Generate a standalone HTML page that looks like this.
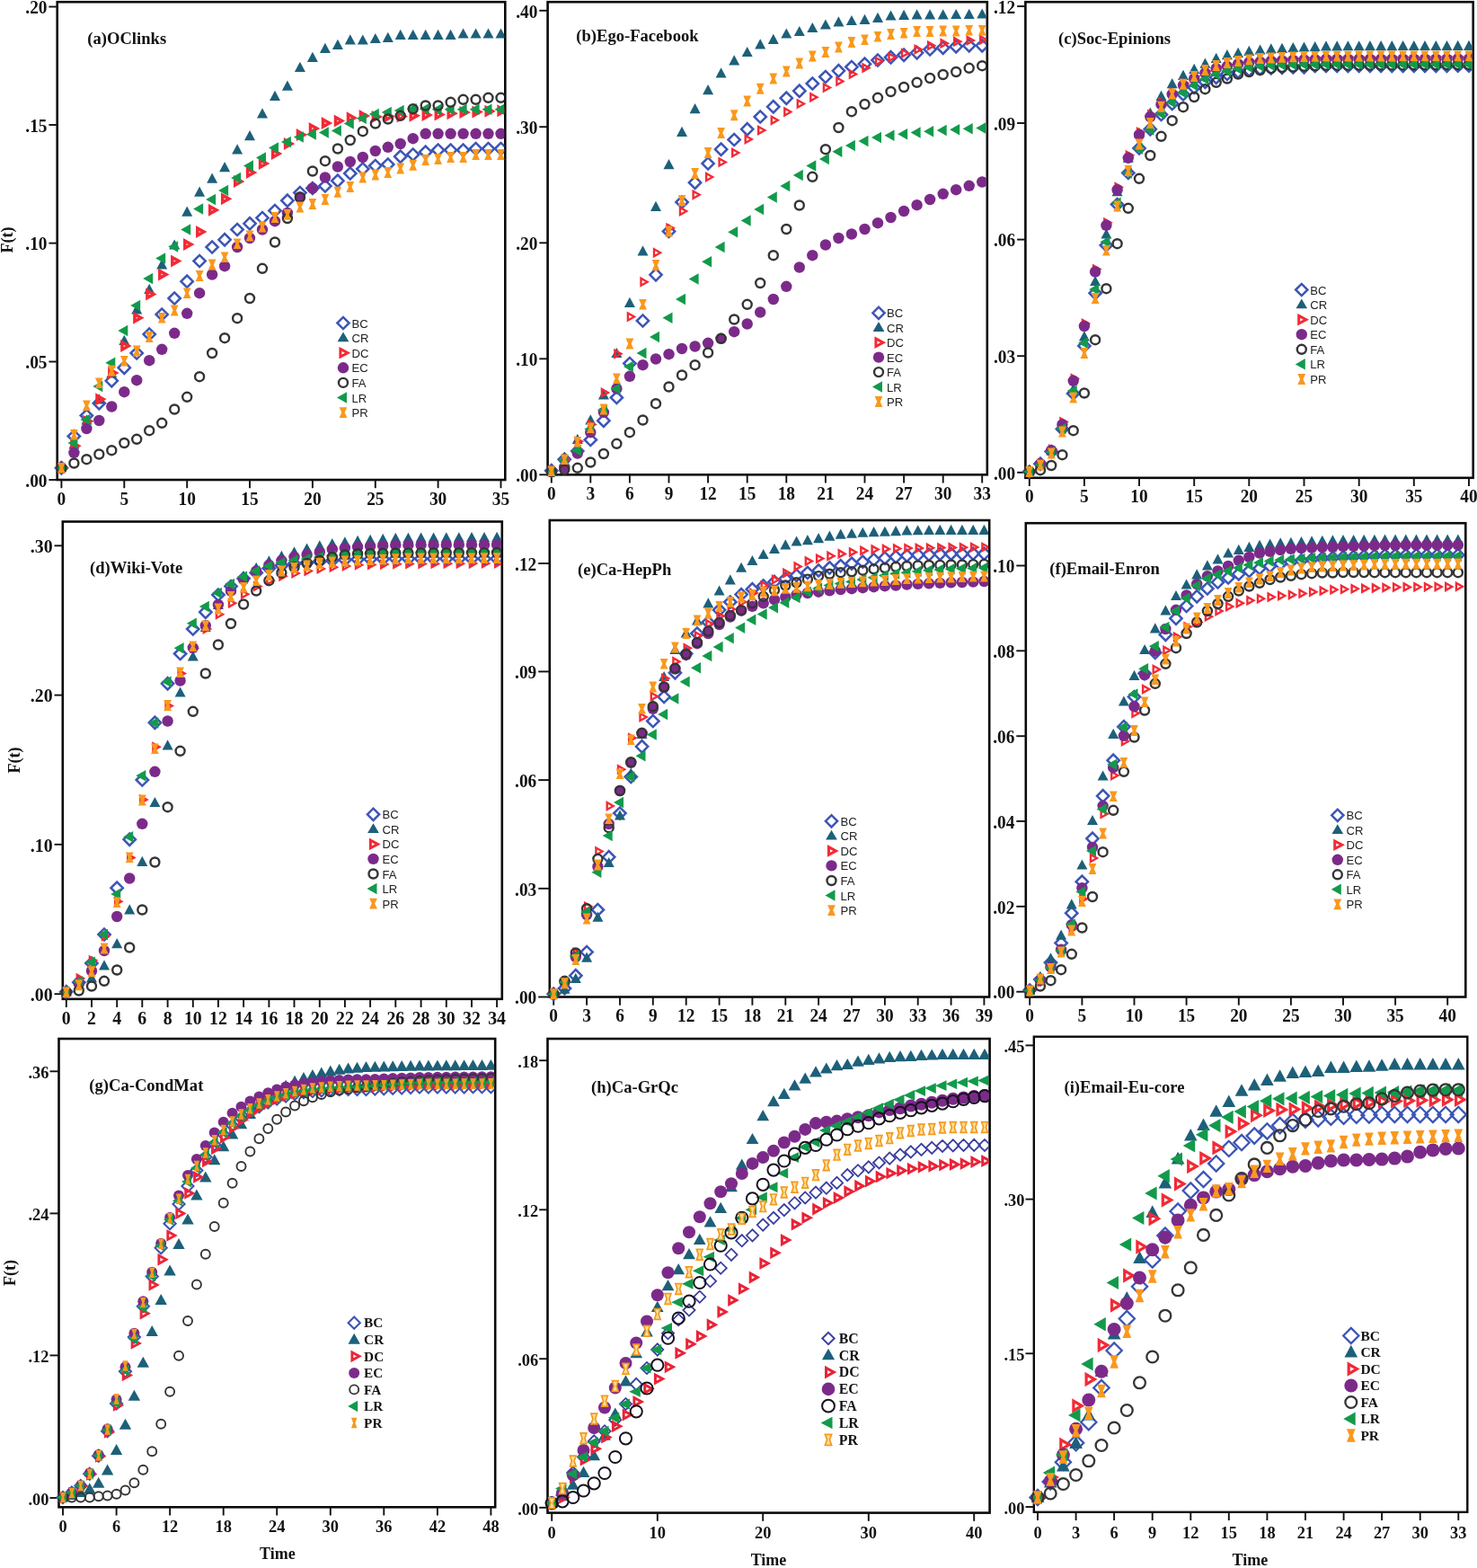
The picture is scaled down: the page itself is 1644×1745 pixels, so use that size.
<!DOCTYPE html>
<html lang="en">
<head>
<meta charset="utf-8">
<title>F(t) versus Time for nine networks</title>
<style>
html,body{margin:0;padding:0;background:#fff;}
body{width:1644px;height:1745px;overflow:hidden;}
svg{display:block;}
.ax{font-family:'Liberation Serif', 'DejaVu Serif', serif;font-weight:bold;fill:#111;}
.ti{font-family:'Liberation Serif', 'DejaVu Serif', serif;font-weight:bold;fill:#111;}
.lgs{font-family:'Liberation Sans', 'DejaVu Sans', sans-serif;fill:#222;}
.lgb{font-family:'Liberation Serif', 'DejaVu Serif', serif;font-weight:bold;fill:#111;}
</style>
</head>
<body>
<svg width="1644" height="1745" viewBox="0 0 1644 1745">
<rect width="1644" height="1745" fill="#fff"/>
<defs>
<clipPath id="ca"><rect x="51.7" y="0.9" width="509.7" height="545.1"/></clipPath>
<clipPath id="cb"><rect x="597.6" y="0.9" width="500.3" height="539.4"/></clipPath>
<clipPath id="cc"><rect x="1129.4" y="0.9" width="509.4" height="542.9"/></clipPath>
<clipPath id="cd"><rect x="57.8" y="579.2" width="500.1" height="544.6"/></clipPath>
<clipPath id="ce"><rect x="599.8" y="577.7" width="500.5" height="543.8"/></clipPath>
<clipPath id="cf"><rect x="1129.8" y="580.9" width="500.6" height="540.6"/></clipPath>
<clipPath id="cg"><rect x="53.5" y="1154.7" width="496.8" height="534.6"/></clipPath>
<clipPath id="ch"><rect x="597.5" y="1154.7" width="503.2" height="540.9"/></clipPath>
<clipPath id="ci"><rect x="1138.8" y="1152.5" width="493.7" height="542.3"/></clipPath>
</defs>
<rect x="63.7" y="2.2" width="498.6" height="531.8" fill="none" stroke="#0a0a0a" stroke-width="2.6"/>
<path d="M54.4 7.5H63.7" stroke="#111" stroke-width="1.9"/>
<text transform="translate(52.5 15.2) scale(0.93 1)" text-anchor="end" class="ax" font-size="20.8">.20</text>
<path d="M54.4 139H63.7" stroke="#111" stroke-width="1.9"/>
<text transform="translate(52.5 146.7) scale(0.93 1)" text-anchor="end" class="ax" font-size="20.8">.15</text>
<path d="M54.4 270.6H63.7" stroke="#111" stroke-width="1.9"/>
<text transform="translate(52.5 278.3) scale(0.93 1)" text-anchor="end" class="ax" font-size="20.8">.10</text>
<path d="M54.4 402.5H63.7" stroke="#111" stroke-width="1.9"/>
<text transform="translate(52.5 410.2) scale(0.93 1)" text-anchor="end" class="ax" font-size="20.8">.05</text>
<path d="M54.4 534H63.7" stroke="#111" stroke-width="1.9"/>
<text transform="translate(52.5 541.7) scale(0.93 1)" text-anchor="end" class="ax" font-size="20.8">.00</text>
<path d="M68.4 534V543.2" stroke="#111" stroke-width="1.9"/>
<text transform="translate(68.4 561.5) scale(0.93 1)" text-anchor="middle" class="ax" font-size="20.8">0</text>
<path d="M138.3 534V543.2" stroke="#111" stroke-width="1.9"/>
<text transform="translate(138.3 561.5) scale(0.93 1)" text-anchor="middle" class="ax" font-size="20.8">5</text>
<path d="M208.2 534V543.2" stroke="#111" stroke-width="1.9"/>
<text transform="translate(208.2 561.5) scale(0.93 1)" text-anchor="middle" class="ax" font-size="20.8">10</text>
<path d="M278 534V543.2" stroke="#111" stroke-width="1.9"/>
<text transform="translate(278 561.5) scale(0.93 1)" text-anchor="middle" class="ax" font-size="20.8">15</text>
<path d="M347.9 534V543.2" stroke="#111" stroke-width="1.9"/>
<text transform="translate(347.9 561.5) scale(0.93 1)" text-anchor="middle" class="ax" font-size="20.8">20</text>
<path d="M417.8 534V543.2" stroke="#111" stroke-width="1.9"/>
<text transform="translate(417.8 561.5) scale(0.93 1)" text-anchor="middle" class="ax" font-size="20.8">25</text>
<path d="M487.6 534V543.2" stroke="#111" stroke-width="1.9"/>
<text transform="translate(487.6 561.5) scale(0.93 1)" text-anchor="middle" class="ax" font-size="20.8">30</text>
<path d="M557.5 534V543.2" stroke="#111" stroke-width="1.9"/>
<text transform="translate(557.5 561.5) scale(0.93 1)" text-anchor="middle" class="ax" font-size="20.8">35</text>
<g clip-path="url(#ca)">
<g><path d="M61.8 520.8L68.4 514.1L75 520.8L68.4 527.4Z" fill="none" stroke="#3c55b6" stroke-width="2.5"/><path d="M75.7 485.5L82.4 478.9L89 485.5L82.4 492.1Z" fill="none" stroke="#3c55b6" stroke-width="2.5"/><path d="M89.7 462.5L96.4 455.9L103 462.5L96.4 469.1Z" fill="none" stroke="#3c55b6" stroke-width="2.5"/><path d="M103.7 448.8L110.3 442.1L117 448.8L110.3 455.4Z" fill="none" stroke="#3c55b6" stroke-width="2.5"/><path d="M117.7 423.8L124.3 417.1L130.9 423.8L124.3 430.4Z" fill="none" stroke="#3c55b6" stroke-width="2.5"/><path d="M131.6 409.2L138.3 402.6L144.9 409.2L138.3 415.9Z" fill="none" stroke="#3c55b6" stroke-width="2.5"/><path d="M145.6 393L152.2 386.4L158.9 393L152.2 399.6Z" fill="none" stroke="#3c55b6" stroke-width="2.5"/><path d="M159.6 372L166.2 365.4L172.9 372L166.2 378.6Z" fill="none" stroke="#3c55b6" stroke-width="2.5"/><path d="M173.6 350L180.2 343.4L186.8 350L180.2 356.6Z" fill="none" stroke="#3c55b6" stroke-width="2.5"/><path d="M187.5 332L194.2 325.4L200.8 332L194.2 338.6Z" fill="none" stroke="#3c55b6" stroke-width="2.5"/><path d="M201.5 313.2L208.2 306.6L214.8 313.2L208.2 319.9Z" fill="none" stroke="#3c55b6" stroke-width="2.5"/><path d="M215.5 290.5L222.1 283.9L228.8 290.5L222.1 297.1Z" fill="none" stroke="#3c55b6" stroke-width="2.5"/><path d="M229.5 275L236.1 268.4L242.7 275L236.1 281.6Z" fill="none" stroke="#3c55b6" stroke-width="2.5"/><path d="M243.4 266.8L250.1 260.1L256.7 266.8L250.1 273.4Z" fill="none" stroke="#3c55b6" stroke-width="2.5"/><path d="M257.4 255.5L264.1 248.9L270.7 255.5L264.1 262.1Z" fill="none" stroke="#3c55b6" stroke-width="2.5"/><path d="M271.4 248.8L278 242.1L284.7 248.8L278 255.4Z" fill="none" stroke="#3c55b6" stroke-width="2.5"/><path d="M285.4 242.5L292 235.9L298.6 242.5L292 249.1Z" fill="none" stroke="#3c55b6" stroke-width="2.5"/><path d="M299.3 234.5L306 227.9L312.6 234.5L306 241.1Z" fill="none" stroke="#3c55b6" stroke-width="2.5"/><path d="M313.3 223.2L319.9 216.6L326.6 223.2L319.9 229.9Z" fill="none" stroke="#3c55b6" stroke-width="2.5"/><path d="M327.3 214.5L333.9 207.9L340.6 214.5L333.9 221.1Z" fill="none" stroke="#3c55b6" stroke-width="2.5"/><path d="M341.3 209.5L347.9 202.9L354.5 209.5L347.9 216.1Z" fill="none" stroke="#3c55b6" stroke-width="2.5"/><path d="M355.2 207L361.9 200.4L368.5 207L361.9 213.6Z" fill="none" stroke="#3c55b6" stroke-width="2.5"/><path d="M369.2 201.2L375.9 194.6L382.5 201.2L375.9 207.9Z" fill="none" stroke="#3c55b6" stroke-width="2.5"/><path d="M383.2 193L389.8 186.4L396.5 193L389.8 199.6Z" fill="none" stroke="#3c55b6" stroke-width="2.5"/><path d="M397.2 188L403.8 181.4L410.4 188L403.8 194.6Z" fill="none" stroke="#3c55b6" stroke-width="2.5"/><path d="M411.1 184.5L417.8 177.9L424.4 184.5L417.8 191.1Z" fill="none" stroke="#3c55b6" stroke-width="2.5"/><path d="M425.1 183L431.8 176.4L438.4 183L431.8 189.6Z" fill="none" stroke="#3c55b6" stroke-width="2.5"/><path d="M439.1 174.2L445.7 167.6L452.4 174.2L445.7 180.9Z" fill="none" stroke="#3c55b6" stroke-width="2.5"/><path d="M453.1 172L459.7 165.4L466.3 172L459.7 178.6Z" fill="none" stroke="#3c55b6" stroke-width="2.5"/><path d="M467 169.2L473.7 162.6L480.3 169.2L473.7 175.9Z" fill="none" stroke="#3c55b6" stroke-width="2.5"/><path d="M481 167L487.6 160.4L494.3 167L487.6 173.6Z" fill="none" stroke="#3c55b6" stroke-width="2.5"/><path d="M495 167L501.6 160.4L508.3 167L501.6 173.6Z" fill="none" stroke="#3c55b6" stroke-width="2.5"/><path d="M509 167L515.6 160.4L522.2 167L515.6 173.6Z" fill="none" stroke="#3c55b6" stroke-width="2.5"/><path d="M522.9 165.5L529.6 158.9L536.2 165.5L529.6 172.1Z" fill="none" stroke="#3c55b6" stroke-width="2.5"/><path d="M536.9 165.5L543.5 158.9L550.2 165.5L543.5 172.1Z" fill="none" stroke="#3c55b6" stroke-width="2.5"/><path d="M550.9 165.5L557.5 158.9L564.2 165.5L557.5 172.1Z" fill="none" stroke="#3c55b6" stroke-width="2.5"/></g>
<g><path d="M62.4 525.1L68.4 514L74.4 525.1Z" fill="#1d6079"/><path d="M76.4 499.4L82.4 488.3L88.4 499.4Z" fill="#1d6079"/><path d="M90.4 472.4L96.4 461.3L102.4 472.4Z" fill="#1d6079"/><path d="M104.3 449.4L110.3 438.3L116.3 449.4Z" fill="#1d6079"/><path d="M118.3 420.6L124.3 409.6L130.3 420.6Z" fill="#1d6079"/><path d="M132.3 383.9L138.3 372.8L144.3 383.9Z" fill="#1d6079"/><path d="M146.2 349.4L152.2 338.3L158.2 349.4Z" fill="#1d6079"/><path d="M160.2 326.9L166.2 315.8L172.2 326.9Z" fill="#1d6079"/><path d="M174.2 299.4L180.2 288.3L186.2 299.4Z" fill="#1d6079"/><path d="M188.2 277.6L194.2 266.6L200.2 277.6Z" fill="#1d6079"/><path d="M202.2 240.7L208.2 229.6L214.2 240.7Z" fill="#1d6079"/><path d="M216.1 218.7L222.1 207.6L228.1 218.7Z" fill="#1d6079"/><path d="M230.1 203.7L236.1 192.6L242.1 203.7Z" fill="#1d6079"/><path d="M244.1 191.2L250.1 180.1L256.1 191.2Z" fill="#1d6079"/><path d="M258.1 171.4L264.1 160.3L270.1 171.4Z" fill="#1d6079"/><path d="M272 156.2L278 145.1L284 156.2Z" fill="#1d6079"/><path d="M286 131.4L292 120.3L298 131.4Z" fill="#1d6079"/><path d="M300 111.9L306 100.8L312 111.9Z" fill="#1d6079"/><path d="M313.9 100.7L319.9 89.5L325.9 100.7Z" fill="#1d6079"/><path d="M327.9 79.9L333.9 68.8L339.9 79.9Z" fill="#1d6079"/><path d="M341.9 68.9L347.9 57.8L353.9 68.9Z" fill="#1d6079"/><path d="M355.9 58.9L361.9 47.8L367.9 58.9Z" fill="#1d6079"/><path d="M369.9 54.9L375.9 43.8L381.9 54.9Z" fill="#1d6079"/><path d="M383.8 49.4L389.8 38.3L395.8 49.4Z" fill="#1d6079"/><path d="M397.8 49.6L403.8 38.5L409.8 49.6Z" fill="#1d6079"/><path d="M411.8 48.1L417.8 37L423.8 48.1Z" fill="#1d6079"/><path d="M425.8 46.9L431.8 35.8L437.8 46.9Z" fill="#1d6079"/><path d="M439.7 43.9L445.7 32.8L451.7 43.9Z" fill="#1d6079"/><path d="M453.7 43.9L459.7 32.8L465.7 43.9Z" fill="#1d6079"/><path d="M467.7 43.9L473.7 32.8L479.7 43.9Z" fill="#1d6079"/><path d="M481.6 43.9L487.6 32.8L493.6 43.9Z" fill="#1d6079"/><path d="M495.6 43.9L501.6 32.8L507.6 43.9Z" fill="#1d6079"/><path d="M509.6 42.6L515.6 31.6L521.6 42.6Z" fill="#1d6079"/><path d="M523.6 42.6L529.6 31.6L535.6 42.6Z" fill="#1d6079"/><path d="M537.5 42.6L543.5 31.6L549.5 42.6Z" fill="#1d6079"/><path d="M551.5 42.6L557.5 31.6L563.5 42.6Z" fill="#1d6079"/></g>
<g><path d="M66 516.7L73.2 520.8L66 524.8Z" fill="none" stroke="#f32a35" stroke-width="3.5" stroke-linejoin="miter" stroke-miterlimit="10"/><path d="M80 492.2L87.2 496.2L80 500.3Z" fill="none" stroke="#f32a35" stroke-width="3.5" stroke-linejoin="miter" stroke-miterlimit="10"/><path d="M94 464.7L101.1 468.8L94 472.8Z" fill="none" stroke="#f32a35" stroke-width="3.5" stroke-linejoin="miter" stroke-miterlimit="10"/><path d="M108 440.2L115.1 444.2L108 448.3Z" fill="none" stroke="#f32a35" stroke-width="3.5" stroke-linejoin="miter" stroke-miterlimit="10"/><path d="M121.9 411L129.1 415L121.9 419Z" fill="none" stroke="#f32a35" stroke-width="3.5" stroke-linejoin="miter" stroke-miterlimit="10"/><path d="M135.9 381L143.1 385L135.9 389Z" fill="none" stroke="#f32a35" stroke-width="3.5" stroke-linejoin="miter" stroke-miterlimit="10"/><path d="M149.9 349.7L157 353.8L149.9 357.8Z" fill="none" stroke="#f32a35" stroke-width="3.5" stroke-linejoin="miter" stroke-miterlimit="10"/><path d="M163.9 323.5L171 327.5L163.9 331.5Z" fill="none" stroke="#f32a35" stroke-width="3.5" stroke-linejoin="miter" stroke-miterlimit="10"/><path d="M177.8 301.5L185 305.5L177.8 309.5Z" fill="none" stroke="#f32a35" stroke-width="3.5" stroke-linejoin="miter" stroke-miterlimit="10"/><path d="M191.8 286.5L199 290.5L191.8 294.5Z" fill="none" stroke="#f32a35" stroke-width="3.5" stroke-linejoin="miter" stroke-miterlimit="10"/><path d="M205.8 268L212.9 272L205.8 276Z" fill="none" stroke="#f32a35" stroke-width="3.5" stroke-linejoin="miter" stroke-miterlimit="10"/><path d="M219.8 254L226.9 258L219.8 262Z" fill="none" stroke="#f32a35" stroke-width="3.5" stroke-linejoin="miter" stroke-miterlimit="10"/><path d="M233.7 229.7L240.9 233.8L233.7 237.8Z" fill="none" stroke="#f32a35" stroke-width="3.5" stroke-linejoin="miter" stroke-miterlimit="10"/><path d="M247.7 217.2L254.9 221.2L247.7 225.3Z" fill="none" stroke="#f32a35" stroke-width="3.5" stroke-linejoin="miter" stroke-miterlimit="10"/><path d="M261.7 198L268.8 202L261.7 206Z" fill="none" stroke="#f32a35" stroke-width="3.5" stroke-linejoin="miter" stroke-miterlimit="10"/><path d="M275.6 188L282.8 192L275.6 196Z" fill="none" stroke="#f32a35" stroke-width="3.5" stroke-linejoin="miter" stroke-miterlimit="10"/><path d="M289.6 178L296.8 182L289.6 186Z" fill="none" stroke="#f32a35" stroke-width="3.5" stroke-linejoin="miter" stroke-miterlimit="10"/><path d="M303.6 167L310.8 171L303.6 175Z" fill="none" stroke="#f32a35" stroke-width="3.5" stroke-linejoin="miter" stroke-miterlimit="10"/><path d="M317.6 156L324.7 160L317.6 164Z" fill="none" stroke="#f32a35" stroke-width="3.5" stroke-linejoin="miter" stroke-miterlimit="10"/><path d="M331.5 146L338.7 150L331.5 154Z" fill="none" stroke="#f32a35" stroke-width="3.5" stroke-linejoin="miter" stroke-miterlimit="10"/><path d="M345.5 139L352.7 143L345.5 147Z" fill="none" stroke="#f32a35" stroke-width="3.5" stroke-linejoin="miter" stroke-miterlimit="10"/><path d="M359.5 133L366.7 137L359.5 141Z" fill="none" stroke="#f32a35" stroke-width="3.5" stroke-linejoin="miter" stroke-miterlimit="10"/><path d="M373.5 130.5L380.6 134.5L373.5 138.5Z" fill="none" stroke="#f32a35" stroke-width="3.5" stroke-linejoin="miter" stroke-miterlimit="10"/><path d="M387.5 127.2L394.6 131.2L387.5 135.3Z" fill="none" stroke="#f32a35" stroke-width="3.5" stroke-linejoin="miter" stroke-miterlimit="10"/><path d="M401.4 125L408.6 129L401.4 133Z" fill="none" stroke="#f32a35" stroke-width="3.5" stroke-linejoin="miter" stroke-miterlimit="10"/><path d="M415.4 126L422.6 130L415.4 134Z" fill="none" stroke="#f32a35" stroke-width="3.5" stroke-linejoin="miter" stroke-miterlimit="10"/><path d="M429.4 125.5L436.5 129.5L429.4 133.5Z" fill="none" stroke="#f32a35" stroke-width="3.5" stroke-linejoin="miter" stroke-miterlimit="10"/><path d="M443.4 125.5L450.5 129.5L443.4 133.5Z" fill="none" stroke="#f32a35" stroke-width="3.5" stroke-linejoin="miter" stroke-miterlimit="10"/><path d="M457.3 124.7L464.5 128.8L457.3 132.8Z" fill="none" stroke="#f32a35" stroke-width="3.5" stroke-linejoin="miter" stroke-miterlimit="10"/><path d="M471.3 124L478.5 128L471.3 132Z" fill="none" stroke="#f32a35" stroke-width="3.5" stroke-linejoin="miter" stroke-miterlimit="10"/><path d="M485.3 123.5L492.4 127.5L485.3 131.5Z" fill="none" stroke="#f32a35" stroke-width="3.5" stroke-linejoin="miter" stroke-miterlimit="10"/><path d="M499.2 122.2L506.4 126.2L499.2 130.3Z" fill="none" stroke="#f32a35" stroke-width="3.5" stroke-linejoin="miter" stroke-miterlimit="10"/><path d="M513.2 121L520.4 125L513.2 129Z" fill="none" stroke="#f32a35" stroke-width="3.5" stroke-linejoin="miter" stroke-miterlimit="10"/><path d="M527.2 120.5L534.4 124.5L527.2 128.5Z" fill="none" stroke="#f32a35" stroke-width="3.5" stroke-linejoin="miter" stroke-miterlimit="10"/><path d="M541.2 119.7L548.3 123.8L541.2 127.8Z" fill="none" stroke="#f32a35" stroke-width="3.5" stroke-linejoin="miter" stroke-miterlimit="10"/><path d="M555.1 119.2L562.3 123.2L555.1 127.3Z" fill="none" stroke="#f32a35" stroke-width="3.5" stroke-linejoin="miter" stroke-miterlimit="10"/></g>
<g><circle cx="68.4" cy="520.8" r="6.2" fill="#7c2a8a"/><circle cx="82.4" cy="503.8" r="6.2" fill="#7c2a8a"/><circle cx="96.4" cy="477" r="6.2" fill="#7c2a8a"/><circle cx="110.3" cy="468" r="6.2" fill="#7c2a8a"/><circle cx="124.3" cy="452.5" r="6.2" fill="#7c2a8a"/><circle cx="138.3" cy="436.2" r="6.2" fill="#7c2a8a"/><circle cx="152.2" cy="423.2" r="6.2" fill="#7c2a8a"/><circle cx="166.2" cy="401.2" r="6.2" fill="#7c2a8a"/><circle cx="180.2" cy="388.8" r="6.2" fill="#7c2a8a"/><circle cx="194.2" cy="370.8" r="6.2" fill="#7c2a8a"/><circle cx="208.2" cy="348.8" r="6.2" fill="#7c2a8a"/><circle cx="222.1" cy="326.2" r="6.2" fill="#7c2a8a"/><circle cx="236.1" cy="305.5" r="6.2" fill="#7c2a8a"/><circle cx="250.1" cy="296.2" r="6.2" fill="#7c2a8a"/><circle cx="264.1" cy="275" r="6.2" fill="#7c2a8a"/><circle cx="278" cy="265" r="6.2" fill="#7c2a8a"/><circle cx="292" cy="255.5" r="6.2" fill="#7c2a8a"/><circle cx="306" cy="246.2" r="6.2" fill="#7c2a8a"/><circle cx="319.9" cy="237" r="6.2" fill="#7c2a8a"/><circle cx="333.9" cy="219.5" r="6.2" fill="#7c2a8a"/><circle cx="347.9" cy="209.5" r="6.2" fill="#7c2a8a"/><circle cx="361.9" cy="197.5" r="6.2" fill="#7c2a8a"/><circle cx="375.9" cy="185.5" r="6.2" fill="#7c2a8a"/><circle cx="389.8" cy="180" r="6.2" fill="#7c2a8a"/><circle cx="403.8" cy="175" r="6.2" fill="#7c2a8a"/><circle cx="417.8" cy="168" r="6.2" fill="#7c2a8a"/><circle cx="431.8" cy="163.8" r="6.2" fill="#7c2a8a"/><circle cx="445.7" cy="160" r="6.2" fill="#7c2a8a"/><circle cx="459.7" cy="154.2" r="6.2" fill="#7c2a8a"/><circle cx="473.7" cy="148.8" r="6.2" fill="#7c2a8a"/><circle cx="487.6" cy="148.8" r="6.2" fill="#7c2a8a"/><circle cx="501.6" cy="148.8" r="6.2" fill="#7c2a8a"/><circle cx="515.6" cy="148.8" r="6.2" fill="#7c2a8a"/><circle cx="529.6" cy="148.8" r="6.2" fill="#7c2a8a"/><circle cx="543.5" cy="148.8" r="6.2" fill="#7c2a8a"/><circle cx="557.5" cy="148.8" r="6.2" fill="#7c2a8a"/></g>
<g><path d="M72.4 514.5L61.4 520.8L72.4 527Z" fill="#129a4b"/><path d="M86.4 486.8L75.4 493L86.4 499.2Z" fill="#129a4b"/><path d="M100.4 460.8L89.4 467L100.4 473.2Z" fill="#129a4b"/><path d="M114.3 423.8L103.3 430L114.3 436.2Z" fill="#129a4b"/><path d="M128.3 397.5L117.3 403.8L128.3 410Z" fill="#129a4b"/><path d="M142.3 361.8L131.3 368L142.3 374.2Z" fill="#129a4b"/><path d="M156.2 333.8L145.2 340L156.2 346.2Z" fill="#129a4b"/><path d="M170.2 303.8L159.2 310L170.2 316.2Z" fill="#129a4b"/><path d="M184.2 281.2L173.2 287.5L184.2 293.8Z" fill="#129a4b"/><path d="M198.2 268.2L187.2 274.5L198.2 280.8Z" fill="#129a4b"/><path d="M212.2 249.2L201.2 255.5L212.2 261.8Z" fill="#129a4b"/><path d="M226.1 226.2L215.1 232.5L226.1 238.8Z" fill="#129a4b"/><path d="M240.1 215.8L229.1 222L240.1 228.2Z" fill="#129a4b"/><path d="M254.1 205.8L243.1 212L254.1 218.2Z" fill="#129a4b"/><path d="M268.1 191.8L257.1 198L268.1 204.2Z" fill="#129a4b"/><path d="M282 178.2L271 184.5L282 190.8Z" fill="#129a4b"/><path d="M296 169.2L285 175.5L296 181.8Z" fill="#129a4b"/><path d="M310 158.2L299 164.5L310 170.8Z" fill="#129a4b"/><path d="M323.9 151.8L312.9 158L323.9 164.2Z" fill="#129a4b"/><path d="M337.9 146.2L326.9 152.5L337.9 158.8Z" fill="#129a4b"/><path d="M351.9 143.2L340.9 149.5L351.9 155.8Z" fill="#129a4b"/><path d="M365.9 141.2L354.9 147.5L365.9 153.8Z" fill="#129a4b"/><path d="M379.9 139.2L368.9 145.5L379.9 151.8Z" fill="#129a4b"/><path d="M393.8 131.2L382.8 137.5L393.8 143.8Z" fill="#129a4b"/><path d="M407.8 125.5L396.8 131.8L407.8 138Z" fill="#129a4b"/><path d="M421.8 120.8L410.8 127L421.8 133.2Z" fill="#129a4b"/><path d="M435.8 118.8L424.8 125L435.8 131.2Z" fill="#129a4b"/><path d="M449.7 116.8L438.7 123L449.7 129.2Z" fill="#129a4b"/><path d="M463.7 115L452.7 121.2L463.7 127.5Z" fill="#129a4b"/><path d="M477.7 115L466.7 121.2L477.7 127.5Z" fill="#129a4b"/><path d="M491.6 115.5L480.6 121.8L491.6 128Z" fill="#129a4b"/><path d="M505.6 115.5L494.6 121.8L505.6 128Z" fill="#129a4b"/><path d="M519.6 115.5L508.6 121.8L519.6 128Z" fill="#129a4b"/><path d="M533.6 115.5L522.6 121.8L533.6 128Z" fill="#129a4b"/><path d="M547.5 115.5L536.5 121.8L547.5 128Z" fill="#129a4b"/><path d="M561.5 115.5L550.5 121.8L561.5 128Z" fill="#129a4b"/></g>
<g><circle cx="68.4" cy="520.8" r="5" fill="none" stroke="#353535" stroke-width="2.4"/><circle cx="82.4" cy="515.5" r="5" fill="none" stroke="#353535" stroke-width="2.4"/><circle cx="96.4" cy="511.2" r="5" fill="none" stroke="#353535" stroke-width="2.4"/><circle cx="110.3" cy="505.5" r="5" fill="none" stroke="#353535" stroke-width="2.4"/><circle cx="124.3" cy="501.2" r="5" fill="none" stroke="#353535" stroke-width="2.4"/><circle cx="138.3" cy="493" r="5" fill="none" stroke="#353535" stroke-width="2.4"/><circle cx="152.2" cy="488.8" r="5" fill="none" stroke="#353535" stroke-width="2.4"/><circle cx="166.2" cy="479.2" r="5" fill="none" stroke="#353535" stroke-width="2.4"/><circle cx="180.2" cy="470.8" r="5" fill="none" stroke="#353535" stroke-width="2.4"/><circle cx="194.2" cy="455.5" r="5" fill="none" stroke="#353535" stroke-width="2.4"/><circle cx="208.2" cy="441.8" r="5" fill="none" stroke="#353535" stroke-width="2.4"/><circle cx="222.1" cy="419.2" r="5" fill="none" stroke="#353535" stroke-width="2.4"/><circle cx="236.1" cy="393" r="5" fill="none" stroke="#353535" stroke-width="2.4"/><circle cx="250.1" cy="376.2" r="5" fill="none" stroke="#353535" stroke-width="2.4"/><circle cx="264.1" cy="354.2" r="5" fill="none" stroke="#353535" stroke-width="2.4"/><circle cx="278" cy="332" r="5" fill="none" stroke="#353535" stroke-width="2.4"/><circle cx="292" cy="298.8" r="5" fill="none" stroke="#353535" stroke-width="2.4"/><circle cx="306" cy="269.5" r="5" fill="none" stroke="#353535" stroke-width="2.4"/><circle cx="319.9" cy="243" r="5" fill="none" stroke="#353535" stroke-width="2.4"/><circle cx="333.9" cy="219.5" r="5" fill="none" stroke="#353535" stroke-width="2.4"/><circle cx="347.9" cy="190.5" r="5" fill="none" stroke="#353535" stroke-width="2.4"/><circle cx="361.9" cy="179.2" r="5" fill="none" stroke="#353535" stroke-width="2.4"/><circle cx="375.9" cy="165.5" r="5" fill="none" stroke="#353535" stroke-width="2.4"/><circle cx="389.8" cy="156" r="5" fill="none" stroke="#353535" stroke-width="2.4"/><circle cx="403.8" cy="146.2" r="5" fill="none" stroke="#353535" stroke-width="2.4"/><circle cx="417.8" cy="137.5" r="5" fill="none" stroke="#353535" stroke-width="2.4"/><circle cx="431.8" cy="132.5" r="5" fill="none" stroke="#353535" stroke-width="2.4"/><circle cx="445.7" cy="128.8" r="5" fill="none" stroke="#353535" stroke-width="2.4"/><circle cx="459.7" cy="121.2" r="5" fill="none" stroke="#353535" stroke-width="2.4"/><circle cx="473.7" cy="117.5" r="5" fill="none" stroke="#353535" stroke-width="2.4"/><circle cx="487.6" cy="117.5" r="5" fill="none" stroke="#353535" stroke-width="2.4"/><circle cx="501.6" cy="113.8" r="5" fill="none" stroke="#353535" stroke-width="2.4"/><circle cx="515.6" cy="110.8" r="5" fill="none" stroke="#353535" stroke-width="2.4"/><circle cx="529.6" cy="110.8" r="5" fill="none" stroke="#353535" stroke-width="2.4"/><circle cx="543.5" cy="108.8" r="5" fill="none" stroke="#353535" stroke-width="2.4"/><circle cx="557.5" cy="108.8" r="5" fill="none" stroke="#353535" stroke-width="2.4"/></g>
<g><path d="M64 514.9H72.8L70.1 520.8L72.8 526.6H64L66.7 520.8Z" fill="#fa981c"/><path d="M78 477.9H86.8L84.1 483.8L86.8 489.6H78L80.7 483.8Z" fill="#fa981c"/><path d="M92 445.4H100.8L98.1 451.2L100.8 457.1H92L94.7 451.2Z" fill="#fa981c"/><path d="M105.9 420.4H114.7L112 426.2L114.7 432.1H105.9L108.6 426.2Z" fill="#fa981c"/><path d="M119.9 406.6H128.7L126 412.5L128.7 418.4H119.9L122.6 412.5Z" fill="#fa981c"/><path d="M133.9 395.9H142.7L140 401.8L142.7 407.6H133.9L136.6 401.8Z" fill="#fa981c"/><path d="M147.8 384.6H156.7L153.9 390.5L156.7 396.4H147.8L150.6 390.5Z" fill="#fa981c"/><path d="M161.8 369.1H170.6L167.9 375L170.6 380.9H161.8L164.5 375Z" fill="#fa981c"/><path d="M175.8 347.9H184.6L181.9 353.8L184.6 359.6H175.8L178.5 353.8Z" fill="#fa981c"/><path d="M189.8 339.6H198.6L195.9 345.5L198.6 351.4H189.8L192.5 345.5Z" fill="#fa981c"/><path d="M203.8 320.4H212.6L209.8 326.2L212.6 332.1H203.8L206.5 326.2Z" fill="#fa981c"/><path d="M217.7 301.1H226.5L223.8 307L226.5 312.9H217.7L220.4 307Z" fill="#fa981c"/><path d="M231.7 288.6H240.5L237.8 294.5L240.5 300.4H231.7L234.4 294.5Z" fill="#fa981c"/><path d="M245.7 280.4H254.5L251.8 286.2L254.5 292.1H245.7L248.4 286.2Z" fill="#fa981c"/><path d="M259.7 265.4H268.4L265.8 271.2L268.4 277.1H259.7L262.4 271.2Z" fill="#fa981c"/><path d="M273.6 256.6H282.4L279.7 262.5L282.4 268.4H273.6L276.3 262.5Z" fill="#fa981c"/><path d="M287.6 246.6H296.4L293.7 252.5L296.4 258.4H287.6L290.3 252.5Z" fill="#fa981c"/><path d="M301.6 236.1H310.4L307.7 242L310.4 247.9H301.6L304.3 242Z" fill="#fa981c"/><path d="M315.6 232.8H324.3L321.6 238.8L324.3 244.7H315.6L318.2 238.8Z" fill="#fa981c"/><path d="M329.5 224.6H338.3L335.6 230.5L338.3 236.4H329.5L332.2 230.5Z" fill="#fa981c"/><path d="M343.5 221.1H352.3L349.6 227L352.3 232.9H343.5L346.2 227Z" fill="#fa981c"/><path d="M357.5 216.1H366.3L363.6 222L366.3 227.9H357.5L360.2 222Z" fill="#fa981c"/><path d="M371.5 207.8H380.2L377.6 213.8L380.2 219.7H371.5L374.2 213.8Z" fill="#fa981c"/><path d="M385.4 202.1H394.2L391.5 208L394.2 213.9H385.4L388.1 208Z" fill="#fa981c"/><path d="M399.4 191.6H408.2L405.5 197.5L408.2 203.4H399.4L402.1 197.5Z" fill="#fa981c"/><path d="M413.4 188.6H422.2L419.5 194.5L422.2 200.4H413.4L416.1 194.5Z" fill="#fa981c"/><path d="M427.4 186.1H436.1L433.4 192L436.1 197.9H427.4L430.1 192Z" fill="#fa981c"/><path d="M441.3 181.6H450.1L447.4 187.5L450.1 193.4H441.3L444 187.5Z" fill="#fa981c"/><path d="M455.3 177.8H464.1L461.4 183.8L464.1 189.7H455.3L458 183.8Z" fill="#fa981c"/><path d="M469.3 172.1H478.1L475.4 178L478.1 183.9H469.3L472 178Z" fill="#fa981c"/><path d="M483.2 171.1H492L489.3 177L492 182.9H483.2L485.9 177Z" fill="#fa981c"/><path d="M497.2 169.1H506L503.3 175L506 180.9H497.2L499.9 175Z" fill="#fa981c"/><path d="M511.2 169.1H520L517.3 175L520 180.9H511.2L513.9 175Z" fill="#fa981c"/><path d="M525.2 166.1H534L531.3 172L534 177.9H525.2L527.9 172Z" fill="#fa981c"/><path d="M539.1 166.1H547.9L545.2 172L547.9 177.9H539.1L541.8 172Z" fill="#fa981c"/><path d="M553.1 166.1H561.9L559.2 172L561.9 177.9H553.1L555.8 172Z" fill="#fa981c"/></g>
</g>
<text x="97.3" y="49.4" class="ti" font-size="18.6">(a)OClinks</text>
<path d="M375.4 359.5L382 352.9L388.6 359.5L382 366.1Z" fill="none" stroke="#3c55b6" stroke-width="2.5"/>
<text x="391.5" y="364.5" class="lgs" font-size="13.1">BC</text>
<path d="M375.6 380.2L382 369.5L388.4 380.2Z" fill="#1d6079"/>
<text x="391.5" y="381.1" class="lgs" font-size="13.1">CR</text>
<path d="M378.9 388.4L387 392.7L378.9 397Z" fill="none" stroke="#f32a35" stroke-width="3" stroke-linejoin="miter" stroke-miterlimit="10"/>
<text x="391.5" y="397.7" class="lgs" font-size="13.1">DC</text>
<circle cx="382" cy="409.3" r="6.2" fill="#7c2a8a"/>
<text x="391.5" y="414.3" class="lgs" font-size="13.1">EC</text>
<circle cx="382" cy="425.9" r="5" fill="none" stroke="#353535" stroke-width="2.4"/>
<text x="391.5" y="430.9" class="lgs" font-size="13.1">FA</text>
<path d="M386 436.2L375 442.5L386 448.8Z" fill="#129a4b"/>
<text x="391.5" y="447.5" class="lgs" font-size="13.1">LR</text>
<path d="M377.6 453.2H386.4L383.7 459.1L386.4 465H377.6L380.3 459.1Z" fill="#fa981c"/>
<text x="391.5" y="464.1" class="lgs" font-size="13.1">PR</text>
<text transform="translate(8 267) rotate(-90)" text-anchor="middle" class="ti" font-size="18" dy="6">F(t)</text>
<rect x="609.6" y="2.2" width="489.2" height="526.1" fill="none" stroke="#0a0a0a" stroke-width="2.6"/>
<path d="M600.3 11.8H609.6" stroke="#111" stroke-width="1.9"/>
<text transform="translate(598.4 19.5) scale(0.93 1)" text-anchor="end" class="ax" font-size="20.8">.40</text>
<path d="M600.3 141.2H609.6" stroke="#111" stroke-width="1.9"/>
<text transform="translate(598.4 148.9) scale(0.93 1)" text-anchor="end" class="ax" font-size="20.8">.30</text>
<path d="M600.3 270.3H609.6" stroke="#111" stroke-width="1.9"/>
<text transform="translate(598.4 278) scale(0.93 1)" text-anchor="end" class="ax" font-size="20.8">.20</text>
<path d="M600.3 399.3H609.6" stroke="#111" stroke-width="1.9"/>
<text transform="translate(598.4 407) scale(0.93 1)" text-anchor="end" class="ax" font-size="20.8">.10</text>
<path d="M600.3 528.3H609.6" stroke="#111" stroke-width="1.9"/>
<text transform="translate(598.4 536) scale(0.93 1)" text-anchor="end" class="ax" font-size="20.8">.00</text>
<path d="M613.8 528.3V537.5" stroke="#111" stroke-width="1.9"/>
<text transform="translate(613.8 555.8) scale(0.93 1)" text-anchor="middle" class="ax" font-size="20.8">0</text>
<path d="M657.3 528.3V537.5" stroke="#111" stroke-width="1.9"/>
<text transform="translate(657.3 555.8) scale(0.93 1)" text-anchor="middle" class="ax" font-size="20.8">3</text>
<path d="M700.9 528.3V537.5" stroke="#111" stroke-width="1.9"/>
<text transform="translate(700.9 555.8) scale(0.93 1)" text-anchor="middle" class="ax" font-size="20.8">6</text>
<path d="M744.5 528.3V537.5" stroke="#111" stroke-width="1.9"/>
<text transform="translate(744.5 555.8) scale(0.93 1)" text-anchor="middle" class="ax" font-size="20.8">9</text>
<path d="M788.1 528.3V537.5" stroke="#111" stroke-width="1.9"/>
<text transform="translate(788.1 555.8) scale(0.93 1)" text-anchor="middle" class="ax" font-size="20.8">12</text>
<path d="M831.7 528.3V537.5" stroke="#111" stroke-width="1.9"/>
<text transform="translate(831.7 555.8) scale(0.93 1)" text-anchor="middle" class="ax" font-size="20.8">15</text>
<path d="M875.3 528.3V537.5" stroke="#111" stroke-width="1.9"/>
<text transform="translate(875.3 555.8) scale(0.93 1)" text-anchor="middle" class="ax" font-size="20.8">18</text>
<path d="M918.9 528.3V537.5" stroke="#111" stroke-width="1.9"/>
<text transform="translate(918.9 555.8) scale(0.93 1)" text-anchor="middle" class="ax" font-size="20.8">21</text>
<path d="M962.5 528.3V537.5" stroke="#111" stroke-width="1.9"/>
<text transform="translate(962.5 555.8) scale(0.93 1)" text-anchor="middle" class="ax" font-size="20.8">24</text>
<path d="M1006.1 528.3V537.5" stroke="#111" stroke-width="1.9"/>
<text transform="translate(1006.1 555.8) scale(0.93 1)" text-anchor="middle" class="ax" font-size="20.8">27</text>
<path d="M1049.7 528.3V537.5" stroke="#111" stroke-width="1.9"/>
<text transform="translate(1049.7 555.8) scale(0.93 1)" text-anchor="middle" class="ax" font-size="20.8">30</text>
<path d="M1093.2 528.3V537.5" stroke="#111" stroke-width="1.9"/>
<text transform="translate(1093.2 555.8) scale(0.93 1)" text-anchor="middle" class="ax" font-size="20.8">33</text>
<g clip-path="url(#cb)">
<g><path d="M607.1 523.8L613.8 517.1L620.4 523.8L613.8 530.4Z" fill="none" stroke="#3c55b6" stroke-width="2.5"/><path d="M621.6 511.2L628.3 504.6L634.9 511.2L628.3 517.9Z" fill="none" stroke="#3c55b6" stroke-width="2.5"/><path d="M636.2 502L642.8 495.4L649.4 502L642.8 508.6Z" fill="none" stroke="#3c55b6" stroke-width="2.5"/><path d="M650.7 489.5L657.3 482.9L664 489.5L657.3 496.1Z" fill="none" stroke="#3c55b6" stroke-width="2.5"/><path d="M665.2 468.2L671.9 461.6L678.5 468.2L671.9 474.9Z" fill="none" stroke="#3c55b6" stroke-width="2.5"/><path d="M679.8 442.5L686.4 435.9L693 442.5L686.4 449.1Z" fill="none" stroke="#3c55b6" stroke-width="2.5"/><path d="M694.3 404.5L700.9 397.9L707.6 404.5L700.9 411.1Z" fill="none" stroke="#3c55b6" stroke-width="2.5"/><path d="M708.8 357L715.5 350.4L722.1 357L715.5 363.6Z" fill="none" stroke="#3c55b6" stroke-width="2.5"/><path d="M723.4 305.8L730 299.1L736.6 305.8L730 312.4Z" fill="none" stroke="#3c55b6" stroke-width="2.5"/><path d="M737.9 257.5L744.5 250.9L751.2 257.5L744.5 264.1Z" fill="none" stroke="#3c55b6" stroke-width="2.5"/><path d="M752.4 225L759 218.4L765.7 225L759 231.6Z" fill="none" stroke="#3c55b6" stroke-width="2.5"/><path d="M766.9 203.2L773.6 196.6L780.2 203.2L773.6 209.9Z" fill="none" stroke="#3c55b6" stroke-width="2.5"/><path d="M781.5 182L788.1 175.4L794.7 182L788.1 188.6Z" fill="none" stroke="#3c55b6" stroke-width="2.5"/><path d="M796 166.2L802.6 159.6L809.3 166.2L802.6 172.9Z" fill="none" stroke="#3c55b6" stroke-width="2.5"/><path d="M810.5 155.5L817.2 148.9L823.8 155.5L817.2 162.1Z" fill="none" stroke="#3c55b6" stroke-width="2.5"/><path d="M825.1 143.8L831.7 137.1L838.3 143.8L831.7 150.4Z" fill="none" stroke="#3c55b6" stroke-width="2.5"/><path d="M839.6 130L846.2 123.4L852.9 130L846.2 136.6Z" fill="none" stroke="#3c55b6" stroke-width="2.5"/><path d="M854.1 118.8L860.8 112.1L867.4 118.8L860.8 125.4Z" fill="none" stroke="#3c55b6" stroke-width="2.5"/><path d="M868.7 109.2L875.3 102.6L881.9 109.2L875.3 115.9Z" fill="none" stroke="#3c55b6" stroke-width="2.5"/><path d="M883.2 101.2L889.8 94.6L896.5 101.2L889.8 107.9Z" fill="none" stroke="#3c55b6" stroke-width="2.5"/><path d="M897.7 93L904.3 86.4L911 93L904.3 99.6Z" fill="none" stroke="#3c55b6" stroke-width="2.5"/><path d="M912.2 85.5L918.9 78.9L925.5 85.5L918.9 92.1Z" fill="none" stroke="#3c55b6" stroke-width="2.5"/><path d="M926.8 78.8L933.4 72.1L940 78.8L933.4 85.4Z" fill="none" stroke="#3c55b6" stroke-width="2.5"/><path d="M941.3 74.5L947.9 67.9L954.6 74.5L947.9 81.1Z" fill="none" stroke="#3c55b6" stroke-width="2.5"/><path d="M955.8 71.2L962.5 64.6L969.1 71.2L962.5 77.9Z" fill="none" stroke="#3c55b6" stroke-width="2.5"/><path d="M970.4 67L977 60.4L983.6 67L977 73.6Z" fill="none" stroke="#3c55b6" stroke-width="2.5"/><path d="M984.9 63.8L991.5 57.1L998.2 63.8L991.5 70.4Z" fill="none" stroke="#3c55b6" stroke-width="2.5"/><path d="M999.4 61.2L1006.1 54.6L1012.7 61.2L1006.1 67.9Z" fill="none" stroke="#3c55b6" stroke-width="2.5"/><path d="M1014 58.8L1020.6 52.1L1027.2 58.8L1020.6 65.4Z" fill="none" stroke="#3c55b6" stroke-width="2.5"/><path d="M1028.5 55L1035.1 48.4L1041.8 55L1035.1 61.6Z" fill="none" stroke="#3c55b6" stroke-width="2.5"/><path d="M1043 53.2L1049.7 46.6L1056.3 53.2L1049.7 59.9Z" fill="none" stroke="#3c55b6" stroke-width="2.5"/><path d="M1057.5 51.8L1064.2 45.1L1070.8 51.8L1064.2 58.4Z" fill="none" stroke="#3c55b6" stroke-width="2.5"/><path d="M1072.1 50.8L1078.7 44.1L1085.3 50.8L1078.7 57.4Z" fill="none" stroke="#3c55b6" stroke-width="2.5"/><path d="M1086.6 50.8L1093.2 44.1L1099.9 50.8L1093.2 57.4Z" fill="none" stroke="#3c55b6" stroke-width="2.5"/></g>
<g><path d="M607.8 529.4L613.8 518.3L619.8 529.4Z" fill="#1d6079"/><path d="M622.3 514.4L628.3 503.3L634.3 514.4Z" fill="#1d6079"/><path d="M636.8 493.9L642.8 482.8L648.8 493.9Z" fill="#1d6079"/><path d="M651.3 472.4L657.3 461.3L663.3 472.4Z" fill="#1d6079"/><path d="M665.9 444.4L671.9 433.3L677.9 444.4Z" fill="#1d6079"/><path d="M680.4 398.1L686.4 387.1L692.4 398.1Z" fill="#1d6079"/><path d="M694.9 341.9L700.9 330.8L706.9 341.9Z" fill="#1d6079"/><path d="M709.5 284.4L715.5 273.3L721.5 284.4Z" fill="#1d6079"/><path d="M724 234.9L730 223.8L736 234.9Z" fill="#1d6079"/><path d="M738.5 188.2L744.5 177.1L750.5 188.2Z" fill="#1d6079"/><path d="M753 151.9L759 140.8L765 151.9Z" fill="#1d6079"/><path d="M767.6 126.2L773.6 115L779.6 126.2Z" fill="#1d6079"/><path d="M782.1 105.2L788.1 94L794.1 105.2Z" fill="#1d6079"/><path d="M796.6 86.4L802.6 75.3L808.6 86.4Z" fill="#1d6079"/><path d="M811.2 72.4L817.2 61.3L823.2 72.4Z" fill="#1d6079"/><path d="M825.7 63.1L831.7 52L837.7 63.1Z" fill="#1d6079"/><path d="M840.2 54.4L846.2 43.3L852.2 54.4Z" fill="#1d6079"/><path d="M854.8 48.9L860.8 37.8L866.8 48.9Z" fill="#1d6079"/><path d="M869.3 42.6L875.3 31.6L881.3 42.6Z" fill="#1d6079"/><path d="M883.8 40.1L889.8 29.1L895.8 40.1Z" fill="#1d6079"/><path d="M898.3 36.1L904.3 25.1L910.3 36.1Z" fill="#1d6079"/><path d="M912.9 32.6L918.9 21.6L924.9 32.6Z" fill="#1d6079"/><path d="M927.4 29.4L933.4 18.3L939.4 29.4Z" fill="#1d6079"/><path d="M941.9 28.1L947.9 17.1L953.9 28.1Z" fill="#1d6079"/><path d="M956.5 26.9L962.5 15.8L968.5 26.9Z" fill="#1d6079"/><path d="M971 24.9L977 13.8L983 24.9Z" fill="#1d6079"/><path d="M985.5 22.6L991.5 11.6L997.5 22.6Z" fill="#1d6079"/><path d="M1000.1 21.9L1006.1 10.8L1012.1 21.9Z" fill="#1d6079"/><path d="M1014.6 21.4L1020.6 10.3L1026.6 21.4Z" fill="#1d6079"/><path d="M1029.1 21.4L1035.1 10.3L1041.1 21.4Z" fill="#1d6079"/><path d="M1043.7 21.4L1049.7 10.3L1055.7 21.4Z" fill="#1d6079"/><path d="M1058.2 21.1L1064.2 10.1L1070.2 21.1Z" fill="#1d6079"/><path d="M1072.7 20.9L1078.7 9.8L1084.7 20.9Z" fill="#1d6079"/><path d="M1087.2 20.6L1093.2 9.6L1099.2 20.6Z" fill="#1d6079"/></g>
<g><path d="M611.7 521L618.8 525L611.7 529Z" fill="none" stroke="#f32a35" stroke-width="2.4" stroke-linejoin="miter" stroke-miterlimit="10"/><path d="M626.3 507.3L633.3 511.2L626.3 515.2Z" fill="none" stroke="#f32a35" stroke-width="2.4" stroke-linejoin="miter" stroke-miterlimit="10"/><path d="M640.8 487.3L647.8 491.2L640.8 495.2Z" fill="none" stroke="#f32a35" stroke-width="2.4" stroke-linejoin="miter" stroke-miterlimit="10"/><path d="M655.3 468.5L662.4 472.5L655.3 476.5Z" fill="none" stroke="#f32a35" stroke-width="2.4" stroke-linejoin="miter" stroke-miterlimit="10"/><path d="M669.9 433L676.9 437L669.9 441Z" fill="none" stroke="#f32a35" stroke-width="2.4" stroke-linejoin="miter" stroke-miterlimit="10"/><path d="M684.4 389.8L691.4 393.8L684.4 397.7Z" fill="none" stroke="#f32a35" stroke-width="2.4" stroke-linejoin="miter" stroke-miterlimit="10"/><path d="M698.9 348.5L706 352.5L698.9 356.5Z" fill="none" stroke="#f32a35" stroke-width="2.4" stroke-linejoin="miter" stroke-miterlimit="10"/><path d="M713.5 309.8L720.5 313.8L713.5 317.7Z" fill="none" stroke="#f32a35" stroke-width="2.4" stroke-linejoin="miter" stroke-miterlimit="10"/><path d="M728 277.3L735 281.2L728 285.2Z" fill="none" stroke="#f32a35" stroke-width="2.4" stroke-linejoin="miter" stroke-miterlimit="10"/><path d="M742.5 249.8L749.6 253.8L742.5 257.7Z" fill="none" stroke="#f32a35" stroke-width="2.4" stroke-linejoin="miter" stroke-miterlimit="10"/><path d="M757 231L764.1 235L757 239Z" fill="none" stroke="#f32a35" stroke-width="2.4" stroke-linejoin="miter" stroke-miterlimit="10"/><path d="M771.6 212.8L778.6 216.8L771.6 220.7Z" fill="none" stroke="#f32a35" stroke-width="2.4" stroke-linejoin="miter" stroke-miterlimit="10"/><path d="M786.1 193L793.1 197L786.1 201Z" fill="none" stroke="#f32a35" stroke-width="2.4" stroke-linejoin="miter" stroke-miterlimit="10"/><path d="M800.6 176.5L807.7 180.5L800.6 184.5Z" fill="none" stroke="#f32a35" stroke-width="2.4" stroke-linejoin="miter" stroke-miterlimit="10"/><path d="M815.2 166L822.2 170L815.2 174Z" fill="none" stroke="#f32a35" stroke-width="2.4" stroke-linejoin="miter" stroke-miterlimit="10"/><path d="M829.7 151L836.7 155L829.7 159Z" fill="none" stroke="#f32a35" stroke-width="2.4" stroke-linejoin="miter" stroke-miterlimit="10"/><path d="M844.2 141L851.3 145L844.2 149Z" fill="none" stroke="#f32a35" stroke-width="2.4" stroke-linejoin="miter" stroke-miterlimit="10"/><path d="M858.8 129.8L865.8 133.8L858.8 137.7Z" fill="none" stroke="#f32a35" stroke-width="2.4" stroke-linejoin="miter" stroke-miterlimit="10"/><path d="M873.3 120.5L880.3 124.5L873.3 128.5Z" fill="none" stroke="#f32a35" stroke-width="2.4" stroke-linejoin="miter" stroke-miterlimit="10"/><path d="M887.8 111.5L894.9 115.5L887.8 119.5Z" fill="none" stroke="#f32a35" stroke-width="2.4" stroke-linejoin="miter" stroke-miterlimit="10"/><path d="M902.3 104.3L909.4 108.2L902.3 112.2Z" fill="none" stroke="#f32a35" stroke-width="2.4" stroke-linejoin="miter" stroke-miterlimit="10"/><path d="M916.9 93.5L923.9 97.5L916.9 101.5Z" fill="none" stroke="#f32a35" stroke-width="2.4" stroke-linejoin="miter" stroke-miterlimit="10"/><path d="M931.4 86.5L938.4 90.5L931.4 94.5Z" fill="none" stroke="#f32a35" stroke-width="2.4" stroke-linejoin="miter" stroke-miterlimit="10"/><path d="M945.9 78.5L953 82.5L945.9 86.5Z" fill="none" stroke="#f32a35" stroke-width="2.4" stroke-linejoin="miter" stroke-miterlimit="10"/><path d="M960.5 71.5L967.5 75.5L960.5 79.5Z" fill="none" stroke="#f32a35" stroke-width="2.4" stroke-linejoin="miter" stroke-miterlimit="10"/><path d="M975 64.3L982 68.2L975 72.2Z" fill="none" stroke="#f32a35" stroke-width="2.4" stroke-linejoin="miter" stroke-miterlimit="10"/><path d="M989.5 59.8L996.6 63.8L989.5 67.7Z" fill="none" stroke="#f32a35" stroke-width="2.4" stroke-linejoin="miter" stroke-miterlimit="10"/><path d="M1004 55.3L1011.1 59.2L1004 63.2Z" fill="none" stroke="#f32a35" stroke-width="2.4" stroke-linejoin="miter" stroke-miterlimit="10"/><path d="M1018.6 51L1025.6 55L1018.6 59Z" fill="none" stroke="#f32a35" stroke-width="2.4" stroke-linejoin="miter" stroke-miterlimit="10"/><path d="M1033.1 46.8L1040.2 50.8L1033.1 54.7Z" fill="none" stroke="#f32a35" stroke-width="2.4" stroke-linejoin="miter" stroke-miterlimit="10"/><path d="M1047.6 44.3L1054.7 48.2L1047.6 52.2Z" fill="none" stroke="#f32a35" stroke-width="2.4" stroke-linejoin="miter" stroke-miterlimit="10"/><path d="M1062.2 42.3L1069.2 46.2L1062.2 50.2Z" fill="none" stroke="#f32a35" stroke-width="2.4" stroke-linejoin="miter" stroke-miterlimit="10"/><path d="M1076.7 41L1083.7 45L1076.7 49Z" fill="none" stroke="#f32a35" stroke-width="2.4" stroke-linejoin="miter" stroke-miterlimit="10"/><path d="M1091.2 40.3L1098.3 44.2L1091.2 48.2Z" fill="none" stroke="#f32a35" stroke-width="2.4" stroke-linejoin="miter" stroke-miterlimit="10"/></g>
<g><circle cx="613.8" cy="525" r="6.2" fill="#7c2a8a"/><circle cx="628.3" cy="520" r="6.2" fill="#7c2a8a"/><circle cx="642.8" cy="504.5" r="6.2" fill="#7c2a8a"/><circle cx="657.3" cy="481.2" r="6.2" fill="#7c2a8a"/><circle cx="671.9" cy="458.8" r="6.2" fill="#7c2a8a"/><circle cx="686.4" cy="432.5" r="6.2" fill="#7c2a8a"/><circle cx="700.9" cy="418.8" r="6.2" fill="#7c2a8a"/><circle cx="715.5" cy="406.2" r="6.2" fill="#7c2a8a"/><circle cx="730" cy="399.5" r="6.2" fill="#7c2a8a"/><circle cx="744.5" cy="394.2" r="6.2" fill="#7c2a8a"/><circle cx="759" cy="388" r="6.2" fill="#7c2a8a"/><circle cx="773.6" cy="385.5" r="6.2" fill="#7c2a8a"/><circle cx="788.1" cy="381.8" r="6.2" fill="#7c2a8a"/><circle cx="802.6" cy="376.8" r="6.2" fill="#7c2a8a"/><circle cx="817.2" cy="369.2" r="6.2" fill="#7c2a8a"/><circle cx="831.7" cy="360.5" r="6.2" fill="#7c2a8a"/><circle cx="846.2" cy="347.5" r="6.2" fill="#7c2a8a"/><circle cx="860.8" cy="333" r="6.2" fill="#7c2a8a"/><circle cx="875.3" cy="318.8" r="6.2" fill="#7c2a8a"/><circle cx="889.8" cy="297.5" r="6.2" fill="#7c2a8a"/><circle cx="904.3" cy="284.2" r="6.2" fill="#7c2a8a"/><circle cx="918.9" cy="272.5" r="6.2" fill="#7c2a8a"/><circle cx="933.4" cy="265" r="6.2" fill="#7c2a8a"/><circle cx="947.9" cy="260.5" r="6.2" fill="#7c2a8a"/><circle cx="962.5" cy="255" r="6.2" fill="#7c2a8a"/><circle cx="977" cy="248.2" r="6.2" fill="#7c2a8a"/><circle cx="991.5" cy="242" r="6.2" fill="#7c2a8a"/><circle cx="1006.1" cy="235" r="6.2" fill="#7c2a8a"/><circle cx="1020.6" cy="228.2" r="6.2" fill="#7c2a8a"/><circle cx="1035.1" cy="222" r="6.2" fill="#7c2a8a"/><circle cx="1049.7" cy="215.8" r="6.2" fill="#7c2a8a"/><circle cx="1064.2" cy="211.2" r="6.2" fill="#7c2a8a"/><circle cx="1078.7" cy="206.8" r="6.2" fill="#7c2a8a"/><circle cx="1093.2" cy="202.5" r="6.2" fill="#7c2a8a"/></g>
<g><path d="M617.8 518.8L606.8 525L617.8 531.2Z" fill="#129a4b"/><path d="M632.3 506.2L621.3 512.5L632.3 518.8Z" fill="#129a4b"/><path d="M646.8 495L635.8 501.2L646.8 507.5Z" fill="#129a4b"/><path d="M661.3 471.2L650.3 477.5L661.3 483.8Z" fill="#129a4b"/><path d="M675.9 450L664.9 456.2L675.9 462.5Z" fill="#129a4b"/><path d="M690.4 426.2L679.4 432.5L690.4 438.8Z" fill="#129a4b"/><path d="M704.9 401.8L693.9 408L704.9 414.2Z" fill="#129a4b"/><path d="M719.5 386.8L708.5 393L719.5 399.2Z" fill="#129a4b"/><path d="M734 368.8L723 375L734 381.2Z" fill="#129a4b"/><path d="M748.5 347.5L737.5 353.8L748.5 360Z" fill="#129a4b"/><path d="M763 326.8L752 333L763 339.2Z" fill="#129a4b"/><path d="M777.6 304.2L766.6 310.5L777.6 316.8Z" fill="#129a4b"/><path d="M792.1 285L781.1 291.2L792.1 297.5Z" fill="#129a4b"/><path d="M806.6 268.8L795.6 275L806.6 281.2Z" fill="#129a4b"/><path d="M821.2 252L810.2 258.2L821.2 264.5Z" fill="#129a4b"/><path d="M835.7 239.2L824.7 245.5L835.7 251.8Z" fill="#129a4b"/><path d="M850.2 226.8L839.2 233L850.2 239.2Z" fill="#129a4b"/><path d="M864.8 213.2L853.8 219.5L864.8 225.8Z" fill="#129a4b"/><path d="M879.3 200.8L868.3 207L879.3 213.2Z" fill="#129a4b"/><path d="M893.8 188.8L882.8 195L893.8 201.2Z" fill="#129a4b"/><path d="M908.3 178.2L897.3 184.5L908.3 190.8Z" fill="#129a4b"/><path d="M922.9 170.8L911.9 177L922.9 183.2Z" fill="#129a4b"/><path d="M937.4 162.5L926.4 168.8L937.4 175Z" fill="#129a4b"/><path d="M951.9 155.8L940.9 162L951.9 168.2Z" fill="#129a4b"/><path d="M966.5 150.8L955.5 157L966.5 163.2Z" fill="#129a4b"/><path d="M981 146.8L970 153L981 159.2Z" fill="#129a4b"/><path d="M995.5 144.5L984.5 150.8L995.5 157Z" fill="#129a4b"/><path d="M1010.1 143L999.1 149.2L1010.1 155.5Z" fill="#129a4b"/><path d="M1024.6 141.2L1013.6 147.5L1024.6 153.8Z" fill="#129a4b"/><path d="M1039.1 140L1028.1 146.2L1039.1 152.5Z" fill="#129a4b"/><path d="M1053.7 138.8L1042.7 145L1053.7 151.2Z" fill="#129a4b"/><path d="M1068.2 138L1057.2 144.2L1068.2 150.5Z" fill="#129a4b"/><path d="M1082.7 137L1071.7 143.2L1082.7 149.5Z" fill="#129a4b"/><path d="M1097.2 136.2L1086.2 142.5L1097.2 148.8Z" fill="#129a4b"/></g>
<g><circle cx="613.8" cy="525" r="5" fill="none" stroke="#353535" stroke-width="2.4"/><circle cx="628.3" cy="522.5" r="5" fill="none" stroke="#353535" stroke-width="2.4"/><circle cx="642.8" cy="520.8" r="5" fill="none" stroke="#353535" stroke-width="2.4"/><circle cx="657.3" cy="514.5" r="5" fill="none" stroke="#353535" stroke-width="2.4"/><circle cx="671.9" cy="505" r="5" fill="none" stroke="#353535" stroke-width="2.4"/><circle cx="686.4" cy="493.8" r="5" fill="none" stroke="#353535" stroke-width="2.4"/><circle cx="700.9" cy="481.2" r="5" fill="none" stroke="#353535" stroke-width="2.4"/><circle cx="715.5" cy="467.5" r="5" fill="none" stroke="#353535" stroke-width="2.4"/><circle cx="730" cy="449.2" r="5" fill="none" stroke="#353535" stroke-width="2.4"/><circle cx="744.5" cy="430.5" r="5" fill="none" stroke="#353535" stroke-width="2.4"/><circle cx="759" cy="417.5" r="5" fill="none" stroke="#353535" stroke-width="2.4"/><circle cx="773.6" cy="406.2" r="5" fill="none" stroke="#353535" stroke-width="2.4"/><circle cx="788.1" cy="392.5" r="5" fill="none" stroke="#353535" stroke-width="2.4"/><circle cx="802.6" cy="376.8" r="5" fill="none" stroke="#353535" stroke-width="2.4"/><circle cx="817.2" cy="355.5" r="5" fill="none" stroke="#353535" stroke-width="2.4"/><circle cx="831.7" cy="338.8" r="5" fill="none" stroke="#353535" stroke-width="2.4"/><circle cx="846.2" cy="315" r="5" fill="none" stroke="#353535" stroke-width="2.4"/><circle cx="860.8" cy="284.2" r="5" fill="none" stroke="#353535" stroke-width="2.4"/><circle cx="875.3" cy="255" r="5" fill="none" stroke="#353535" stroke-width="2.4"/><circle cx="889.8" cy="228.5" r="5" fill="none" stroke="#353535" stroke-width="2.4"/><circle cx="904.3" cy="196.8" r="5" fill="none" stroke="#353535" stroke-width="2.4"/><circle cx="918.9" cy="166.2" r="5" fill="none" stroke="#353535" stroke-width="2.4"/><circle cx="933.4" cy="142" r="5" fill="none" stroke="#353535" stroke-width="2.4"/><circle cx="947.9" cy="124.2" r="5" fill="none" stroke="#353535" stroke-width="2.4"/><circle cx="962.5" cy="116" r="5" fill="none" stroke="#353535" stroke-width="2.4"/><circle cx="977" cy="108.8" r="5" fill="none" stroke="#353535" stroke-width="2.4"/><circle cx="991.5" cy="102" r="5" fill="none" stroke="#353535" stroke-width="2.4"/><circle cx="1006.1" cy="97" r="5" fill="none" stroke="#353535" stroke-width="2.4"/><circle cx="1020.6" cy="91.8" r="5" fill="none" stroke="#353535" stroke-width="2.4"/><circle cx="1035.1" cy="87" r="5" fill="none" stroke="#353535" stroke-width="2.4"/><circle cx="1049.7" cy="83" r="5" fill="none" stroke="#353535" stroke-width="2.4"/><circle cx="1064.2" cy="80" r="5" fill="none" stroke="#353535" stroke-width="2.4"/><circle cx="1078.7" cy="75.8" r="5" fill="none" stroke="#353535" stroke-width="2.4"/><circle cx="1093.2" cy="73.2" r="5" fill="none" stroke="#353535" stroke-width="2.4"/></g>
<g><path d="M609.4 518.4H618.1L615.5 524.2L618.1 530.1H609.4L612 524.2Z" fill="#fa981c"/><path d="M623.9 505.4H632.7L630 511.2L632.7 517.1H623.9L626.6 511.2Z" fill="#fa981c"/><path d="M638.4 485.9H647.2L644.5 491.8L647.2 497.6H638.4L641.1 491.8Z" fill="#fa981c"/><path d="M652.9 470.4H661.7L659 476.2L661.7 482.1H652.9L655.6 476.2Z" fill="#fa981c"/><path d="M667.5 449.6H676.3L673.6 455.5L676.3 461.4H667.5L670.2 455.5Z" fill="#fa981c"/><path d="M682 415.4H690.8L688.1 421.2L690.8 427.1H682L684.7 421.2Z" fill="#fa981c"/><path d="M696.5 376.6H705.3L702.6 382.5L705.3 388.4H696.5L699.2 382.5Z" fill="#fa981c"/><path d="M711.1 332.9H719.9L717.2 338.8L719.9 344.6H711.1L713.8 338.8Z" fill="#fa981c"/><path d="M725.6 289.1H734.4L731.7 295L734.4 300.9H725.6L728.3 295Z" fill="#fa981c"/><path d="M740.1 251.6H748.9L746.2 257.5L748.9 263.4H740.1L742.8 257.5Z" fill="#fa981c"/><path d="M754.6 217.3H763.4L760.8 223.2L763.4 229.2H754.6L757.3 223.2Z" fill="#fa981c"/><path d="M769.2 187.1H778L775.3 193L778 198.9H769.2L771.9 193Z" fill="#fa981c"/><path d="M783.7 164.1H792.5L789.8 170L792.5 175.9H783.7L786.4 170Z" fill="#fa981c"/><path d="M798.2 142.1H807L804.3 148L807 153.9H798.2L800.9 148Z" fill="#fa981c"/><path d="M812.8 122.3H821.6L818.9 128.2L821.6 134.2H812.8L815.5 128.2Z" fill="#fa981c"/><path d="M827.3 106.6H836.1L833.4 112.5L836.1 118.4H827.3L830 112.5Z" fill="#fa981c"/><path d="M841.8 92.8H850.6L847.9 98.8L850.6 104.7H841.8L844.5 98.8Z" fill="#fa981c"/><path d="M856.4 81.6H865.2L862.5 87.5L865.2 93.4H856.4L859.1 87.5Z" fill="#fa981c"/><path d="M870.9 73.6H879.7L877 79.5L879.7 85.4H870.9L873.6 79.5Z" fill="#fa981c"/><path d="M885.4 64.6H894.2L891.5 70.5L894.2 76.4H885.4L888.1 70.5Z" fill="#fa981c"/><path d="M899.9 56.6H908.7L906 62.5L908.7 68.4H899.9L902.6 62.5Z" fill="#fa981c"/><path d="M914.5 52.1H923.3L920.6 58L923.3 63.9H914.5L917.2 58Z" fill="#fa981c"/><path d="M929 46.6H937.8L935.1 52.5L937.8 58.4H929L931.7 52.5Z" fill="#fa981c"/><path d="M943.5 41.1H952.3L949.6 47L952.3 52.9H943.5L946.2 47Z" fill="#fa981c"/><path d="M958.1 38.4H966.9L964.2 44.2L966.9 50.1H958.1L960.8 44.2Z" fill="#fa981c"/><path d="M972.6 34.9H981.4L978.7 40.8L981.4 46.6H972.6L975.3 40.8Z" fill="#fa981c"/><path d="M987.1 32.1H995.9L993.2 38L995.9 43.9H987.1L989.8 38Z" fill="#fa981c"/><path d="M1001.7 30.9H1010.5L1007.8 36.8L1010.5 42.6H1001.7L1004.4 36.8Z" fill="#fa981c"/><path d="M1016.2 29.1H1025L1022.3 35L1025 40.9H1016.2L1018.9 35Z" fill="#fa981c"/><path d="M1030.7 29.1H1039.5L1036.8 35L1039.5 40.9H1030.7L1033.4 35Z" fill="#fa981c"/><path d="M1045.2 28.6H1054.1L1051.4 34.5L1054.1 40.4H1045.2L1048 34.5Z" fill="#fa981c"/><path d="M1059.8 28.6H1068.6L1065.9 34.5L1068.6 40.4H1059.8L1062.5 34.5Z" fill="#fa981c"/><path d="M1074.3 27.9H1083.1L1080.4 33.8L1083.1 39.6H1074.3L1077 33.8Z" fill="#fa981c"/><path d="M1088.8 27.9H1097.6L1094.9 33.8L1097.6 39.6H1088.8L1091.5 33.8Z" fill="#fa981c"/></g>
</g>
<text x="641.3" y="46.4" class="ti" font-size="18.6">(b)Ego-Facebook</text>
<path d="M971.4 348.3L978 341.7L984.6 348.3L978 354.9Z" fill="none" stroke="#3c55b6" stroke-width="2.5"/>
<text x="987" y="353.3" class="lgs" font-size="13.1">BC</text>
<path d="M971.6 368.9L978 358.1L984.4 368.9Z" fill="#1d6079"/>
<text x="987" y="369.8" class="lgs" font-size="13.1">CR</text>
<path d="M974.9 376.9L983 381.2L974.9 385.5Z" fill="none" stroke="#f32a35" stroke-width="3" stroke-linejoin="miter" stroke-miterlimit="10"/>
<text x="987" y="386.2" class="lgs" font-size="13.1">DC</text>
<circle cx="978" cy="397.6" r="6.2" fill="#7c2a8a"/>
<text x="987" y="402.6" class="lgs" font-size="13.1">EC</text>
<circle cx="978" cy="414.1" r="5" fill="none" stroke="#353535" stroke-width="2.4"/>
<text x="987" y="419.1" class="lgs" font-size="13.1">FA</text>
<path d="M982 424.3L971 430.6L982 436.8Z" fill="#129a4b"/>
<text x="987" y="435.6" class="lgs" font-size="13.1">LR</text>
<path d="M973.6 441.1H982.4L979.7 447L982.4 452.9H973.6L976.3 447Z" fill="#fa981c"/>
<text x="987" y="452" class="lgs" font-size="13.1">PR</text>
<rect x="1141.4" y="2.2" width="498.3" height="529.6" fill="none" stroke="#0a0a0a" stroke-width="2.6"/>
<path d="M1132.1 7H1141.4" stroke="#111" stroke-width="1.9"/>
<text transform="translate(1130.2 14.7) scale(0.93 1)" text-anchor="end" class="ax" font-size="20.8">.12</text>
<path d="M1132.1 137H1141.4" stroke="#111" stroke-width="1.9"/>
<text transform="translate(1130.2 144.7) scale(0.93 1)" text-anchor="end" class="ax" font-size="20.8">.09</text>
<path d="M1132.1 266.6H1141.4" stroke="#111" stroke-width="1.9"/>
<text transform="translate(1130.2 274.3) scale(0.93 1)" text-anchor="end" class="ax" font-size="20.8">.06</text>
<path d="M1132.1 396.2H1141.4" stroke="#111" stroke-width="1.9"/>
<text transform="translate(1130.2 403.9) scale(0.93 1)" text-anchor="end" class="ax" font-size="20.8">.03</text>
<path d="M1132.1 525.8H1141.4" stroke="#111" stroke-width="1.9"/>
<text transform="translate(1130.2 533.5) scale(0.93 1)" text-anchor="end" class="ax" font-size="20.8">.00</text>
<path d="M1145.8 531.8V541" stroke="#111" stroke-width="1.9"/>
<text transform="translate(1145.8 559.3) scale(0.93 1)" text-anchor="middle" class="ax" font-size="20.8">0</text>
<path d="M1206.9 531.8V541" stroke="#111" stroke-width="1.9"/>
<text transform="translate(1206.9 559.3) scale(0.93 1)" text-anchor="middle" class="ax" font-size="20.8">5</text>
<path d="M1268 531.8V541" stroke="#111" stroke-width="1.9"/>
<text transform="translate(1268 559.3) scale(0.93 1)" text-anchor="middle" class="ax" font-size="20.8">10</text>
<path d="M1329.2 531.8V541" stroke="#111" stroke-width="1.9"/>
<text transform="translate(1329.2 559.3) scale(0.93 1)" text-anchor="middle" class="ax" font-size="20.8">15</text>
<path d="M1390.3 531.8V541" stroke="#111" stroke-width="1.9"/>
<text transform="translate(1390.3 559.3) scale(0.93 1)" text-anchor="middle" class="ax" font-size="20.8">20</text>
<path d="M1451.5 531.8V541" stroke="#111" stroke-width="1.9"/>
<text transform="translate(1451.5 559.3) scale(0.93 1)" text-anchor="middle" class="ax" font-size="20.8">25</text>
<path d="M1512.7 531.8V541" stroke="#111" stroke-width="1.9"/>
<text transform="translate(1512.7 559.3) scale(0.93 1)" text-anchor="middle" class="ax" font-size="20.8">30</text>
<path d="M1573.8 531.8V541" stroke="#111" stroke-width="1.9"/>
<text transform="translate(1573.8 559.3) scale(0.93 1)" text-anchor="middle" class="ax" font-size="20.8">35</text>
<path d="M1635 531.8V541" stroke="#111" stroke-width="1.9"/>
<text transform="translate(1635 559.3) scale(0.93 1)" text-anchor="middle" class="ax" font-size="20.8">40</text>
<g clip-path="url(#cc)">
<g><path d="M1139.1 525L1145.8 518.4L1152.4 525L1145.8 531.6Z" fill="none" stroke="#3c55b6" stroke-width="2.5"/><path d="M1151.3 516.2L1158 509.6L1164.6 516.2L1158 522.9Z" fill="none" stroke="#3c55b6" stroke-width="2.5"/><path d="M1163.6 502.5L1170.2 495.9L1176.8 502.5L1170.2 509.1Z" fill="none" stroke="#3c55b6" stroke-width="2.5"/><path d="M1175.8 477.5L1182.4 470.9L1189.1 477.5L1182.4 484.1Z" fill="none" stroke="#3c55b6" stroke-width="2.5"/><path d="M1188 438L1194.7 431.4L1201.3 438L1194.7 444.6Z" fill="none" stroke="#3c55b6" stroke-width="2.5"/><path d="M1200.3 385L1206.9 378.4L1213.5 385L1206.9 391.6Z" fill="none" stroke="#3c55b6" stroke-width="2.5"/><path d="M1212.5 326.2L1219.1 319.6L1225.8 326.2L1219.1 332.9Z" fill="none" stroke="#3c55b6" stroke-width="2.5"/><path d="M1224.7 273L1231.4 266.4L1238 273L1231.4 279.6Z" fill="none" stroke="#3c55b6" stroke-width="2.5"/><path d="M1237 227.5L1243.6 220.9L1250.2 227.5L1243.6 234.1Z" fill="none" stroke="#3c55b6" stroke-width="2.5"/><path d="M1249.2 192.5L1255.8 185.9L1262.5 192.5L1255.8 199.1Z" fill="none" stroke="#3c55b6" stroke-width="2.5"/><path d="M1261.4 165L1268 158.4L1274.7 165L1268 171.6Z" fill="none" stroke="#3c55b6" stroke-width="2.5"/><path d="M1273.6 143.8L1280.3 137.1L1286.9 143.8L1280.3 150.4Z" fill="none" stroke="#3c55b6" stroke-width="2.5"/><path d="M1285.9 127.5L1292.5 120.9L1299.1 127.5L1292.5 134.1Z" fill="none" stroke="#3c55b6" stroke-width="2.5"/><path d="M1298.1 115.5L1304.7 108.9L1311.4 115.5L1304.7 122.1Z" fill="none" stroke="#3c55b6" stroke-width="2.5"/><path d="M1310.3 105L1317 98.4L1323.6 105L1317 111.6Z" fill="none" stroke="#3c55b6" stroke-width="2.5"/><path d="M1322.6 97.5L1329.2 90.9L1335.8 97.5L1329.2 104.1Z" fill="none" stroke="#3c55b6" stroke-width="2.5"/><path d="M1334.8 91.2L1341.4 84.6L1348.1 91.2L1341.4 97.9Z" fill="none" stroke="#3c55b6" stroke-width="2.5"/><path d="M1347 86.2L1353.7 79.6L1360.3 86.2L1353.7 92.9Z" fill="none" stroke="#3c55b6" stroke-width="2.5"/><path d="M1359.3 82.5L1365.9 75.9L1372.5 82.5L1365.9 89.1Z" fill="none" stroke="#3c55b6" stroke-width="2.5"/><path d="M1371.5 80L1378.1 73.4L1384.8 80L1378.1 86.6Z" fill="none" stroke="#3c55b6" stroke-width="2.5"/><path d="M1383.7 78L1390.3 71.4L1397 78L1390.3 84.6Z" fill="none" stroke="#3c55b6" stroke-width="2.5"/><path d="M1395.9 76.5L1402.6 69.9L1409.2 76.5L1402.6 83.1Z" fill="none" stroke="#3c55b6" stroke-width="2.5"/><path d="M1408.2 75.8L1414.8 69.1L1421.4 75.8L1414.8 82.4Z" fill="none" stroke="#3c55b6" stroke-width="2.5"/><path d="M1420.4 75.2L1427 68.6L1433.7 75.2L1427 81.9Z" fill="none" stroke="#3c55b6" stroke-width="2.5"/><path d="M1432.6 75L1439.3 68.4L1445.9 75L1439.3 81.6Z" fill="none" stroke="#3c55b6" stroke-width="2.5"/><path d="M1444.9 74.8L1451.5 68.1L1458.1 74.8L1451.5 81.4Z" fill="none" stroke="#3c55b6" stroke-width="2.5"/><path d="M1457.1 73.4L1463.7 66.8L1470.4 73.4L1463.7 80Z" fill="none" stroke="#3c55b6" stroke-width="2.5"/><path d="M1469.3 73.4L1476 66.8L1482.6 73.4L1476 80Z" fill="none" stroke="#3c55b6" stroke-width="2.5"/><path d="M1481.6 73.4L1488.2 66.7L1494.8 73.4L1488.2 80Z" fill="none" stroke="#3c55b6" stroke-width="2.5"/><path d="M1493.8 73.4L1500.4 66.7L1507.1 73.4L1500.4 80Z" fill="none" stroke="#3c55b6" stroke-width="2.5"/><path d="M1506 73.3L1512.7 66.7L1519.3 73.3L1512.7 80Z" fill="none" stroke="#3c55b6" stroke-width="2.5"/><path d="M1518.2 73.3L1524.9 66.7L1531.5 73.3L1524.9 80Z" fill="none" stroke="#3c55b6" stroke-width="2.5"/><path d="M1530.5 73.3L1537.1 66.7L1543.7 73.3L1537.1 79.9Z" fill="none" stroke="#3c55b6" stroke-width="2.5"/><path d="M1542.7 73.3L1549.3 66.7L1556 73.3L1549.3 79.9Z" fill="none" stroke="#3c55b6" stroke-width="2.5"/><path d="M1554.9 73.3L1561.6 66.7L1568.2 73.3L1561.6 79.9Z" fill="none" stroke="#3c55b6" stroke-width="2.5"/><path d="M1567.2 73.3L1573.8 66.6L1580.4 73.3L1573.8 79.9Z" fill="none" stroke="#3c55b6" stroke-width="2.5"/><path d="M1579.4 73.3L1586 66.6L1592.7 73.3L1586 79.9Z" fill="none" stroke="#3c55b6" stroke-width="2.5"/><path d="M1591.6 73.2L1598.3 66.6L1604.9 73.2L1598.3 79.9Z" fill="none" stroke="#3c55b6" stroke-width="2.5"/><path d="M1603.9 73.2L1610.5 66.6L1617.1 73.2L1610.5 79.9Z" fill="none" stroke="#3c55b6" stroke-width="2.5"/><path d="M1616.1 73.2L1622.7 66.6L1629.4 73.2L1622.7 79.8Z" fill="none" stroke="#3c55b6" stroke-width="2.5"/><path d="M1628.3 73.2L1635 66.6L1641.6 73.2L1635 79.8Z" fill="none" stroke="#3c55b6" stroke-width="2.5"/></g>
<g><path d="M1139.8 529.4L1145.8 518.3L1151.8 529.4Z" fill="#1d6079"/><path d="M1152 520.6L1158 509.6L1164 520.6Z" fill="#1d6079"/><path d="M1164.2 506.4L1170.2 495.3L1176.2 506.4Z" fill="#1d6079"/><path d="M1176.4 479.4L1182.4 468.3L1188.4 479.4Z" fill="#1d6079"/><path d="M1188.7 438.1L1194.7 427.1L1200.7 438.1Z" fill="#1d6079"/><path d="M1200.9 379.4L1206.9 368.3L1212.9 379.4Z" fill="#1d6079"/><path d="M1213.1 318.1L1219.1 307.1L1225.1 318.1Z" fill="#1d6079"/><path d="M1225.4 265.6L1231.4 254.6L1237.4 265.6Z" fill="#1d6079"/><path d="M1237.6 218.2L1243.6 207.1L1249.6 218.2Z" fill="#1d6079"/><path d="M1249.8 180.7L1255.8 169.6L1261.8 180.7Z" fill="#1d6079"/><path d="M1262 153.2L1268 142.1L1274 153.2Z" fill="#1d6079"/><path d="M1274.3 130.7L1280.3 119.5L1286.3 130.7Z" fill="#1d6079"/><path d="M1286.5 111.9L1292.5 100.8L1298.5 111.9Z" fill="#1d6079"/><path d="M1298.7 98.2L1304.7 87L1310.7 98.2Z" fill="#1d6079"/><path d="M1311 88.9L1317 77.8L1323 88.9Z" fill="#1d6079"/><path d="M1323.2 81.9L1329.2 70.8L1335.2 81.9Z" fill="#1d6079"/><path d="M1335.4 75.7L1341.4 64.5L1347.4 75.7Z" fill="#1d6079"/><path d="M1347.7 69.9L1353.7 58.8L1359.7 69.9Z" fill="#1d6079"/><path d="M1359.9 66.2L1365.9 55L1371.9 66.2Z" fill="#1d6079"/><path d="M1372.1 63.9L1378.1 52.8L1384.1 63.9Z" fill="#1d6079"/><path d="M1384.3 61.9L1390.3 50.8L1396.3 61.9Z" fill="#1d6079"/><path d="M1396.6 60.6L1402.6 49.5L1408.6 60.6Z" fill="#1d6079"/><path d="M1408.8 59.4L1414.8 48.3L1420.8 59.4Z" fill="#1d6079"/><path d="M1421 58.9L1427 47.8L1433 58.9Z" fill="#1d6079"/><path d="M1433.3 58.1L1439.3 47L1445.3 58.1Z" fill="#1d6079"/><path d="M1445.5 57.6L1451.5 46.5L1457.5 57.6Z" fill="#1d6079"/><path d="M1457.7 57L1463.7 45.9L1469.7 57Z" fill="#1d6079"/><path d="M1470 56.4L1476 45.3L1482 56.4Z" fill="#1d6079"/><path d="M1482.2 56.4L1488.2 45.3L1494.2 56.4Z" fill="#1d6079"/><path d="M1494.4 56.3L1500.4 45.2L1506.4 56.3Z" fill="#1d6079"/><path d="M1506.7 56.3L1512.7 45.2L1518.7 56.3Z" fill="#1d6079"/><path d="M1518.9 56.2L1524.9 45.1L1530.9 56.2Z" fill="#1d6079"/><path d="M1531.1 56.2L1537.1 45.1L1543.1 56.2Z" fill="#1d6079"/><path d="M1543.3 56.2L1549.3 45.1L1555.3 56.2Z" fill="#1d6079"/><path d="M1555.6 56.1L1561.6 45L1567.6 56.1Z" fill="#1d6079"/><path d="M1567.8 56.1L1573.8 45L1579.8 56.1Z" fill="#1d6079"/><path d="M1580 56.1L1586 45L1592 56.1Z" fill="#1d6079"/><path d="M1592.3 56L1598.3 44.9L1604.3 56Z" fill="#1d6079"/><path d="M1604.5 56L1610.5 44.9L1616.5 56Z" fill="#1d6079"/><path d="M1616.7 55.9L1622.7 44.8L1628.7 55.9Z" fill="#1d6079"/><path d="M1629 55.9L1635 44.8L1641 55.9Z" fill="#1d6079"/></g>
<g><path d="M1143.7 521L1150.8 525L1143.7 529Z" fill="none" stroke="#f32a35" stroke-width="2.4" stroke-linejoin="miter" stroke-miterlimit="10"/><path d="M1156 511.5L1163 515.5L1156 519.5Z" fill="none" stroke="#f32a35" stroke-width="2.4" stroke-linejoin="miter" stroke-miterlimit="10"/><path d="M1168.2 496L1175.2 500L1168.2 504Z" fill="none" stroke="#f32a35" stroke-width="2.4" stroke-linejoin="miter" stroke-miterlimit="10"/><path d="M1180.4 465.5L1187.5 469.5L1180.4 473.5Z" fill="none" stroke="#f32a35" stroke-width="2.4" stroke-linejoin="miter" stroke-miterlimit="10"/><path d="M1192.7 417.3L1199.7 421.2L1192.7 425.2Z" fill="none" stroke="#f32a35" stroke-width="2.4" stroke-linejoin="miter" stroke-miterlimit="10"/><path d="M1204.9 356L1211.9 360L1204.9 364Z" fill="none" stroke="#f32a35" stroke-width="2.4" stroke-linejoin="miter" stroke-miterlimit="10"/><path d="M1217.1 295.5L1224.2 299.5L1217.1 303.5Z" fill="none" stroke="#f32a35" stroke-width="2.4" stroke-linejoin="miter" stroke-miterlimit="10"/><path d="M1229.3 243.8L1236.4 247.8L1229.3 251.7Z" fill="none" stroke="#f32a35" stroke-width="2.4" stroke-linejoin="miter" stroke-miterlimit="10"/><path d="M1241.6 204.3L1248.6 208.2L1241.6 212.2Z" fill="none" stroke="#f32a35" stroke-width="2.4" stroke-linejoin="miter" stroke-miterlimit="10"/><path d="M1253.8 168.8L1260.9 172.8L1253.8 176.7Z" fill="none" stroke="#f32a35" stroke-width="2.4" stroke-linejoin="miter" stroke-miterlimit="10"/><path d="M1266 143L1273.1 147L1266 151Z" fill="none" stroke="#f32a35" stroke-width="2.4" stroke-linejoin="miter" stroke-miterlimit="10"/><path d="M1278.3 123.5L1285.3 127.5L1278.3 131.5Z" fill="none" stroke="#f32a35" stroke-width="2.4" stroke-linejoin="miter" stroke-miterlimit="10"/><path d="M1290.5 109.8L1297.5 113.8L1290.5 117.7Z" fill="none" stroke="#f32a35" stroke-width="2.4" stroke-linejoin="miter" stroke-miterlimit="10"/><path d="M1302.7 98.5L1309.8 102.5L1302.7 106.5Z" fill="none" stroke="#f32a35" stroke-width="2.4" stroke-linejoin="miter" stroke-miterlimit="10"/><path d="M1315 88.5L1322 92.5L1315 96.5Z" fill="none" stroke="#f32a35" stroke-width="2.4" stroke-linejoin="miter" stroke-miterlimit="10"/><path d="M1327.2 81L1334.2 85L1327.2 89Z" fill="none" stroke="#f32a35" stroke-width="2.4" stroke-linejoin="miter" stroke-miterlimit="10"/><path d="M1339.4 75L1346.5 79L1339.4 83Z" fill="none" stroke="#f32a35" stroke-width="2.4" stroke-linejoin="miter" stroke-miterlimit="10"/><path d="M1351.7 70.5L1358.7 74.5L1351.7 78.5Z" fill="none" stroke="#f32a35" stroke-width="2.4" stroke-linejoin="miter" stroke-miterlimit="10"/><path d="M1363.9 67.8L1370.9 71.8L1363.9 75.7Z" fill="none" stroke="#f32a35" stroke-width="2.4" stroke-linejoin="miter" stroke-miterlimit="10"/><path d="M1376.1 65.5L1383.2 69.5L1376.1 73.5Z" fill="none" stroke="#f32a35" stroke-width="2.4" stroke-linejoin="miter" stroke-miterlimit="10"/><path d="M1388.3 63.8L1395.4 67.8L1388.3 71.7Z" fill="none" stroke="#f32a35" stroke-width="2.4" stroke-linejoin="miter" stroke-miterlimit="10"/><path d="M1400.6 62.8L1407.6 66.8L1400.6 70.7Z" fill="none" stroke="#f32a35" stroke-width="2.4" stroke-linejoin="miter" stroke-miterlimit="10"/><path d="M1412.8 61.8L1419.8 65.8L1412.8 69.7Z" fill="none" stroke="#f32a35" stroke-width="2.4" stroke-linejoin="miter" stroke-miterlimit="10"/><path d="M1425 61.3L1432.1 65.2L1425 69.2Z" fill="none" stroke="#f32a35" stroke-width="2.4" stroke-linejoin="miter" stroke-miterlimit="10"/><path d="M1437.3 60.8L1444.3 64.8L1437.3 68.7Z" fill="none" stroke="#f32a35" stroke-width="2.4" stroke-linejoin="miter" stroke-miterlimit="10"/><path d="M1449.5 60.3L1456.5 64.2L1449.5 68.2Z" fill="none" stroke="#f32a35" stroke-width="2.4" stroke-linejoin="miter" stroke-miterlimit="10"/><path d="M1461.7 60L1468.8 63.9L1461.7 67.9Z" fill="none" stroke="#f32a35" stroke-width="2.4" stroke-linejoin="miter" stroke-miterlimit="10"/><path d="M1474 59.6L1481 63.6L1474 67.6Z" fill="none" stroke="#f32a35" stroke-width="2.4" stroke-linejoin="miter" stroke-miterlimit="10"/><path d="M1486.2 59.6L1493.2 63.6L1486.2 67.5Z" fill="none" stroke="#f32a35" stroke-width="2.4" stroke-linejoin="miter" stroke-miterlimit="10"/><path d="M1498.4 59.6L1505.5 63.5L1498.4 67.5Z" fill="none" stroke="#f32a35" stroke-width="2.4" stroke-linejoin="miter" stroke-miterlimit="10"/><path d="M1510.6 59.6L1517.7 63.5L1510.6 67.5Z" fill="none" stroke="#f32a35" stroke-width="2.4" stroke-linejoin="miter" stroke-miterlimit="10"/><path d="M1522.9 59.5L1529.9 63.5L1522.9 67.4Z" fill="none" stroke="#f32a35" stroke-width="2.4" stroke-linejoin="miter" stroke-miterlimit="10"/><path d="M1535.1 59.5L1542.1 63.4L1535.1 67.4Z" fill="none" stroke="#f32a35" stroke-width="2.4" stroke-linejoin="miter" stroke-miterlimit="10"/><path d="M1547.3 59.5L1554.4 63.4L1547.3 67.4Z" fill="none" stroke="#f32a35" stroke-width="2.4" stroke-linejoin="miter" stroke-miterlimit="10"/><path d="M1559.6 59.4L1566.6 63.4L1559.6 67.3Z" fill="none" stroke="#f32a35" stroke-width="2.4" stroke-linejoin="miter" stroke-miterlimit="10"/><path d="M1571.8 59.4L1578.8 63.4L1571.8 67.3Z" fill="none" stroke="#f32a35" stroke-width="2.4" stroke-linejoin="miter" stroke-miterlimit="10"/><path d="M1584 59.4L1591.1 63.3L1584 67.3Z" fill="none" stroke="#f32a35" stroke-width="2.4" stroke-linejoin="miter" stroke-miterlimit="10"/><path d="M1596.2 59.3L1603.3 63.3L1596.2 67.2Z" fill="none" stroke="#f32a35" stroke-width="2.4" stroke-linejoin="miter" stroke-miterlimit="10"/><path d="M1608.5 59.3L1615.5 63.3L1608.5 67.2Z" fill="none" stroke="#f32a35" stroke-width="2.4" stroke-linejoin="miter" stroke-miterlimit="10"/><path d="M1620.7 59.3L1627.8 63.2L1620.7 67.2Z" fill="none" stroke="#f32a35" stroke-width="2.4" stroke-linejoin="miter" stroke-miterlimit="10"/><path d="M1632.9 59.2L1640 63.2L1632.9 67.2Z" fill="none" stroke="#f32a35" stroke-width="2.4" stroke-linejoin="miter" stroke-miterlimit="10"/></g>
<g><circle cx="1145.8" cy="525" r="6.2" fill="#7c2a8a"/><circle cx="1158" cy="516.2" r="6.2" fill="#7c2a8a"/><circle cx="1170.2" cy="501.2" r="6.2" fill="#7c2a8a"/><circle cx="1182.4" cy="472.5" r="6.2" fill="#7c2a8a"/><circle cx="1194.7" cy="423.8" r="6.2" fill="#7c2a8a"/><circle cx="1206.9" cy="363" r="6.2" fill="#7c2a8a"/><circle cx="1219.1" cy="302.5" r="6.2" fill="#7c2a8a"/><circle cx="1231.4" cy="250.8" r="6.2" fill="#7c2a8a"/><circle cx="1243.6" cy="211.2" r="6.2" fill="#7c2a8a"/><circle cx="1255.8" cy="175.8" r="6.2" fill="#7c2a8a"/><circle cx="1268" cy="150" r="6.2" fill="#7c2a8a"/><circle cx="1280.3" cy="130" r="6.2" fill="#7c2a8a"/><circle cx="1292.5" cy="116.2" r="6.2" fill="#7c2a8a"/><circle cx="1304.7" cy="105" r="6.2" fill="#7c2a8a"/><circle cx="1317" cy="95" r="6.2" fill="#7c2a8a"/><circle cx="1329.2" cy="87.5" r="6.2" fill="#7c2a8a"/><circle cx="1341.4" cy="81.2" r="6.2" fill="#7c2a8a"/><circle cx="1353.7" cy="76.2" r="6.2" fill="#7c2a8a"/><circle cx="1365.9" cy="73.8" r="6.2" fill="#7c2a8a"/><circle cx="1378.1" cy="71.2" r="6.2" fill="#7c2a8a"/><circle cx="1390.3" cy="69.5" r="6.2" fill="#7c2a8a"/><circle cx="1402.6" cy="68.8" r="6.2" fill="#7c2a8a"/><circle cx="1414.8" cy="68" r="6.2" fill="#7c2a8a"/><circle cx="1427" cy="67.5" r="6.2" fill="#7c2a8a"/><circle cx="1439.3" cy="67" r="6.2" fill="#7c2a8a"/><circle cx="1451.5" cy="66.5" r="6.2" fill="#7c2a8a"/><circle cx="1463.7" cy="66.2" r="6.2" fill="#7c2a8a"/><circle cx="1476" cy="66" r="6.2" fill="#7c2a8a"/><circle cx="1488.2" cy="66" r="6.2" fill="#7c2a8a"/><circle cx="1500.4" cy="65.9" r="6.2" fill="#7c2a8a"/><circle cx="1512.7" cy="65.9" r="6.2" fill="#7c2a8a"/><circle cx="1524.9" cy="65.8" r="6.2" fill="#7c2a8a"/><circle cx="1537.1" cy="65.8" r="6.2" fill="#7c2a8a"/><circle cx="1549.3" cy="65.8" r="6.2" fill="#7c2a8a"/><circle cx="1561.6" cy="65.7" r="6.2" fill="#7c2a8a"/><circle cx="1573.8" cy="65.7" r="6.2" fill="#7c2a8a"/><circle cx="1586" cy="65.7" r="6.2" fill="#7c2a8a"/><circle cx="1598.3" cy="65.6" r="6.2" fill="#7c2a8a"/><circle cx="1610.5" cy="65.6" r="6.2" fill="#7c2a8a"/><circle cx="1622.7" cy="65.5" r="6.2" fill="#7c2a8a"/><circle cx="1635" cy="65.5" r="6.2" fill="#7c2a8a"/></g>
<g><circle cx="1145.8" cy="525" r="5" fill="none" stroke="#353535" stroke-width="2.4"/><circle cx="1158" cy="523.2" r="5" fill="none" stroke="#353535" stroke-width="2.4"/><circle cx="1170.2" cy="518" r="5" fill="none" stroke="#353535" stroke-width="2.4"/><circle cx="1182.4" cy="506.2" r="5" fill="none" stroke="#353535" stroke-width="2.4"/><circle cx="1194.7" cy="479.2" r="5" fill="none" stroke="#353535" stroke-width="2.4"/><circle cx="1206.9" cy="437.5" r="5" fill="none" stroke="#353535" stroke-width="2.4"/><circle cx="1219.1" cy="378.2" r="5" fill="none" stroke="#353535" stroke-width="2.4"/><circle cx="1231.4" cy="321.2" r="5" fill="none" stroke="#353535" stroke-width="2.4"/><circle cx="1243.6" cy="271.2" r="5" fill="none" stroke="#353535" stroke-width="2.4"/><circle cx="1255.8" cy="231.8" r="5" fill="none" stroke="#353535" stroke-width="2.4"/><circle cx="1268" cy="198.8" r="5" fill="none" stroke="#353535" stroke-width="2.4"/><circle cx="1280.3" cy="173" r="5" fill="none" stroke="#353535" stroke-width="2.4"/><circle cx="1292.5" cy="151.8" r="5" fill="none" stroke="#353535" stroke-width="2.4"/><circle cx="1304.7" cy="134.2" r="5" fill="none" stroke="#353535" stroke-width="2.4"/><circle cx="1317" cy="119.2" r="5" fill="none" stroke="#353535" stroke-width="2.4"/><circle cx="1329.2" cy="108" r="5" fill="none" stroke="#353535" stroke-width="2.4"/><circle cx="1341.4" cy="99.2" r="5" fill="none" stroke="#353535" stroke-width="2.4"/><circle cx="1353.7" cy="91.8" r="5" fill="none" stroke="#353535" stroke-width="2.4"/><circle cx="1365.9" cy="87.5" r="5" fill="none" stroke="#353535" stroke-width="2.4"/><circle cx="1378.1" cy="82.5" r="5" fill="none" stroke="#353535" stroke-width="2.4"/><circle cx="1390.3" cy="80" r="5" fill="none" stroke="#353535" stroke-width="2.4"/><circle cx="1402.6" cy="78" r="5" fill="none" stroke="#353535" stroke-width="2.4"/><circle cx="1414.8" cy="76.2" r="5" fill="none" stroke="#353535" stroke-width="2.4"/><circle cx="1427" cy="75" r="5" fill="none" stroke="#353535" stroke-width="2.4"/><circle cx="1439.3" cy="74.5" r="5" fill="none" stroke="#353535" stroke-width="2.4"/><circle cx="1451.5" cy="73.8" r="5" fill="none" stroke="#353535" stroke-width="2.4"/><circle cx="1463.7" cy="73.3" r="5" fill="none" stroke="#353535" stroke-width="2.4"/><circle cx="1476" cy="72.8" r="5" fill="none" stroke="#353535" stroke-width="2.4"/><circle cx="1488.2" cy="72.7" r="5" fill="none" stroke="#353535" stroke-width="2.4"/><circle cx="1500.4" cy="72.7" r="5" fill="none" stroke="#353535" stroke-width="2.4"/><circle cx="1512.7" cy="72.6" r="5" fill="none" stroke="#353535" stroke-width="2.4"/><circle cx="1524.9" cy="72.6" r="5" fill="none" stroke="#353535" stroke-width="2.4"/><circle cx="1537.1" cy="72.5" r="5" fill="none" stroke="#353535" stroke-width="2.4"/><circle cx="1549.3" cy="72.4" r="5" fill="none" stroke="#353535" stroke-width="2.4"/><circle cx="1561.6" cy="72.4" r="5" fill="none" stroke="#353535" stroke-width="2.4"/><circle cx="1573.8" cy="72.3" r="5" fill="none" stroke="#353535" stroke-width="2.4"/><circle cx="1586" cy="72.2" r="5" fill="none" stroke="#353535" stroke-width="2.4"/><circle cx="1598.3" cy="72.2" r="5" fill="none" stroke="#353535" stroke-width="2.4"/><circle cx="1610.5" cy="72.1" r="5" fill="none" stroke="#353535" stroke-width="2.4"/><circle cx="1622.7" cy="72.1" r="5" fill="none" stroke="#353535" stroke-width="2.4"/><circle cx="1635" cy="72" r="5" fill="none" stroke="#353535" stroke-width="2.4"/></g>
<g><path d="M1149.8 518.8L1138.8 525L1149.8 531.2Z" fill="#129a4b"/><path d="M1162 510.8L1151 517L1162 523.2Z" fill="#129a4b"/><path d="M1174.2 496.8L1163.2 503L1174.2 509.2Z" fill="#129a4b"/><path d="M1186.4 470.8L1175.4 477L1186.4 483.2Z" fill="#129a4b"/><path d="M1198.7 428.8L1187.7 435L1198.7 441.2Z" fill="#129a4b"/><path d="M1210.9 375.5L1199.9 381.8L1210.9 388Z" fill="#129a4b"/><path d="M1223.1 315.8L1212.1 322L1223.1 328.2Z" fill="#129a4b"/><path d="M1235.4 263L1224.4 269.2L1235.4 275.5Z" fill="#129a4b"/><path d="M1247.6 219.5L1236.6 225.8L1247.6 232Z" fill="#129a4b"/><path d="M1259.8 186.2L1248.8 192.5L1259.8 198.8Z" fill="#129a4b"/><path d="M1272 159.2L1261 165.5L1272 171.8Z" fill="#129a4b"/><path d="M1284.3 138.2L1273.3 144.5L1284.3 150.8Z" fill="#129a4b"/><path d="M1296.5 120.2L1285.5 126.5L1296.5 132.8Z" fill="#129a4b"/><path d="M1308.7 107.8L1297.7 114L1308.7 120.2Z" fill="#129a4b"/><path d="M1321 97L1310 103.2L1321 109.5Z" fill="#129a4b"/><path d="M1333.2 88.8L1322.2 95L1333.2 101.2Z" fill="#129a4b"/><path d="M1345.4 81.8L1334.4 88L1345.4 94.2Z" fill="#129a4b"/><path d="M1357.7 76.5L1346.7 82.8L1357.7 89Z" fill="#129a4b"/><path d="M1369.9 72.8L1358.9 79L1369.9 85.2Z" fill="#129a4b"/><path d="M1382.1 70.2L1371.1 76.5L1382.1 82.8Z" fill="#129a4b"/><path d="M1394.3 68.5L1383.3 74.8L1394.3 81Z" fill="#129a4b"/><path d="M1406.6 67.2L1395.6 73.5L1406.6 79.8Z" fill="#129a4b"/><path d="M1418.8 66.5L1407.8 72.8L1418.8 79Z" fill="#129a4b"/><path d="M1431 66L1420 72.2L1431 78.5Z" fill="#129a4b"/><path d="M1443.3 65.8L1432.3 72L1443.3 78.2Z" fill="#129a4b"/><path d="M1455.5 65.5L1444.5 71.8L1455.5 78Z" fill="#129a4b"/><path d="M1467.7 65.4L1456.7 71.7L1467.7 77.9Z" fill="#129a4b"/><path d="M1480 65.3L1469 71.6L1480 77.8Z" fill="#129a4b"/><path d="M1492.2 65.3L1481.2 71.6L1492.2 77.8Z" fill="#129a4b"/><path d="M1504.4 65.3L1493.4 71.6L1504.4 77.8Z" fill="#129a4b"/><path d="M1516.7 65.3L1505.7 71.6L1516.7 77.8Z" fill="#129a4b"/><path d="M1528.9 65.3L1517.9 71.6L1528.9 77.8Z" fill="#129a4b"/><path d="M1541.1 65.3L1530.1 71.6L1541.1 77.8Z" fill="#129a4b"/><path d="M1553.3 65.3L1542.3 71.6L1553.3 77.8Z" fill="#129a4b"/><path d="M1565.6 65.3L1554.6 71.6L1565.6 77.8Z" fill="#129a4b"/><path d="M1577.8 65.3L1566.8 71.6L1577.8 77.8Z" fill="#129a4b"/><path d="M1590 65.3L1579 71.6L1590 77.8Z" fill="#129a4b"/><path d="M1602.3 65.3L1591.3 71.6L1602.3 77.8Z" fill="#129a4b"/><path d="M1614.5 65.3L1603.5 71.6L1614.5 77.8Z" fill="#129a4b"/><path d="M1626.7 65.3L1615.7 71.6L1626.7 77.8Z" fill="#129a4b"/><path d="M1639 65.3L1628 71.6L1639 77.8Z" fill="#129a4b"/></g>
<g><path d="M1141.3 519.1H1150.2L1147.5 525L1150.2 530.9H1141.3L1144 525Z" fill="#fa981c"/><path d="M1153.6 511.6H1162.4L1159.7 517.5L1162.4 523.4H1153.6L1156.3 517.5Z" fill="#fa981c"/><path d="M1165.8 498.6H1174.6L1171.9 504.5L1174.6 510.4H1165.8L1168.5 504.5Z" fill="#fa981c"/><path d="M1178 474.6H1186.8L1184.1 480.5L1186.8 486.4H1178L1180.7 480.5Z" fill="#fa981c"/><path d="M1190.3 436.6H1199.1L1196.4 442.5L1199.1 448.4H1190.3L1193 442.5Z" fill="#fa981c"/><path d="M1202.5 387.1H1211.3L1208.6 393L1211.3 398.9H1202.5L1205.2 393Z" fill="#fa981c"/><path d="M1214.7 326.1H1223.5L1220.8 332L1223.5 337.9H1214.7L1217.4 332Z" fill="#fa981c"/><path d="M1227 272.9H1235.8L1233.1 278.8L1235.8 284.6H1227L1229.7 278.8Z" fill="#fa981c"/><path d="M1239.2 223.6H1248L1245.3 229.5L1248 235.4H1239.2L1241.9 229.5Z" fill="#fa981c"/><path d="M1251.4 184.1H1260.2L1257.5 190L1260.2 195.9H1251.4L1254.1 190Z" fill="#fa981c"/><path d="M1263.6 154.6H1272.5L1269.8 160.5L1272.5 166.4H1263.6L1266.3 160.5Z" fill="#fa981c"/><path d="M1275.9 131.1H1284.7L1282 137L1284.7 142.9H1275.9L1278.6 137Z" fill="#fa981c"/><path d="M1288.1 112.8H1296.9L1294.2 118.8L1296.9 124.7H1288.1L1290.8 118.8Z" fill="#fa981c"/><path d="M1300.3 98.6H1309.1L1306.4 104.5L1309.1 110.4H1300.3L1303 104.5Z" fill="#fa981c"/><path d="M1312.6 87.8H1321.4L1318.7 93.8L1321.4 99.7H1312.6L1315.3 93.8Z" fill="#fa981c"/><path d="M1324.8 79.1H1333.6L1330.9 85L1333.6 90.9H1324.8L1327.5 85Z" fill="#fa981c"/><path d="M1337 72.1H1345.8L1343.1 78L1345.8 83.9H1337L1339.7 78Z" fill="#fa981c"/><path d="M1349.3 67.1H1358.1L1355.4 73L1358.1 78.9H1349.3L1352 73Z" fill="#fa981c"/><path d="M1361.5 64.1H1370.3L1367.6 70L1370.3 75.9H1361.5L1364.2 70Z" fill="#fa981c"/><path d="M1373.7 62.1H1382.5L1379.8 68L1382.5 73.9H1373.7L1376.4 68Z" fill="#fa981c"/><path d="M1385.9 60.4H1394.8L1392 66.2L1394.8 72.2H1385.9L1388.6 66.2Z" fill="#fa981c"/><path d="M1398.2 59.1H1407L1404.3 65L1407 70.9H1398.2L1400.9 65Z" fill="#fa981c"/><path d="M1410.4 58.6H1419.2L1416.5 64.5L1419.2 70.4H1410.4L1413.1 64.5Z" fill="#fa981c"/><path d="M1422.6 57.9H1431.4L1428.7 63.8L1431.4 69.7H1422.6L1425.3 63.8Z" fill="#fa981c"/><path d="M1434.9 57.4H1443.7L1441 63.2L1443.7 69.2H1434.9L1437.6 63.2Z" fill="#fa981c"/><path d="M1447.1 57.1H1455.9L1453.2 63L1455.9 68.9H1447.1L1449.8 63Z" fill="#fa981c"/><path d="M1459.3 56.9H1468.1L1465.4 62.8L1468.1 68.7H1459.3L1462 62.8Z" fill="#fa981c"/><path d="M1471.6 56.7H1480.4L1477.7 62.6L1480.4 68.5H1471.6L1474.3 62.6Z" fill="#fa981c"/><path d="M1483.8 56.7H1492.6L1489.9 62.6L1492.6 68.5H1483.8L1486.5 62.6Z" fill="#fa981c"/><path d="M1496 56.7H1504.8L1502.1 62.6L1504.8 68.5H1496L1498.7 62.6Z" fill="#fa981c"/><path d="M1508.2 56.6H1517.1L1514.4 62.5L1517.1 68.4H1508.2L1511 62.5Z" fill="#fa981c"/><path d="M1520.5 56.6H1529.3L1526.6 62.5L1529.3 68.4H1520.5L1523.2 62.5Z" fill="#fa981c"/><path d="M1532.7 56.6H1541.5L1538.8 62.5L1541.5 68.4H1532.7L1535.4 62.5Z" fill="#fa981c"/><path d="M1544.9 56.6H1553.7L1551 62.5L1553.7 68.4H1544.9L1547.6 62.5Z" fill="#fa981c"/><path d="M1557.2 56.5H1566L1563.3 62.4L1566 68.3H1557.2L1559.9 62.4Z" fill="#fa981c"/><path d="M1569.4 56.5H1578.2L1575.5 62.4L1578.2 68.3H1569.4L1572.1 62.4Z" fill="#fa981c"/><path d="M1581.6 56.5H1590.4L1587.7 62.4L1590.4 68.3H1581.6L1584.3 62.4Z" fill="#fa981c"/><path d="M1593.9 56.5H1602.7L1600 62.4L1602.7 68.3H1593.9L1596.6 62.4Z" fill="#fa981c"/><path d="M1606.1 56.4H1614.9L1612.2 62.3L1614.9 68.2H1606.1L1608.8 62.3Z" fill="#fa981c"/><path d="M1618.3 56.4H1627.1L1624.4 62.3L1627.1 68.2H1618.3L1621 62.3Z" fill="#fa981c"/><path d="M1630.5 56.4H1639.4L1636.7 62.3L1639.4 68.2H1630.5L1633.2 62.3Z" fill="#fa981c"/></g>
</g>
<text x="1178" y="49.4" class="ti" font-size="18.6">(c)Soc-Epinions</text>
<path d="M1442.2 322.5L1448.8 315.9L1455.4 322.5L1448.8 329.1Z" fill="none" stroke="#3c55b6" stroke-width="2.5"/>
<text x="1458.2" y="327.5" class="lgs" font-size="13.1">BC</text>
<path d="M1442.5 343.2L1448.8 332.5L1455.1 343.2Z" fill="#1d6079"/>
<text x="1458.2" y="344.1" class="lgs" font-size="13.1">CR</text>
<path d="M1445.7 351.4L1453.8 355.7L1445.7 360Z" fill="none" stroke="#f32a35" stroke-width="3" stroke-linejoin="miter" stroke-miterlimit="10"/>
<text x="1458.2" y="360.7" class="lgs" font-size="13.1">DC</text>
<circle cx="1448.8" cy="372.2" r="6.2" fill="#7c2a8a"/>
<text x="1458.2" y="377.2" class="lgs" font-size="13.1">EC</text>
<circle cx="1448.8" cy="388.8" r="5" fill="none" stroke="#353535" stroke-width="2.4"/>
<text x="1458.2" y="393.8" class="lgs" font-size="13.1">FA</text>
<path d="M1452.8 399.1L1441.8 405.4L1452.8 411.6Z" fill="#129a4b"/>
<text x="1458.2" y="410.4" class="lgs" font-size="13.1">LR</text>
<path d="M1444.4 416.1H1453.2L1450.5 422L1453.2 427.9H1444.4L1447.1 422Z" fill="#fa981c"/>
<text x="1458.2" y="427" class="lgs" font-size="13.1">PR</text>
<rect x="69.8" y="580.5" width="489" height="531.3" fill="none" stroke="#0a0a0a" stroke-width="2.6"/>
<path d="M60.5 607.3H69.8" stroke="#111" stroke-width="1.9"/>
<text transform="translate(58.6 615) scale(0.93 1)" text-anchor="end" class="ax" font-size="21.3">.30</text>
<path d="M60.5 773.6H69.8" stroke="#111" stroke-width="1.9"/>
<text transform="translate(58.6 781.3) scale(0.93 1)" text-anchor="end" class="ax" font-size="21.3">.20</text>
<path d="M60.5 939.8H69.8" stroke="#111" stroke-width="1.9"/>
<text transform="translate(58.6 947.5) scale(0.93 1)" text-anchor="end" class="ax" font-size="21.3">.10</text>
<path d="M60.5 1106.2H69.8" stroke="#111" stroke-width="1.9"/>
<text transform="translate(58.6 1113.9) scale(0.93 1)" text-anchor="end" class="ax" font-size="21.3">.00</text>
<path d="M73.8 1111.8V1121" stroke="#111" stroke-width="1.9"/>
<text transform="translate(73.8 1139.8) scale(0.93 1)" text-anchor="middle" class="ax" font-size="21.3">0</text>
<path d="M102 1111.8V1121" stroke="#111" stroke-width="1.9"/>
<text transform="translate(102 1139.8) scale(0.93 1)" text-anchor="middle" class="ax" font-size="21.3">2</text>
<path d="M130.2 1111.8V1121" stroke="#111" stroke-width="1.9"/>
<text transform="translate(130.2 1139.8) scale(0.93 1)" text-anchor="middle" class="ax" font-size="21.3">4</text>
<path d="M158.3 1111.8V1121" stroke="#111" stroke-width="1.9"/>
<text transform="translate(158.3 1139.8) scale(0.93 1)" text-anchor="middle" class="ax" font-size="21.3">6</text>
<path d="M186.6 1111.8V1121" stroke="#111" stroke-width="1.9"/>
<text transform="translate(186.6 1139.8) scale(0.93 1)" text-anchor="middle" class="ax" font-size="21.3">8</text>
<path d="M214.8 1111.8V1121" stroke="#111" stroke-width="1.9"/>
<text transform="translate(214.8 1139.8) scale(0.93 1)" text-anchor="middle" class="ax" font-size="21.3">10</text>
<path d="M242.9 1111.8V1121" stroke="#111" stroke-width="1.9"/>
<text transform="translate(242.9 1139.8) scale(0.93 1)" text-anchor="middle" class="ax" font-size="21.3">12</text>
<path d="M271.1 1111.8V1121" stroke="#111" stroke-width="1.9"/>
<text transform="translate(271.1 1139.8) scale(0.93 1)" text-anchor="middle" class="ax" font-size="21.3">14</text>
<path d="M299.4 1111.8V1121" stroke="#111" stroke-width="1.9"/>
<text transform="translate(299.4 1139.8) scale(0.93 1)" text-anchor="middle" class="ax" font-size="21.3">16</text>
<path d="M327.5 1111.8V1121" stroke="#111" stroke-width="1.9"/>
<text transform="translate(327.5 1139.8) scale(0.93 1)" text-anchor="middle" class="ax" font-size="21.3">18</text>
<path d="M355.8 1111.8V1121" stroke="#111" stroke-width="1.9"/>
<text transform="translate(355.8 1139.8) scale(0.93 1)" text-anchor="middle" class="ax" font-size="21.3">20</text>
<path d="M383.9 1111.8V1121" stroke="#111" stroke-width="1.9"/>
<text transform="translate(383.9 1139.8) scale(0.93 1)" text-anchor="middle" class="ax" font-size="21.3">22</text>
<path d="M412.1 1111.8V1121" stroke="#111" stroke-width="1.9"/>
<text transform="translate(412.1 1139.8) scale(0.93 1)" text-anchor="middle" class="ax" font-size="21.3">24</text>
<path d="M440.3 1111.8V1121" stroke="#111" stroke-width="1.9"/>
<text transform="translate(440.3 1139.8) scale(0.93 1)" text-anchor="middle" class="ax" font-size="21.3">26</text>
<path d="M468.6 1111.8V1121" stroke="#111" stroke-width="1.9"/>
<text transform="translate(468.6 1139.8) scale(0.93 1)" text-anchor="middle" class="ax" font-size="21.3">28</text>
<path d="M496.8 1111.8V1121" stroke="#111" stroke-width="1.9"/>
<text transform="translate(496.8 1139.8) scale(0.93 1)" text-anchor="middle" class="ax" font-size="21.3">30</text>
<path d="M525 1111.8V1121" stroke="#111" stroke-width="1.9"/>
<text transform="translate(525 1139.8) scale(0.93 1)" text-anchor="middle" class="ax" font-size="21.3">32</text>
<path d="M553.1 1111.8V1121" stroke="#111" stroke-width="1.9"/>
<text transform="translate(553.1 1139.8) scale(0.93 1)" text-anchor="middle" class="ax" font-size="21.3">34</text>
<g clip-path="url(#cd)">
<g><path d="M67.1 1103.8L73.8 1097.1L80.4 1103.8L73.8 1110.4Z" fill="none" stroke="#3c55b6" stroke-width="2.5"/><path d="M81.2 1093.2L87.8 1086.6L94.5 1093.2L87.8 1099.9Z" fill="none" stroke="#3c55b6" stroke-width="2.5"/><path d="M95.3 1072L102 1065.4L108.6 1072L102 1078.6Z" fill="none" stroke="#3c55b6" stroke-width="2.5"/><path d="M109.4 1040L116 1033.4L122.7 1040L116 1046.6Z" fill="none" stroke="#3c55b6" stroke-width="2.5"/><path d="M123.5 988.2L130.2 981.6L136.8 988.2L130.2 994.9Z" fill="none" stroke="#3c55b6" stroke-width="2.5"/><path d="M137.6 934.2L144.2 927.6L150.9 934.2L144.2 940.9Z" fill="none" stroke="#3c55b6" stroke-width="2.5"/><path d="M151.7 868L158.3 861.4L165 868L158.3 874.6Z" fill="none" stroke="#3c55b6" stroke-width="2.5"/><path d="M165.8 804.2L172.4 797.6L179.1 804.2L172.4 810.9Z" fill="none" stroke="#3c55b6" stroke-width="2.5"/><path d="M179.9 760.8L186.6 754.1L193.2 760.8L186.6 767.4Z" fill="none" stroke="#3c55b6" stroke-width="2.5"/><path d="M194 727.5L200.6 720.9L207.3 727.5L200.6 734.1Z" fill="none" stroke="#3c55b6" stroke-width="2.5"/><path d="M208.1 700L214.8 693.4L221.4 700L214.8 706.6Z" fill="none" stroke="#3c55b6" stroke-width="2.5"/><path d="M222.2 681.2L228.8 674.6L235.5 681.2L228.8 687.9Z" fill="none" stroke="#3c55b6" stroke-width="2.5"/><path d="M236.3 662L242.9 655.4L249.6 662L242.9 668.6Z" fill="none" stroke="#3c55b6" stroke-width="2.5"/><path d="M250.4 652.5L257 645.9L263.7 652.5L257 659.1Z" fill="none" stroke="#3c55b6" stroke-width="2.5"/><path d="M264.5 643.8L271.1 637.1L277.8 643.8L271.1 650.4Z" fill="none" stroke="#3c55b6" stroke-width="2.5"/><path d="M278.6 637.5L285.2 630.9L291.9 637.5L285.2 644.1Z" fill="none" stroke="#3c55b6" stroke-width="2.5"/><path d="M292.7 632.5L299.4 625.9L306 632.5L299.4 639.1Z" fill="none" stroke="#3c55b6" stroke-width="2.5"/><path d="M306.8 629.5L313.4 622.9L320.1 629.5L313.4 636.1Z" fill="none" stroke="#3c55b6" stroke-width="2.5"/><path d="M320.9 627.5L327.5 620.9L334.2 627.5L327.5 634.1Z" fill="none" stroke="#3c55b6" stroke-width="2.5"/><path d="M335 626.2L341.6 619.6L348.3 626.2L341.6 632.9Z" fill="none" stroke="#3c55b6" stroke-width="2.5"/><path d="M349.1 625L355.8 618.4L362.4 625L355.8 631.6Z" fill="none" stroke="#3c55b6" stroke-width="2.5"/><path d="M363.2 623.8L369.8 617.1L376.5 623.8L369.8 630.4Z" fill="none" stroke="#3c55b6" stroke-width="2.5"/><path d="M377.3 623L383.9 616.4L390.6 623L383.9 629.6Z" fill="none" stroke="#3c55b6" stroke-width="2.5"/><path d="M391.4 622.5L398.1 615.9L404.7 622.5L398.1 629.1Z" fill="none" stroke="#3c55b6" stroke-width="2.5"/><path d="M405.5 622.3L412.1 615.6L418.8 622.3L412.1 628.9Z" fill="none" stroke="#3c55b6" stroke-width="2.5"/><path d="M419.6 622L426.2 615.4L432.9 622L426.2 628.7Z" fill="none" stroke="#3c55b6" stroke-width="2.5"/><path d="M433.7 621.8L440.3 615.2L447 621.8L440.3 628.4Z" fill="none" stroke="#3c55b6" stroke-width="2.5"/><path d="M447.8 621.8L454.4 615.2L461.1 621.8L454.4 628.4Z" fill="none" stroke="#3c55b6" stroke-width="2.5"/><path d="M461.9 621.8L468.6 615.2L475.2 621.8L468.6 628.4Z" fill="none" stroke="#3c55b6" stroke-width="2.5"/><path d="M476 621.8L482.6 615.2L489.3 621.8L482.6 628.4Z" fill="none" stroke="#3c55b6" stroke-width="2.5"/><path d="M490.1 621.8L496.8 615.2L503.4 621.8L496.8 628.4Z" fill="none" stroke="#3c55b6" stroke-width="2.5"/><path d="M504.2 621.8L510.8 615.2L517.5 621.8L510.8 628.4Z" fill="none" stroke="#3c55b6" stroke-width="2.5"/><path d="M518.3 621.8L525 615.2L531.6 621.8L525 628.4Z" fill="none" stroke="#3c55b6" stroke-width="2.5"/><path d="M532.4 621.8L539 615.2L545.7 621.8L539 628.4Z" fill="none" stroke="#3c55b6" stroke-width="2.5"/><path d="M546.5 621.8L553.1 615.2L559.8 621.8L553.1 628.4Z" fill="none" stroke="#3c55b6" stroke-width="2.5"/></g>
<g><path d="M67.8 1108.7L73.8 1097.5L79.8 1108.7Z" fill="#1d6079"/><path d="M81.8 1100.7L87.8 1089.5L93.8 1100.7Z" fill="#1d6079"/><path d="M96 1093.2L102 1082L108 1093.2Z" fill="#1d6079"/><path d="M110 1079.4L116 1068.3L122 1079.4Z" fill="#1d6079"/><path d="M124.2 1055.2L130.2 1044L136.2 1055.2Z" fill="#1d6079"/><path d="M138.2 1017.4L144.2 1006.3L150.2 1017.4Z" fill="#1d6079"/><path d="M152.3 963.9L158.3 952.8L164.3 963.9Z" fill="#1d6079"/><path d="M166.4 898.1L172.4 887L178.4 898.1Z" fill="#1d6079"/><path d="M180.6 834.4L186.6 823.3L192.6 834.4Z" fill="#1d6079"/><path d="M194.6 775.6L200.6 764.5L206.6 775.6Z" fill="#1d6079"/><path d="M208.8 735.6L214.8 724.5L220.8 735.6Z" fill="#1d6079"/><path d="M222.8 703.1L228.8 692L234.8 703.1Z" fill="#1d6079"/><path d="M236.9 678.1L242.9 667L248.9 678.1Z" fill="#1d6079"/><path d="M251 660.6L257 649.5L263 660.6Z" fill="#1d6079"/><path d="M265.1 646.9L271.1 635.8L277.1 646.9Z" fill="#1d6079"/><path d="M279.2 636.9L285.2 625.8L291.2 636.9Z" fill="#1d6079"/><path d="M293.4 629.4L299.4 618.3L305.4 629.4Z" fill="#1d6079"/><path d="M307.4 623.9L313.4 612.8L319.4 623.9Z" fill="#1d6079"/><path d="M321.5 619.4L327.5 608.3L333.5 619.4Z" fill="#1d6079"/><path d="M335.6 615.6L341.6 604.5L347.6 615.6Z" fill="#1d6079"/><path d="M349.8 612.4L355.8 601.3L361.8 612.4Z" fill="#1d6079"/><path d="M363.8 610.1L369.8 599L375.8 610.1Z" fill="#1d6079"/><path d="M377.9 608.4L383.9 597.3L389.9 608.4Z" fill="#1d6079"/><path d="M392.1 606.9L398.1 595.8L404.1 606.9Z" fill="#1d6079"/><path d="M406.1 605.9L412.1 594.8L418.1 605.9Z" fill="#1d6079"/><path d="M420.2 604.9L426.2 593.8L432.2 604.9Z" fill="#1d6079"/><path d="M434.3 603.9L440.3 592.8L446.3 603.9Z" fill="#1d6079"/><path d="M448.4 603.8L454.4 592.7L460.4 603.8Z" fill="#1d6079"/><path d="M462.6 603.6L468.6 592.5L474.6 603.6Z" fill="#1d6079"/><path d="M476.6 603.5L482.6 592.4L488.6 603.5Z" fill="#1d6079"/><path d="M490.8 603.4L496.8 592.3L502.8 603.4Z" fill="#1d6079"/><path d="M504.8 603.3L510.8 592.2L516.8 603.3Z" fill="#1d6079"/><path d="M519 603.1L525 592L531 603.1Z" fill="#1d6079"/><path d="M533 603L539 591.9L545 603Z" fill="#1d6079"/><path d="M547.1 602.9L553.1 591.8L559.1 602.9Z" fill="#1d6079"/></g>
<g><path d="M71.7 1099.8L78.8 1103.8L71.7 1107.7Z" fill="none" stroke="#f32a35" stroke-width="2.4" stroke-linejoin="miter" stroke-miterlimit="10"/><path d="M85.8 1084.8L92.9 1088.8L85.8 1092.7Z" fill="none" stroke="#f32a35" stroke-width="2.4" stroke-linejoin="miter" stroke-miterlimit="10"/><path d="M99.9 1064.8L107 1068.8L99.9 1072.7Z" fill="none" stroke="#f32a35" stroke-width="2.4" stroke-linejoin="miter" stroke-miterlimit="10"/><path d="M114 1037.8L121.1 1041.8L114 1045.7Z" fill="none" stroke="#f32a35" stroke-width="2.4" stroke-linejoin="miter" stroke-miterlimit="10"/><path d="M128.1 999.3L135.2 1003.2L128.1 1007.2Z" fill="none" stroke="#f32a35" stroke-width="2.4" stroke-linejoin="miter" stroke-miterlimit="10"/><path d="M142.2 950.5L149.3 954.5L142.2 958.5Z" fill="none" stroke="#f32a35" stroke-width="2.4" stroke-linejoin="miter" stroke-miterlimit="10"/><path d="M156.3 886L163.4 890L156.3 894Z" fill="none" stroke="#f32a35" stroke-width="2.4" stroke-linejoin="miter" stroke-miterlimit="10"/><path d="M170.4 827.3L177.5 831.2L170.4 835.2Z" fill="none" stroke="#f32a35" stroke-width="2.4" stroke-linejoin="miter" stroke-miterlimit="10"/><path d="M184.5 781.5L191.6 785.5L184.5 789.5Z" fill="none" stroke="#f32a35" stroke-width="2.4" stroke-linejoin="miter" stroke-miterlimit="10"/><path d="M198.6 745.5L205.7 749.5L198.6 753.5Z" fill="none" stroke="#f32a35" stroke-width="2.4" stroke-linejoin="miter" stroke-miterlimit="10"/><path d="M212.7 717.3L219.8 721.2L212.7 725.2Z" fill="none" stroke="#f32a35" stroke-width="2.4" stroke-linejoin="miter" stroke-miterlimit="10"/><path d="M226.8 696L233.9 700L226.8 704Z" fill="none" stroke="#f32a35" stroke-width="2.4" stroke-linejoin="miter" stroke-miterlimit="10"/><path d="M240.9 679.8L248 683.8L240.9 687.7Z" fill="none" stroke="#f32a35" stroke-width="2.4" stroke-linejoin="miter" stroke-miterlimit="10"/><path d="M255 667.3L262.1 671.2L255 675.2Z" fill="none" stroke="#f32a35" stroke-width="2.4" stroke-linejoin="miter" stroke-miterlimit="10"/><path d="M269.1 657.3L276.2 661.2L269.1 665.2Z" fill="none" stroke="#f32a35" stroke-width="2.4" stroke-linejoin="miter" stroke-miterlimit="10"/><path d="M283.2 648.5L290.3 652.5L283.2 656.5Z" fill="none" stroke="#f32a35" stroke-width="2.4" stroke-linejoin="miter" stroke-miterlimit="10"/><path d="M297.3 642.3L304.4 646.2L297.3 650.2Z" fill="none" stroke="#f32a35" stroke-width="2.4" stroke-linejoin="miter" stroke-miterlimit="10"/><path d="M311.4 637.3L318.5 641.2L311.4 645.2Z" fill="none" stroke="#f32a35" stroke-width="2.4" stroke-linejoin="miter" stroke-miterlimit="10"/><path d="M325.5 634L332.6 638L325.5 642Z" fill="none" stroke="#f32a35" stroke-width="2.4" stroke-linejoin="miter" stroke-miterlimit="10"/><path d="M339.6 631.5L346.7 635.5L339.6 639.5Z" fill="none" stroke="#f32a35" stroke-width="2.4" stroke-linejoin="miter" stroke-miterlimit="10"/><path d="M353.7 629L360.8 633L353.7 637Z" fill="none" stroke="#f32a35" stroke-width="2.4" stroke-linejoin="miter" stroke-miterlimit="10"/><path d="M367.8 627.3L374.9 631.2L367.8 635.2Z" fill="none" stroke="#f32a35" stroke-width="2.4" stroke-linejoin="miter" stroke-miterlimit="10"/><path d="M381.9 626L389 630L381.9 634Z" fill="none" stroke="#f32a35" stroke-width="2.4" stroke-linejoin="miter" stroke-miterlimit="10"/><path d="M396 624.8L403.1 628.8L396 632.7Z" fill="none" stroke="#f32a35" stroke-width="2.4" stroke-linejoin="miter" stroke-miterlimit="10"/><path d="M410.1 624.5L417.2 628.4L410.1 632.4Z" fill="none" stroke="#f32a35" stroke-width="2.4" stroke-linejoin="miter" stroke-miterlimit="10"/><path d="M424.2 624.2L431.3 628.1L424.2 632.1Z" fill="none" stroke="#f32a35" stroke-width="2.4" stroke-linejoin="miter" stroke-miterlimit="10"/><path d="M438.3 623.9L445.4 627.8L438.3 631.8Z" fill="none" stroke="#f32a35" stroke-width="2.4" stroke-linejoin="miter" stroke-miterlimit="10"/><path d="M452.4 623.5L459.5 627.5L452.4 631.5Z" fill="none" stroke="#f32a35" stroke-width="2.4" stroke-linejoin="miter" stroke-miterlimit="10"/><path d="M466.5 623.5L473.6 627.4L466.5 631.4Z" fill="none" stroke="#f32a35" stroke-width="2.4" stroke-linejoin="miter" stroke-miterlimit="10"/><path d="M480.6 623.4L487.7 627.4L480.6 631.3Z" fill="none" stroke="#f32a35" stroke-width="2.4" stroke-linejoin="miter" stroke-miterlimit="10"/><path d="M494.7 623.3L501.8 627.3L494.7 631.2Z" fill="none" stroke="#f32a35" stroke-width="2.4" stroke-linejoin="miter" stroke-miterlimit="10"/><path d="M508.8 623.3L515.9 627.2L508.8 631.2Z" fill="none" stroke="#f32a35" stroke-width="2.4" stroke-linejoin="miter" stroke-miterlimit="10"/><path d="M522.9 623.2L530 627.1L522.9 631.1Z" fill="none" stroke="#f32a35" stroke-width="2.4" stroke-linejoin="miter" stroke-miterlimit="10"/><path d="M537 623.1L544.1 627.1L537 631Z" fill="none" stroke="#f32a35" stroke-width="2.4" stroke-linejoin="miter" stroke-miterlimit="10"/><path d="M551.1 623L558.2 627L551.1 631Z" fill="none" stroke="#f32a35" stroke-width="2.4" stroke-linejoin="miter" stroke-miterlimit="10"/></g>
<g><circle cx="73.8" cy="1104.2" r="6.2" fill="#7c2a8a"/><circle cx="87.8" cy="1095" r="6.2" fill="#7c2a8a"/><circle cx="102" cy="1080.5" r="6.2" fill="#7c2a8a"/><circle cx="116" cy="1058" r="6.2" fill="#7c2a8a"/><circle cx="130.2" cy="1020" r="6.2" fill="#7c2a8a"/><circle cx="144.2" cy="977.5" r="6.2" fill="#7c2a8a"/><circle cx="158.3" cy="916.8" r="6.2" fill="#7c2a8a"/><circle cx="172.4" cy="858.8" r="6.2" fill="#7c2a8a"/><circle cx="186.6" cy="802.5" r="6.2" fill="#7c2a8a"/><circle cx="200.6" cy="757.5" r="6.2" fill="#7c2a8a"/><circle cx="214.8" cy="720.8" r="6.2" fill="#7c2a8a"/><circle cx="228.8" cy="696.2" r="6.2" fill="#7c2a8a"/><circle cx="242.9" cy="673" r="6.2" fill="#7c2a8a"/><circle cx="257" cy="657.5" r="6.2" fill="#7c2a8a"/><circle cx="271.1" cy="645" r="6.2" fill="#7c2a8a"/><circle cx="285.2" cy="635.5" r="6.2" fill="#7c2a8a"/><circle cx="299.4" cy="628.8" r="6.2" fill="#7c2a8a"/><circle cx="313.4" cy="623.8" r="6.2" fill="#7c2a8a"/><circle cx="327.5" cy="620" r="6.2" fill="#7c2a8a"/><circle cx="341.6" cy="617.5" r="6.2" fill="#7c2a8a"/><circle cx="355.8" cy="614.5" r="6.2" fill="#7c2a8a"/><circle cx="369.8" cy="611.2" r="6.2" fill="#7c2a8a"/><circle cx="383.9" cy="610" r="6.2" fill="#7c2a8a"/><circle cx="398.1" cy="608.8" r="6.2" fill="#7c2a8a"/><circle cx="412.1" cy="608.1" r="6.2" fill="#7c2a8a"/><circle cx="426.2" cy="607.4" r="6.2" fill="#7c2a8a"/><circle cx="440.3" cy="606.8" r="6.2" fill="#7c2a8a"/><circle cx="454.4" cy="606.7" r="6.2" fill="#7c2a8a"/><circle cx="468.6" cy="606.6" r="6.2" fill="#7c2a8a"/><circle cx="482.6" cy="606.6" r="6.2" fill="#7c2a8a"/><circle cx="496.8" cy="606.5" r="6.2" fill="#7c2a8a"/><circle cx="510.8" cy="606.4" r="6.2" fill="#7c2a8a"/><circle cx="525" cy="606.4" r="6.2" fill="#7c2a8a"/><circle cx="539" cy="606.3" r="6.2" fill="#7c2a8a"/><circle cx="553.1" cy="606.2" r="6.2" fill="#7c2a8a"/></g>
<g><path d="M77.8 1098L66.8 1104.2L77.8 1110.5Z" fill="#129a4b"/><path d="M91.8 1086.2L80.8 1092.5L91.8 1098.8Z" fill="#129a4b"/><path d="M106 1064.5L95 1070.8L106 1077Z" fill="#129a4b"/><path d="M120 1033.8L109 1040L120 1046.2Z" fill="#129a4b"/><path d="M134.2 988.8L123.2 995L134.2 1001.2Z" fill="#129a4b"/><path d="M148.2 925L137.2 931.2L148.2 937.5Z" fill="#129a4b"/><path d="M162.3 857L151.3 863.2L162.3 869.5Z" fill="#129a4b"/><path d="M176.4 798.2L165.4 804.5L176.4 810.8Z" fill="#129a4b"/><path d="M190.6 752.5L179.6 758.8L190.6 765Z" fill="#129a4b"/><path d="M204.6 715L193.6 721.2L204.6 727.5Z" fill="#129a4b"/><path d="M218.8 687.5L207.8 693.8L218.8 700Z" fill="#129a4b"/><path d="M232.8 668.8L221.8 675L232.8 681.2Z" fill="#129a4b"/><path d="M246.9 653.8L235.9 660L246.9 666.2Z" fill="#129a4b"/><path d="M261 643.8L250 650L261 656.2Z" fill="#129a4b"/><path d="M275.1 635.5L264.1 641.8L275.1 648Z" fill="#129a4b"/><path d="M289.2 629.2L278.2 635.5L289.2 641.8Z" fill="#129a4b"/><path d="M303.4 623.8L292.4 630L303.4 636.2Z" fill="#129a4b"/><path d="M317.4 620L306.4 626.2L317.4 632.5Z" fill="#129a4b"/><path d="M331.5 617.5L320.5 623.8L331.5 630Z" fill="#129a4b"/><path d="M345.6 615.8L334.6 622L345.6 628.2Z" fill="#129a4b"/><path d="M359.8 613.8L348.8 620L359.8 626.2Z" fill="#129a4b"/><path d="M373.8 612.5L362.8 618.8L373.8 625Z" fill="#129a4b"/><path d="M387.9 611.2L376.9 617.5L387.9 623.8Z" fill="#129a4b"/><path d="M402.1 610.5L391.1 616.8L402.1 623Z" fill="#129a4b"/><path d="M416.1 609.9L405.1 616.1L416.1 622.4Z" fill="#129a4b"/><path d="M430.2 609.2L419.2 615.4L430.2 621.7Z" fill="#129a4b"/><path d="M444.3 608.5L433.3 614.8L444.3 621Z" fill="#129a4b"/><path d="M458.4 608.5L447.4 614.8L458.4 621Z" fill="#129a4b"/><path d="M472.6 608.5L461.6 614.7L472.6 621Z" fill="#129a4b"/><path d="M486.6 608.4L475.6 614.7L486.6 620.9Z" fill="#129a4b"/><path d="M500.8 608.4L489.8 614.6L500.8 620.9Z" fill="#129a4b"/><path d="M514.8 608.4L503.8 614.6L514.8 620.9Z" fill="#129a4b"/><path d="M529 608.3L518 614.6L529 620.8Z" fill="#129a4b"/><path d="M543 608.3L532 614.5L543 620.8Z" fill="#129a4b"/><path d="M557.1 608.2L546.1 614.5L557.1 620.8Z" fill="#129a4b"/></g>
<g><circle cx="73.8" cy="1104.2" r="5" fill="none" stroke="#353535" stroke-width="2.4"/><circle cx="87.8" cy="1102.5" r="5" fill="none" stroke="#353535" stroke-width="2.4"/><circle cx="102" cy="1097.5" r="5" fill="none" stroke="#353535" stroke-width="2.4"/><circle cx="116" cy="1091.8" r="5" fill="none" stroke="#353535" stroke-width="2.4"/><circle cx="130.2" cy="1079.5" r="5" fill="none" stroke="#353535" stroke-width="2.4"/><circle cx="144.2" cy="1054.5" r="5" fill="none" stroke="#353535" stroke-width="2.4"/><circle cx="158.3" cy="1012.5" r="5" fill="none" stroke="#353535" stroke-width="2.4"/><circle cx="172.4" cy="959.5" r="5" fill="none" stroke="#353535" stroke-width="2.4"/><circle cx="186.6" cy="898.2" r="5" fill="none" stroke="#353535" stroke-width="2.4"/><circle cx="200.6" cy="835.8" r="5" fill="none" stroke="#353535" stroke-width="2.4"/><circle cx="214.8" cy="791.8" r="5" fill="none" stroke="#353535" stroke-width="2.4"/><circle cx="228.8" cy="749.5" r="5" fill="none" stroke="#353535" stroke-width="2.4"/><circle cx="242.9" cy="717.5" r="5" fill="none" stroke="#353535" stroke-width="2.4"/><circle cx="257" cy="694" r="5" fill="none" stroke="#353535" stroke-width="2.4"/><circle cx="271.1" cy="672.5" r="5" fill="none" stroke="#353535" stroke-width="2.4"/><circle cx="285.2" cy="657.5" r="5" fill="none" stroke="#353535" stroke-width="2.4"/><circle cx="299.4" cy="646.2" r="5" fill="none" stroke="#353535" stroke-width="2.4"/><circle cx="313.4" cy="637.5" r="5" fill="none" stroke="#353535" stroke-width="2.4"/><circle cx="327.5" cy="631.2" r="5" fill="none" stroke="#353535" stroke-width="2.4"/><circle cx="341.6" cy="627" r="5" fill="none" stroke="#353535" stroke-width="2.4"/><circle cx="355.8" cy="623.8" r="5" fill="none" stroke="#353535" stroke-width="2.4"/><circle cx="369.8" cy="620" r="5" fill="none" stroke="#353535" stroke-width="2.4"/><circle cx="383.9" cy="617.5" r="5" fill="none" stroke="#353535" stroke-width="2.4"/><circle cx="398.1" cy="616.2" r="5" fill="none" stroke="#353535" stroke-width="2.4"/><circle cx="412.1" cy="616" r="5" fill="none" stroke="#353535" stroke-width="2.4"/><circle cx="426.2" cy="615.8" r="5" fill="none" stroke="#353535" stroke-width="2.4"/><circle cx="440.3" cy="615.5" r="5" fill="none" stroke="#353535" stroke-width="2.4"/><circle cx="454.4" cy="615.4" r="5" fill="none" stroke="#353535" stroke-width="2.4"/><circle cx="468.6" cy="615.4" r="5" fill="none" stroke="#353535" stroke-width="2.4"/><circle cx="482.6" cy="615.3" r="5" fill="none" stroke="#353535" stroke-width="2.4"/><circle cx="496.8" cy="615.2" r="5" fill="none" stroke="#353535" stroke-width="2.4"/><circle cx="510.8" cy="615.2" r="5" fill="none" stroke="#353535" stroke-width="2.4"/><circle cx="525" cy="615.1" r="5" fill="none" stroke="#353535" stroke-width="2.4"/><circle cx="539" cy="615.1" r="5" fill="none" stroke="#353535" stroke-width="2.4"/><circle cx="553.1" cy="615" r="5" fill="none" stroke="#353535" stroke-width="2.4"/></g>
<g><path d="M69.3 1098.3H78.2L75.5 1104.2L78.2 1110.2H69.3L72 1104.2Z" fill="#fa981c"/><path d="M83.4 1090.3H92.2L89.5 1096.2L92.2 1102.2H83.4L86.1 1096.2Z" fill="#fa981c"/><path d="M97.5 1075.3H106.4L103.7 1081.2L106.4 1087.2H97.5L100.2 1081.2Z" fill="#fa981c"/><path d="M111.6 1049.6H120.5L117.8 1055.5L120.5 1061.4H111.6L114.3 1055.5Z" fill="#fa981c"/><path d="M125.8 998.4H134.6L131.8 1004.2L134.6 1010.1H125.8L128.5 1004.2Z" fill="#fa981c"/><path d="M139.8 948.4H148.7L145.9 954.2L148.7 960.1H139.8L142.6 954.2Z" fill="#fa981c"/><path d="M153.9 884.6H162.8L160 890.5L162.8 896.4H153.9L156.7 890.5Z" fill="#fa981c"/><path d="M168 827.4H176.8L174.1 833.2L176.8 839.1H168L170.8 833.2Z" fill="#fa981c"/><path d="M182.2 779.1H191L188.2 785L191 790.9H182.2L184.9 785Z" fill="#fa981c"/><path d="M196.2 742.4H205L202.3 748.2L205 754.1H196.2L198.9 748.2Z" fill="#fa981c"/><path d="M210.3 713.4H219.2L216.4 719.2L219.2 725.1H210.3L213.1 719.2Z" fill="#fa981c"/><path d="M224.4 690.4H233.2L230.5 696.2L233.2 702.1H224.4L227.2 696.2Z" fill="#fa981c"/><path d="M238.5 671.6H247.3L244.6 677.5L247.3 683.4H238.5L241.2 677.5Z" fill="#fa981c"/><path d="M252.6 657.9H261.4L258.7 663.8L261.4 669.6H252.6L255.3 663.8Z" fill="#fa981c"/><path d="M266.8 647.9H275.5L272.8 653.8L275.5 659.6H266.8L269.4 653.8Z" fill="#fa981c"/><path d="M280.9 640.4H289.6L286.9 646.2L289.6 652.1H280.9L283.6 646.2Z" fill="#fa981c"/><path d="M295 634.1H303.8L301.1 640L303.8 645.9H295L297.7 640Z" fill="#fa981c"/><path d="M309.1 629.6H317.8L315.1 635.5L317.8 641.4H309.1L311.8 635.5Z" fill="#fa981c"/><path d="M323.1 625.9H331.9L329.2 631.8L331.9 637.6H323.1L325.8 631.8Z" fill="#fa981c"/><path d="M337.2 623.6H346L343.3 629.5L346 635.4H337.2L339.9 629.5Z" fill="#fa981c"/><path d="M351.4 621.1H360.1L357.4 627L360.1 632.9H351.4L354.1 627Z" fill="#fa981c"/><path d="M365.4 619.6H374.2L371.5 625.5L374.2 631.4H365.4L368.1 625.5Z" fill="#fa981c"/><path d="M379.6 618.6H388.3L385.6 624.5L388.3 630.4H379.6L382.2 624.5Z" fill="#fa981c"/><path d="M393.7 617.9H402.4L399.8 623.8L402.4 629.6H393.7L396.4 623.8Z" fill="#fa981c"/><path d="M407.8 617.3H416.5L413.8 623.2L416.5 629.1H407.8L410.4 623.2Z" fill="#fa981c"/><path d="M421.9 616.7H430.6L427.9 622.6L430.6 628.5H421.9L424.6 622.6Z" fill="#fa981c"/><path d="M435.9 616.2H444.7L442 622.1L444.7 628H435.9L438.6 622.1Z" fill="#fa981c"/><path d="M450.1 615.6H458.8L456.1 621.5L458.8 627.4H450.1L452.8 621.5Z" fill="#fa981c"/><path d="M464.2 615.6H472.9L470.2 621.5L472.9 627.4H464.2L466.9 621.5Z" fill="#fa981c"/><path d="M478.2 615.5H487L484.3 621.4L487 627.3H478.2L480.9 621.4Z" fill="#fa981c"/><path d="M492.4 615.5H501.1L498.4 621.4L501.1 627.3H492.4L495.1 621.4Z" fill="#fa981c"/><path d="M506.4 615.4H515.2L512.5 621.3L515.2 627.2H506.4L509.1 621.3Z" fill="#fa981c"/><path d="M520.6 615.4H529.4L526.7 621.3L529.4 627.2H520.6L523.2 621.3Z" fill="#fa981c"/><path d="M534.6 615.3H543.4L540.8 621.2L543.4 627.1H534.6L537.3 621.2Z" fill="#fa981c"/><path d="M548.8 615.3H557.5L554.9 621.2L557.5 627.1H548.8L551.4 621.2Z" fill="#fa981c"/></g>
</g>
<text x="100" y="637.6" class="ti" font-size="18.6">(d)Wiki-Vote</text>
<path d="M408.9 906.3L415.5 899.7L422.1 906.3L415.5 912.9Z" fill="none" stroke="#3c55b6" stroke-width="2.5"/>
<text x="425.5" y="911.3" class="lgs" font-size="13.1">BC</text>
<path d="M409.1 926.9L415.5 916.2L421.9 926.9Z" fill="#1d6079"/>
<text x="425.5" y="927.8" class="lgs" font-size="13.1">CR</text>
<path d="M412.4 935.1L420.5 939.4L412.4 943.7Z" fill="none" stroke="#f32a35" stroke-width="3" stroke-linejoin="miter" stroke-miterlimit="10"/>
<text x="425.5" y="944.4" class="lgs" font-size="13.1">DC</text>
<circle cx="415.5" cy="955.9" r="6.2" fill="#7c2a8a"/>
<text x="425.5" y="960.9" class="lgs" font-size="13.1">EC</text>
<circle cx="415.5" cy="972.5" r="5" fill="none" stroke="#353535" stroke-width="2.4"/>
<text x="425.5" y="977.5" class="lgs" font-size="13.1">FA</text>
<path d="M419.5 982.8L408.5 989L419.5 995.3Z" fill="#129a4b"/>
<text x="425.5" y="994" class="lgs" font-size="13.1">LR</text>
<path d="M411.1 999.7H419.9L417.2 1005.6L419.9 1011.5H411.1L413.8 1005.6Z" fill="#fa981c"/>
<text x="425.5" y="1010.6" class="lgs" font-size="13.1">PR</text>
<text transform="translate(16 846) rotate(-90)" text-anchor="middle" class="ti" font-size="18" dy="6">F(t)</text>
<rect x="611.8" y="579" width="489.4" height="530.5" fill="none" stroke="#0a0a0a" stroke-width="2.6"/>
<path d="M599.2 627H611.8" stroke="#111" stroke-width="1.9"/>
<text transform="translate(597.3 634.7) scale(0.93 1)" text-anchor="end" class="ax" font-size="20.8">.12</text>
<path d="M599.2 747.4H611.8" stroke="#111" stroke-width="1.9"/>
<text transform="translate(597.3 755.1) scale(0.93 1)" text-anchor="end" class="ax" font-size="20.8">.09</text>
<path d="M599.2 868.1H611.8" stroke="#111" stroke-width="1.9"/>
<text transform="translate(597.3 875.8) scale(0.93 1)" text-anchor="end" class="ax" font-size="20.8">.06</text>
<path d="M599.2 988.8H611.8" stroke="#111" stroke-width="1.9"/>
<text transform="translate(597.3 996.5) scale(0.93 1)" text-anchor="end" class="ax" font-size="20.8">.03</text>
<path d="M599.2 1109.5H611.8" stroke="#111" stroke-width="1.9"/>
<text transform="translate(597.3 1117.2) scale(0.93 1)" text-anchor="end" class="ax" font-size="20.8">.00</text>
<path d="M616.2 1109.5V1118.7" stroke="#111" stroke-width="1.9"/>
<text transform="translate(616.2 1137) scale(0.93 1)" text-anchor="middle" class="ax" font-size="20.8">0</text>
<path d="M653.1 1109.5V1118.7" stroke="#111" stroke-width="1.9"/>
<text transform="translate(653.1 1137) scale(0.93 1)" text-anchor="middle" class="ax" font-size="20.8">3</text>
<path d="M690 1109.5V1118.7" stroke="#111" stroke-width="1.9"/>
<text transform="translate(690 1137) scale(0.93 1)" text-anchor="middle" class="ax" font-size="20.8">6</text>
<path d="M726.8 1109.5V1118.7" stroke="#111" stroke-width="1.9"/>
<text transform="translate(726.8 1137) scale(0.93 1)" text-anchor="middle" class="ax" font-size="20.8">9</text>
<path d="M763.7 1109.5V1118.7" stroke="#111" stroke-width="1.9"/>
<text transform="translate(763.7 1137) scale(0.93 1)" text-anchor="middle" class="ax" font-size="20.8">12</text>
<path d="M800.6 1109.5V1118.7" stroke="#111" stroke-width="1.9"/>
<text transform="translate(800.6 1137) scale(0.93 1)" text-anchor="middle" class="ax" font-size="20.8">15</text>
<path d="M837.4 1109.5V1118.7" stroke="#111" stroke-width="1.9"/>
<text transform="translate(837.4 1137) scale(0.93 1)" text-anchor="middle" class="ax" font-size="20.8">18</text>
<path d="M874.3 1109.5V1118.7" stroke="#111" stroke-width="1.9"/>
<text transform="translate(874.3 1137) scale(0.93 1)" text-anchor="middle" class="ax" font-size="20.8">21</text>
<path d="M911.1 1109.5V1118.7" stroke="#111" stroke-width="1.9"/>
<text transform="translate(911.1 1137) scale(0.93 1)" text-anchor="middle" class="ax" font-size="20.8">24</text>
<path d="M948 1109.5V1118.7" stroke="#111" stroke-width="1.9"/>
<text transform="translate(948 1137) scale(0.93 1)" text-anchor="middle" class="ax" font-size="20.8">27</text>
<path d="M984.9 1109.5V1118.7" stroke="#111" stroke-width="1.9"/>
<text transform="translate(984.9 1137) scale(0.93 1)" text-anchor="middle" class="ax" font-size="20.8">30</text>
<path d="M1021.7 1109.5V1118.7" stroke="#111" stroke-width="1.9"/>
<text transform="translate(1021.7 1137) scale(0.93 1)" text-anchor="middle" class="ax" font-size="20.8">33</text>
<path d="M1058.6 1109.5V1118.7" stroke="#111" stroke-width="1.9"/>
<text transform="translate(1058.6 1137) scale(0.93 1)" text-anchor="middle" class="ax" font-size="20.8">36</text>
<path d="M1095.4 1109.5V1118.7" stroke="#111" stroke-width="1.9"/>
<text transform="translate(1095.4 1137) scale(0.93 1)" text-anchor="middle" class="ax" font-size="20.8">39</text>
<g clip-path="url(#ce)">
<g><path d="M609.6 1106.2L616.2 1099.6L622.9 1106.2L616.2 1112.9Z" fill="none" stroke="#3c55b6" stroke-width="2.5"/><path d="M621.9 1100L628.5 1093.4L635.2 1100L628.5 1106.6Z" fill="none" stroke="#3c55b6" stroke-width="2.5"/><path d="M634.2 1085.8L640.8 1079.1L647.5 1085.8L640.8 1092.4Z" fill="none" stroke="#3c55b6" stroke-width="2.5"/><path d="M646.5 1059.5L653.1 1052.9L659.7 1059.5L653.1 1066.1Z" fill="none" stroke="#3c55b6" stroke-width="2.5"/><path d="M658.8 1012.5L665.4 1005.9L672 1012.5L665.4 1019.1Z" fill="none" stroke="#3c55b6" stroke-width="2.5"/><path d="M671.1 953.8L677.7 947.1L684.3 953.8L677.7 960.4Z" fill="none" stroke="#3c55b6" stroke-width="2.5"/><path d="M683.3 905L690 898.4L696.6 905L690 911.6Z" fill="none" stroke="#3c55b6" stroke-width="2.5"/><path d="M695.6 864.5L702.3 857.9L708.9 864.5L702.3 871.1Z" fill="none" stroke="#3c55b6" stroke-width="2.5"/><path d="M707.9 830.8L714.5 824.1L721.2 830.8L714.5 837.4Z" fill="none" stroke="#3c55b6" stroke-width="2.5"/><path d="M720.2 802.5L726.8 795.9L733.5 802.5L726.8 809.1Z" fill="none" stroke="#3c55b6" stroke-width="2.5"/><path d="M732.5 775.5L739.1 768.9L745.8 775.5L739.1 782.1Z" fill="none" stroke="#3c55b6" stroke-width="2.5"/><path d="M744.8 748.8L751.4 742.1L758 748.8L751.4 755.4Z" fill="none" stroke="#3c55b6" stroke-width="2.5"/><path d="M757.1 727.5L763.7 720.9L770.3 727.5L763.7 734.1Z" fill="none" stroke="#3c55b6" stroke-width="2.5"/><path d="M769.3 705L776 698.4L782.6 705L776 711.6Z" fill="none" stroke="#3c55b6" stroke-width="2.5"/><path d="M781.6 692.5L788.3 685.9L794.9 692.5L788.3 699.1Z" fill="none" stroke="#3c55b6" stroke-width="2.5"/><path d="M793.9 678.8L800.6 672.1L807.2 678.8L800.6 685.4Z" fill="none" stroke="#3c55b6" stroke-width="2.5"/><path d="M806.2 670L812.8 663.4L819.5 670L812.8 676.6Z" fill="none" stroke="#3c55b6" stroke-width="2.5"/><path d="M818.5 661.6L825.1 655L831.8 661.6L825.1 668.2Z" fill="none" stroke="#3c55b6" stroke-width="2.5"/><path d="M830.8 655.7L837.4 649.1L844 655.7L837.4 662.4Z" fill="none" stroke="#3c55b6" stroke-width="2.5"/><path d="M843.1 651.9L849.7 645.2L856.3 651.9L849.7 658.5Z" fill="none" stroke="#3c55b6" stroke-width="2.5"/><path d="M855.4 647.6L862 640.9L868.6 647.6L862 654.2Z" fill="none" stroke="#3c55b6" stroke-width="2.5"/><path d="M867.6 644.1L874.3 637.4L880.9 644.1L874.3 650.7Z" fill="none" stroke="#3c55b6" stroke-width="2.5"/><path d="M879.9 640.4L886.6 633.7L893.2 640.4L886.6 647Z" fill="none" stroke="#3c55b6" stroke-width="2.5"/><path d="M892.2 637.4L898.9 630.8L905.5 637.4L898.9 644.1Z" fill="none" stroke="#3c55b6" stroke-width="2.5"/><path d="M904.5 634.9L911.1 628.3L917.8 634.9L911.1 641.5Z" fill="none" stroke="#3c55b6" stroke-width="2.5"/><path d="M916.8 632L923.4 625.3L930.1 632L923.4 638.6Z" fill="none" stroke="#3c55b6" stroke-width="2.5"/><path d="M929.1 629.6L935.7 623L942.3 629.6L935.7 636.3Z" fill="none" stroke="#3c55b6" stroke-width="2.5"/><path d="M941.4 627.1L948 620.5L954.6 627.1L948 633.7Z" fill="none" stroke="#3c55b6" stroke-width="2.5"/><path d="M953.7 625.2L960.3 618.5L966.9 625.2L960.3 631.8Z" fill="none" stroke="#3c55b6" stroke-width="2.5"/><path d="M965.9 622.8L972.6 616.2L979.2 622.8L972.6 629.4Z" fill="none" stroke="#3c55b6" stroke-width="2.5"/><path d="M978.2 621.1L984.9 614.4L991.5 621.1L984.9 627.7Z" fill="none" stroke="#3c55b6" stroke-width="2.5"/><path d="M990.5 619.7L997.1 613.1L1003.8 619.7L997.1 626.3Z" fill="none" stroke="#3c55b6" stroke-width="2.5"/><path d="M1002.8 618.3L1009.4 611.7L1016.1 618.3L1009.4 625Z" fill="none" stroke="#3c55b6" stroke-width="2.5"/><path d="M1015.1 617.6L1021.7 610.9L1028.4 617.6L1021.7 624.2Z" fill="none" stroke="#3c55b6" stroke-width="2.5"/><path d="M1027.4 617.2L1034 610.5L1040.6 617.2L1034 623.8Z" fill="none" stroke="#3c55b6" stroke-width="2.5"/><path d="M1039.7 616.6L1046.3 609.9L1052.9 616.6L1046.3 623.2Z" fill="none" stroke="#3c55b6" stroke-width="2.5"/><path d="M1051.9 616.4L1058.6 609.8L1065.2 616.4L1058.6 623Z" fill="none" stroke="#3c55b6" stroke-width="2.5"/><path d="M1064.2 616.4L1070.9 609.8L1077.5 616.4L1070.9 623Z" fill="none" stroke="#3c55b6" stroke-width="2.5"/><path d="M1076.5 616.2L1083.2 609.6L1089.8 616.2L1083.2 622.8Z" fill="none" stroke="#3c55b6" stroke-width="2.5"/><path d="M1088.8 616.2L1095.4 609.6L1102.1 616.2L1095.4 622.8Z" fill="none" stroke="#3c55b6" stroke-width="2.5"/></g>
<g><path d="M610.2 1110.7L616.2 1099.5L622.2 1110.7Z" fill="#1d6079"/><path d="M622.5 1105.7L628.5 1094.5L634.5 1105.7Z" fill="#1d6079"/><path d="M634.8 1093.9L640.8 1082.8L646.8 1093.9Z" fill="#1d6079"/><path d="M647.1 1070.7L653.1 1059.5L659.1 1070.7Z" fill="#1d6079"/><path d="M659.4 1025.7L665.4 1014.5L671.4 1025.7Z" fill="#1d6079"/><path d="M671.7 965.1L677.7 954L683.7 965.1Z" fill="#1d6079"/><path d="M684 912.4L690 901.3L696 912.4Z" fill="#1d6079"/><path d="M696.3 865.6L702.3 854.5L708.3 865.6Z" fill="#1d6079"/><path d="M708.5 821.9L714.5 810.8L720.5 821.9Z" fill="#1d6079"/><path d="M720.8 789.4L726.8 778.3L732.8 789.4Z" fill="#1d6079"/><path d="M733.1 758.1L739.1 747L745.1 758.1Z" fill="#1d6079"/><path d="M745.4 728.1L751.4 717L757.4 728.1Z" fill="#1d6079"/><path d="M757.7 709.4L763.7 698.3L769.7 709.4Z" fill="#1d6079"/><path d="M770 695.6L776 684.5L782 695.6Z" fill="#1d6079"/><path d="M782.3 676.4L788.3 665.3L794.3 676.4Z" fill="#1d6079"/><path d="M794.6 662.5L800.6 651.4L806.6 662.5Z" fill="#1d6079"/><path d="M806.8 650.4L812.8 639.3L818.8 650.4Z" fill="#1d6079"/><path d="M819.1 636.8L825.1 625.7L831.1 636.8Z" fill="#1d6079"/><path d="M831.4 629L837.4 617.9L843.4 629Z" fill="#1d6079"/><path d="M843.7 622.1L849.7 611L855.7 622.1Z" fill="#1d6079"/><path d="M856 615.9L862 604.8L868 615.9Z" fill="#1d6079"/><path d="M868.3 611.4L874.3 600.3L880.3 611.4Z" fill="#1d6079"/><path d="M880.6 607.5L886.6 596.4L892.6 607.5Z" fill="#1d6079"/><path d="M892.9 606.2L898.9 595.1L904.9 606.2Z" fill="#1d6079"/><path d="M905.1 604.2L911.1 593.1L917.1 604.2Z" fill="#1d6079"/><path d="M917.4 601.7L923.4 590.6L929.4 601.7Z" fill="#1d6079"/><path d="M929.7 599.7L935.7 588.6L941.7 599.7Z" fill="#1d6079"/><path d="M942 598.8L948 587.7L954 598.8Z" fill="#1d6079"/><path d="M954.3 597.8L960.3 586.7L966.3 597.8Z" fill="#1d6079"/><path d="M966.6 597.2L972.6 586.1L978.6 597.2Z" fill="#1d6079"/><path d="M978.9 596.8L984.9 585.7L990.9 596.8Z" fill="#1d6079"/><path d="M991.1 596.2L997.1 585.1L1003.1 596.2Z" fill="#1d6079"/><path d="M1003.4 595.4L1009.4 584.3L1015.4 595.4Z" fill="#1d6079"/><path d="M1015.7 595.3L1021.7 584.2L1027.7 595.3Z" fill="#1d6079"/><path d="M1028 595.1L1034 584L1040 595.1Z" fill="#1d6079"/><path d="M1040.3 594.9L1046.3 583.8L1052.3 594.9Z" fill="#1d6079"/><path d="M1052.6 594.9L1058.6 583.8L1064.6 594.9Z" fill="#1d6079"/><path d="M1064.9 594.9L1070.9 583.8L1076.9 594.9Z" fill="#1d6079"/><path d="M1077.2 594.9L1083.2 583.8L1089.2 594.9Z" fill="#1d6079"/><path d="M1089.4 594.9L1095.4 583.8L1101.4 594.9Z" fill="#1d6079"/></g>
<g><path d="M614.2 1102.3L621.3 1106.2L614.2 1110.2Z" fill="none" stroke="#f32a35" stroke-width="2.4" stroke-linejoin="miter" stroke-miterlimit="10"/><path d="M626.5 1088.5L633.6 1092.5L626.5 1096.5Z" fill="none" stroke="#f32a35" stroke-width="2.4" stroke-linejoin="miter" stroke-miterlimit="10"/><path d="M638.8 1056L645.9 1060L638.8 1064Z" fill="none" stroke="#f32a35" stroke-width="2.4" stroke-linejoin="miter" stroke-miterlimit="10"/><path d="M651.1 1004.8L658.1 1008.8L651.1 1012.7Z" fill="none" stroke="#f32a35" stroke-width="2.4" stroke-linejoin="miter" stroke-miterlimit="10"/><path d="M663.4 943.5L670.4 947.5L663.4 951.5Z" fill="none" stroke="#f32a35" stroke-width="2.4" stroke-linejoin="miter" stroke-miterlimit="10"/><path d="M675.7 893L682.7 897L675.7 901Z" fill="none" stroke="#f32a35" stroke-width="2.4" stroke-linejoin="miter" stroke-miterlimit="10"/><path d="M688 852.3L695 856.2L688 860.2Z" fill="none" stroke="#f32a35" stroke-width="2.4" stroke-linejoin="miter" stroke-miterlimit="10"/><path d="M700.2 817.3L707.3 821.2L700.2 825.2Z" fill="none" stroke="#f32a35" stroke-width="2.4" stroke-linejoin="miter" stroke-miterlimit="10"/><path d="M712.5 794L719.6 798L712.5 802Z" fill="none" stroke="#f32a35" stroke-width="2.4" stroke-linejoin="miter" stroke-miterlimit="10"/><path d="M724.8 771L731.9 775L724.8 779Z" fill="none" stroke="#f32a35" stroke-width="2.4" stroke-linejoin="miter" stroke-miterlimit="10"/><path d="M737.1 751L744.2 755L737.1 759Z" fill="none" stroke="#f32a35" stroke-width="2.4" stroke-linejoin="miter" stroke-miterlimit="10"/><path d="M749.4 732.3L756.4 736.2L749.4 740.2Z" fill="none" stroke="#f32a35" stroke-width="2.4" stroke-linejoin="miter" stroke-miterlimit="10"/><path d="M761.7 717.3L768.7 721.2L761.7 725.2Z" fill="none" stroke="#f32a35" stroke-width="2.4" stroke-linejoin="miter" stroke-miterlimit="10"/><path d="M774 703.5L781 707.5L774 711.5Z" fill="none" stroke="#f32a35" stroke-width="2.4" stroke-linejoin="miter" stroke-miterlimit="10"/><path d="M786.3 690.3L793.3 694.2L786.3 698.2Z" fill="none" stroke="#f32a35" stroke-width="2.4" stroke-linejoin="miter" stroke-miterlimit="10"/><path d="M798.5 681.5L805.6 685.5L798.5 689.5Z" fill="none" stroke="#f32a35" stroke-width="2.4" stroke-linejoin="miter" stroke-miterlimit="10"/><path d="M810.8 674L817.9 678L810.8 682Z" fill="none" stroke="#f32a35" stroke-width="2.4" stroke-linejoin="miter" stroke-miterlimit="10"/><path d="M823.1 666L830.2 670L823.1 674Z" fill="none" stroke="#f32a35" stroke-width="2.4" stroke-linejoin="miter" stroke-miterlimit="10"/><path d="M835.4 656L842.5 660L835.4 664Z" fill="none" stroke="#f32a35" stroke-width="2.4" stroke-linejoin="miter" stroke-miterlimit="10"/><path d="M847.7 647.5L854.7 651.5L847.7 655.4Z" fill="none" stroke="#f32a35" stroke-width="2.4" stroke-linejoin="miter" stroke-miterlimit="10"/><path d="M860 641.1L867 645L860 649Z" fill="none" stroke="#f32a35" stroke-width="2.4" stroke-linejoin="miter" stroke-miterlimit="10"/><path d="M872.3 633.9L879.3 637.8L872.3 641.8Z" fill="none" stroke="#f32a35" stroke-width="2.4" stroke-linejoin="miter" stroke-miterlimit="10"/><path d="M884.6 626.5L891.6 630.4L884.6 634.4Z" fill="none" stroke="#f32a35" stroke-width="2.4" stroke-linejoin="miter" stroke-miterlimit="10"/><path d="M896.8 620.6L903.9 624.6L896.8 628.5Z" fill="none" stroke="#f32a35" stroke-width="2.4" stroke-linejoin="miter" stroke-miterlimit="10"/><path d="M909.1 617.7L916.2 621.6L909.1 625.6Z" fill="none" stroke="#f32a35" stroke-width="2.4" stroke-linejoin="miter" stroke-miterlimit="10"/><path d="M921.4 614.8L928.5 618.7L921.4 622.7Z" fill="none" stroke="#f32a35" stroke-width="2.4" stroke-linejoin="miter" stroke-miterlimit="10"/><path d="M933.7 612.4L940.7 616.4L933.7 620.3Z" fill="none" stroke="#f32a35" stroke-width="2.4" stroke-linejoin="miter" stroke-miterlimit="10"/><path d="M946 610.5L953 614.4L946 618.4Z" fill="none" stroke="#f32a35" stroke-width="2.4" stroke-linejoin="miter" stroke-miterlimit="10"/><path d="M958.3 608.9L965.3 612.9L958.3 616.8Z" fill="none" stroke="#f32a35" stroke-width="2.4" stroke-linejoin="miter" stroke-miterlimit="10"/><path d="M970.6 607.6L977.6 611.5L970.6 615.5Z" fill="none" stroke="#f32a35" stroke-width="2.4" stroke-linejoin="miter" stroke-miterlimit="10"/><path d="M982.9 607L989.9 610.9L982.9 614.9Z" fill="none" stroke="#f32a35" stroke-width="2.4" stroke-linejoin="miter" stroke-miterlimit="10"/><path d="M995.1 606.6L1002.2 610.5L995.1 614.5Z" fill="none" stroke="#f32a35" stroke-width="2.4" stroke-linejoin="miter" stroke-miterlimit="10"/><path d="M1007.4 606.2L1014.5 610.1L1007.4 614.1Z" fill="none" stroke="#f32a35" stroke-width="2.4" stroke-linejoin="miter" stroke-miterlimit="10"/><path d="M1019.7 606L1026.8 610L1019.7 613.9Z" fill="none" stroke="#f32a35" stroke-width="2.4" stroke-linejoin="miter" stroke-miterlimit="10"/><path d="M1032 605.8L1039 609.8L1032 613.7Z" fill="none" stroke="#f32a35" stroke-width="2.4" stroke-linejoin="miter" stroke-miterlimit="10"/><path d="M1044.3 605.6L1051.3 609.6L1044.3 613.5Z" fill="none" stroke="#f32a35" stroke-width="2.4" stroke-linejoin="miter" stroke-miterlimit="10"/><path d="M1056.6 605.4L1063.6 609.4L1056.6 613.3Z" fill="none" stroke="#f32a35" stroke-width="2.4" stroke-linejoin="miter" stroke-miterlimit="10"/><path d="M1068.9 605.2L1075.9 609.2L1068.9 613.1Z" fill="none" stroke="#f32a35" stroke-width="2.4" stroke-linejoin="miter" stroke-miterlimit="10"/><path d="M1081.1 605L1088.2 609L1081.1 612.9Z" fill="none" stroke="#f32a35" stroke-width="2.4" stroke-linejoin="miter" stroke-miterlimit="10"/><path d="M1093.4 605L1100.5 609L1093.4 612.9Z" fill="none" stroke="#f32a35" stroke-width="2.4" stroke-linejoin="miter" stroke-miterlimit="10"/></g>
<g><circle cx="616.2" cy="1106.2" r="6.2" fill="#7c2a8a"/><circle cx="628.5" cy="1093" r="6.2" fill="#7c2a8a"/><circle cx="640.8" cy="1065" r="6.2" fill="#7c2a8a"/><circle cx="653.1" cy="1018" r="6.2" fill="#7c2a8a"/><circle cx="665.4" cy="964.5" r="6.2" fill="#7c2a8a"/><circle cx="677.7" cy="917" r="6.2" fill="#7c2a8a"/><circle cx="690" cy="880" r="6.2" fill="#7c2a8a"/><circle cx="702.3" cy="848.8" r="6.2" fill="#7c2a8a"/><circle cx="714.5" cy="816.2" r="6.2" fill="#7c2a8a"/><circle cx="726.8" cy="788.8" r="6.2" fill="#7c2a8a"/><circle cx="739.1" cy="765" r="6.2" fill="#7c2a8a"/><circle cx="751.4" cy="744.5" r="6.2" fill="#7c2a8a"/><circle cx="763.7" cy="728.8" r="6.2" fill="#7c2a8a"/><circle cx="776" cy="716.2" r="6.2" fill="#7c2a8a"/><circle cx="788.3" cy="705" r="6.2" fill="#7c2a8a"/><circle cx="800.6" cy="695" r="6.2" fill="#7c2a8a"/><circle cx="812.8" cy="686.5" r="6.2" fill="#7c2a8a"/><circle cx="825.1" cy="679.7" r="6.2" fill="#7c2a8a"/><circle cx="837.4" cy="674.8" r="6.2" fill="#7c2a8a"/><circle cx="849.7" cy="671.3" r="6.2" fill="#7c2a8a"/><circle cx="862" cy="667.4" r="6.2" fill="#7c2a8a"/><circle cx="874.3" cy="664.5" r="6.2" fill="#7c2a8a"/><circle cx="886.6" cy="662" r="6.2" fill="#7c2a8a"/><circle cx="898.9" cy="660" r="6.2" fill="#7c2a8a"/><circle cx="911.1" cy="658.7" r="6.2" fill="#7c2a8a"/><circle cx="923.4" cy="657.3" r="6.2" fill="#7c2a8a"/><circle cx="935.7" cy="656.1" r="6.2" fill="#7c2a8a"/><circle cx="948" cy="655.2" r="6.2" fill="#7c2a8a"/><circle cx="960.3" cy="654.2" r="6.2" fill="#7c2a8a"/><circle cx="972.6" cy="653.2" r="6.2" fill="#7c2a8a"/><circle cx="984.9" cy="652.2" r="6.2" fill="#7c2a8a"/><circle cx="997.1" cy="651.5" r="6.2" fill="#7c2a8a"/><circle cx="1009.4" cy="650.5" r="6.2" fill="#7c2a8a"/><circle cx="1021.7" cy="649.9" r="6.2" fill="#7c2a8a"/><circle cx="1034" cy="649.3" r="6.2" fill="#7c2a8a"/><circle cx="1046.3" cy="648.9" r="6.2" fill="#7c2a8a"/><circle cx="1058.6" cy="648.3" r="6.2" fill="#7c2a8a"/><circle cx="1070.9" cy="648" r="6.2" fill="#7c2a8a"/><circle cx="1083.2" cy="647.6" r="6.2" fill="#7c2a8a"/><circle cx="1095.4" cy="647" r="6.2" fill="#7c2a8a"/></g>
<g><circle cx="616.2" cy="1106.2" r="5" fill="none" stroke="#353535" stroke-width="2.4"/><circle cx="628.5" cy="1091.8" r="5" fill="none" stroke="#353535" stroke-width="2.4"/><circle cx="640.8" cy="1060.5" r="5" fill="none" stroke="#353535" stroke-width="2.4"/><circle cx="653.1" cy="1011.2" r="5" fill="none" stroke="#353535" stroke-width="2.4"/><circle cx="665.4" cy="955.8" r="5" fill="none" stroke="#353535" stroke-width="2.4"/><circle cx="677.7" cy="921.2" r="5" fill="none" stroke="#353535" stroke-width="2.4"/><circle cx="690" cy="880" r="5" fill="none" stroke="#353535" stroke-width="2.4"/><circle cx="702.3" cy="848.2" r="5" fill="none" stroke="#353535" stroke-width="2.4"/><circle cx="714.5" cy="815.8" r="5" fill="none" stroke="#353535" stroke-width="2.4"/><circle cx="726.8" cy="786.2" r="5" fill="none" stroke="#353535" stroke-width="2.4"/><circle cx="739.1" cy="764.5" r="5" fill="none" stroke="#353535" stroke-width="2.4"/><circle cx="751.4" cy="743.8" r="5" fill="none" stroke="#353535" stroke-width="2.4"/><circle cx="763.7" cy="728" r="5" fill="none" stroke="#353535" stroke-width="2.4"/><circle cx="776" cy="715" r="5" fill="none" stroke="#353535" stroke-width="2.4"/><circle cx="788.3" cy="702.5" r="5" fill="none" stroke="#353535" stroke-width="2.4"/><circle cx="800.6" cy="693" r="5" fill="none" stroke="#353535" stroke-width="2.4"/><circle cx="812.8" cy="685" r="5" fill="none" stroke="#353535" stroke-width="2.4"/><circle cx="825.1" cy="679.1" r="5" fill="none" stroke="#353535" stroke-width="2.4"/><circle cx="837.4" cy="671.3" r="5" fill="none" stroke="#353535" stroke-width="2.4"/><circle cx="849.7" cy="663.9" r="5" fill="none" stroke="#353535" stroke-width="2.4"/><circle cx="862" cy="656.7" r="5" fill="none" stroke="#353535" stroke-width="2.4"/><circle cx="874.3" cy="651.5" r="5" fill="none" stroke="#353535" stroke-width="2.4"/><circle cx="886.6" cy="648.3" r="5" fill="none" stroke="#353535" stroke-width="2.4"/><circle cx="898.9" cy="644.6" r="5" fill="none" stroke="#353535" stroke-width="2.4"/><circle cx="911.1" cy="641.1" r="5" fill="none" stroke="#353535" stroke-width="2.4"/><circle cx="923.4" cy="638.8" r="5" fill="none" stroke="#353535" stroke-width="2.4"/><circle cx="935.7" cy="637.2" r="5" fill="none" stroke="#353535" stroke-width="2.4"/><circle cx="948" cy="636.3" r="5" fill="none" stroke="#353535" stroke-width="2.4"/><circle cx="960.3" cy="634.7" r="5" fill="none" stroke="#353535" stroke-width="2.4"/><circle cx="972.6" cy="633.3" r="5" fill="none" stroke="#353535" stroke-width="2.4"/><circle cx="984.9" cy="632" r="5" fill="none" stroke="#353535" stroke-width="2.4"/><circle cx="997.1" cy="630.8" r="5" fill="none" stroke="#353535" stroke-width="2.4"/><circle cx="1009.4" cy="630" r="5" fill="none" stroke="#353535" stroke-width="2.4"/><circle cx="1021.7" cy="629.4" r="5" fill="none" stroke="#353535" stroke-width="2.4"/><circle cx="1034" cy="629" r="5" fill="none" stroke="#353535" stroke-width="2.4"/><circle cx="1046.3" cy="628.9" r="5" fill="none" stroke="#353535" stroke-width="2.4"/><circle cx="1058.6" cy="628.5" r="5" fill="none" stroke="#353535" stroke-width="2.4"/><circle cx="1070.9" cy="628.5" r="5" fill="none" stroke="#353535" stroke-width="2.4"/><circle cx="1083.2" cy="628.1" r="5" fill="none" stroke="#353535" stroke-width="2.4"/><circle cx="1095.4" cy="627.9" r="5" fill="none" stroke="#353535" stroke-width="2.4"/></g>
<g><path d="M620.2 1100L609.2 1106.2L620.2 1112.5Z" fill="#129a4b"/><path d="M632.5 1086.8L621.5 1093L632.5 1099.2Z" fill="#129a4b"/><path d="M644.8 1057.5L633.8 1063.8L644.8 1070Z" fill="#129a4b"/><path d="M657.1 1008.8L646.1 1015L657.1 1021.2Z" fill="#129a4b"/><path d="M669.4 964.5L658.4 970.8L669.4 977Z" fill="#129a4b"/><path d="M681.7 923.8L670.7 930L681.7 936.2Z" fill="#129a4b"/><path d="M694 886.8L683 893L694 899.2Z" fill="#129a4b"/><path d="M706.3 858.2L695.3 864.5L706.3 870.8Z" fill="#129a4b"/><path d="M718.5 835L707.5 841.2L718.5 847.5Z" fill="#129a4b"/><path d="M730.8 811.2L719.8 817.5L730.8 823.8Z" fill="#129a4b"/><path d="M743.1 788.8L732.1 795L743.1 801.2Z" fill="#129a4b"/><path d="M755.4 771.2L744.4 777.5L755.4 783.8Z" fill="#129a4b"/><path d="M767.7 752.5L756.7 758.8L767.7 765Z" fill="#129a4b"/><path d="M780 737L769 743.2L780 749.5Z" fill="#129a4b"/><path d="M792.3 723.8L781.3 730L792.3 736.2Z" fill="#129a4b"/><path d="M804.6 713.8L793.6 720L804.6 726.2Z" fill="#129a4b"/><path d="M816.8 704.1L805.8 710.3L816.8 716.6Z" fill="#129a4b"/><path d="M829.1 692.4L818.1 698.6L829.1 704.9Z" fill="#129a4b"/><path d="M841.4 683.6L830.4 689.9L841.4 696.1Z" fill="#129a4b"/><path d="M853.7 677.2L842.7 683.4L853.7 689.7Z" fill="#129a4b"/><path d="M866 670L855 676.2L866 682.5Z" fill="#129a4b"/><path d="M878.3 664.5L867.3 670.8L878.3 677Z" fill="#129a4b"/><path d="M890.6 658.7L879.6 664.9L890.6 671.2Z" fill="#129a4b"/><path d="M902.9 652.4L891.9 658.7L902.9 664.9Z" fill="#129a4b"/><path d="M915.1 648.5L904.1 654.8L915.1 661Z" fill="#129a4b"/><path d="M927.4 645.2L916.4 651.5L927.4 657.7Z" fill="#129a4b"/><path d="M939.7 643.3L928.7 649.5L939.7 655.8Z" fill="#129a4b"/><path d="M952 641.1L941 647.4L952 653.6Z" fill="#129a4b"/><path d="M964.3 638.8L953.3 645L964.3 651.3Z" fill="#129a4b"/><path d="M976.6 636.4L965.6 642.7L976.6 648.9Z" fill="#129a4b"/><path d="M988.9 634.3L977.9 640.5L988.9 646.8Z" fill="#129a4b"/><path d="M1001.1 632.3L990.1 638.6L1001.1 644.8Z" fill="#129a4b"/><path d="M1013.4 631L1002.4 637.2L1013.4 643.5Z" fill="#129a4b"/><path d="M1025.7 629.6L1014.7 635.9L1025.7 642.1Z" fill="#129a4b"/><path d="M1038 628.5L1027 634.7L1038 641Z" fill="#129a4b"/><path d="M1050.3 627.7L1039.3 633.9L1050.3 640.2Z" fill="#129a4b"/><path d="M1062.6 627.1L1051.6 633.3L1062.6 639.6Z" fill="#129a4b"/><path d="M1074.9 626.5L1063.9 632.8L1074.9 639Z" fill="#129a4b"/><path d="M1087.2 626.1L1076.2 632.4L1087.2 638.6Z" fill="#129a4b"/><path d="M1099.4 625.7L1088.4 632L1099.4 638.2Z" fill="#129a4b"/></g>
<g><path d="M611.9 1100.3H620.6L618 1106.2L620.6 1112.2H611.9L614.5 1106.2Z" fill="#fa981c"/><path d="M624.1 1088.3H632.9L630.2 1094.2L632.9 1100.2H624.1L626.8 1094.2Z" fill="#fa981c"/><path d="M636.4 1062.1H645.2L642.5 1068L645.2 1073.9H636.4L639.1 1068Z" fill="#fa981c"/><path d="M648.7 1016.6H657.5L654.8 1022.5L657.5 1028.4H648.7L651.4 1022.5Z" fill="#fa981c"/><path d="M661 956.6H669.8L667.1 962.5L669.8 968.4H661L663.7 962.5Z" fill="#fa981c"/><path d="M673.3 905.4H682.1L679.4 911.2L682.1 917.1H673.3L676 911.2Z" fill="#fa981c"/><path d="M685.6 855.4H694.4L691.7 861.2L694.4 867.1H685.6L688.3 861.2Z" fill="#fa981c"/><path d="M697.9 817.4H706.7L704 823.2L706.7 829.1H697.9L700.6 823.2Z" fill="#fa981c"/><path d="M710.1 782.9H718.9L716.2 788.8L718.9 794.6H710.1L712.8 788.8Z" fill="#fa981c"/><path d="M722.4 758.6H731.2L728.5 764.5L731.2 770.4H722.4L725.1 764.5Z" fill="#fa981c"/><path d="M734.7 732.9H743.5L740.8 738.8L743.5 744.6H734.7L737.4 738.8Z" fill="#fa981c"/><path d="M747 714.6H755.8L753.1 720.5L755.8 726.4H747L749.7 720.5Z" fill="#fa981c"/><path d="M759.3 699.1H768.1L765.4 705L768.1 710.9H759.3L762 705Z" fill="#fa981c"/><path d="M771.6 684.6H780.4L777.7 690.5L780.4 696.4H771.6L774.3 690.5Z" fill="#fa981c"/><path d="M783.9 676.6H792.7L790 682.5L792.7 688.4H783.9L786.6 682.5Z" fill="#fa981c"/><path d="M796.2 669.1H805L802.3 675L805 680.9H796.2L798.9 675Z" fill="#fa981c"/><path d="M808.4 663.9H817.2L814.5 669.8L817.2 675.7H808.4L811.1 669.8Z" fill="#fa981c"/><path d="M820.7 658.6H829.5L826.8 664.5L829.5 670.4H820.7L823.4 664.5Z" fill="#fa981c"/><path d="M833 656.1H841.8L839.1 662L841.8 667.9H833L835.7 662Z" fill="#fa981c"/><path d="M845.3 652.8H854.1L851.4 658.7L854.1 664.6H845.3L848 658.7Z" fill="#fa981c"/><path d="M857.6 651.4H866.4L863.7 657.3L866.4 663.2H857.6L860.3 657.3Z" fill="#fa981c"/><path d="M869.9 648.9H878.7L876 654.8L878.7 660.7H869.9L872.6 654.8Z" fill="#fa981c"/><path d="M882.2 647.9H891L888.3 653.8L891 659.7H882.2L884.9 653.8Z" fill="#fa981c"/><path d="M894.5 646.5H903.3L900.6 652.4L903.3 658.3H894.5L897.2 652.4Z" fill="#fa981c"/><path d="M906.7 645H915.5L912.8 650.9L915.5 656.8H906.7L909.4 650.9Z" fill="#fa981c"/><path d="M919 644H927.8L925.1 649.9L927.8 655.8H919L921.7 649.9Z" fill="#fa981c"/><path d="M931.3 643H940.1L937.4 648.9L940.1 654.8H931.3L934 648.9Z" fill="#fa981c"/><path d="M943.6 642.1H952.4L949.7 648L952.4 653.9H943.6L946.3 648Z" fill="#fa981c"/><path d="M955.9 641.5H964.7L962 647.4L964.7 653.3H955.9L958.6 647.4Z" fill="#fa981c"/><path d="M968.2 640.7H977L974.3 646.6L977 652.5H968.2L970.9 646.6Z" fill="#fa981c"/><path d="M980.5 640.1H989.3L986.6 646L989.3 651.9H980.5L983.2 646Z" fill="#fa981c"/><path d="M992.7 639.1H1001.5L998.8 645L1001.5 650.9H992.7L995.4 645Z" fill="#fa981c"/><path d="M1005 638.2H1013.8L1011.1 644.1L1013.8 650H1005L1007.7 644.1Z" fill="#fa981c"/><path d="M1017.3 637.8H1026.1L1023.4 643.7L1026.1 649.6H1017.3L1020 643.7Z" fill="#fa981c"/><path d="M1029.6 637.2H1038.4L1035.7 643.1L1038.4 649H1029.6L1032.3 643.1Z" fill="#fa981c"/><path d="M1041.9 636.8H1050.7L1048 642.7L1050.7 648.6H1041.9L1044.6 642.7Z" fill="#fa981c"/><path d="M1054.2 636.6H1063L1060.3 642.5L1063 648.4H1054.2L1056.9 642.5Z" fill="#fa981c"/><path d="M1066.5 636.2H1075.3L1072.6 642.1L1075.3 648H1066.5L1069.2 642.1Z" fill="#fa981c"/><path d="M1078.8 635.8H1087.6L1084.9 641.7L1087.6 647.6H1078.8L1081.5 641.7Z" fill="#fa981c"/><path d="M1091 635.6H1099.8L1097.1 641.5L1099.8 647.4H1091L1093.7 641.5Z" fill="#fa981c"/></g>
</g>
<text x="643" y="639.5" class="ti" font-size="18.6">(e)Ca-HepPh</text>
<path d="M918.9 913.8L925.5 907.2L932.1 913.8L925.5 920.4Z" fill="none" stroke="#3c55b6" stroke-width="2.5"/>
<text x="935.5" y="918.8" class="lgs" font-size="13.1">BC</text>
<path d="M919.1 934.4L925.5 923.7L931.9 934.4Z" fill="#1d6079"/>
<text x="935.5" y="935.3" class="lgs" font-size="13.1">CR</text>
<path d="M922.4 942.6L930.5 946.9L922.4 951.2Z" fill="none" stroke="#f32a35" stroke-width="3" stroke-linejoin="miter" stroke-miterlimit="10"/>
<text x="935.5" y="951.9" class="lgs" font-size="13.1">DC</text>
<circle cx="925.5" cy="963.4" r="6.2" fill="#7c2a8a"/>
<text x="935.5" y="968.4" class="lgs" font-size="13.1">EC</text>
<circle cx="925.5" cy="980" r="5" fill="none" stroke="#353535" stroke-width="2.4"/>
<text x="935.5" y="985" class="lgs" font-size="13.1">FA</text>
<path d="M929.5 990.3L918.5 996.5L929.5 1002.8Z" fill="#129a4b"/>
<text x="935.5" y="1001.5" class="lgs" font-size="13.1">LR</text>
<path d="M921.1 1007.2H929.9L927.2 1013.1L929.9 1019H921.1L923.8 1013.1Z" fill="#fa981c"/>
<text x="935.5" y="1018.1" class="lgs" font-size="13.1">PR</text>
<rect x="1141.8" y="582.2" width="489.5" height="527.3" fill="none" stroke="#0a0a0a" stroke-width="2.6"/>
<path d="M1131.3 629.5H1141.8" stroke="#111" stroke-width="1.9"/>
<text transform="translate(1129.4 637.2) scale(0.93 1)" text-anchor="end" class="ax" font-size="20.8">.10</text>
<path d="M1131.3 724.3H1141.8" stroke="#111" stroke-width="1.9"/>
<text transform="translate(1129.4 732) scale(0.93 1)" text-anchor="end" class="ax" font-size="20.8">.08</text>
<path d="M1131.3 819.2H1141.8" stroke="#111" stroke-width="1.9"/>
<text transform="translate(1129.4 826.9) scale(0.93 1)" text-anchor="end" class="ax" font-size="20.8">.06</text>
<path d="M1131.3 913.9H1141.8" stroke="#111" stroke-width="1.9"/>
<text transform="translate(1129.4 921.6) scale(0.93 1)" text-anchor="end" class="ax" font-size="20.8">.04</text>
<path d="M1131.3 1008.8H1141.8" stroke="#111" stroke-width="1.9"/>
<text transform="translate(1129.4 1016.5) scale(0.93 1)" text-anchor="end" class="ax" font-size="20.8">.02</text>
<path d="M1131.3 1103.7H1141.8" stroke="#111" stroke-width="1.9"/>
<text transform="translate(1129.4 1111.4) scale(0.93 1)" text-anchor="end" class="ax" font-size="20.8">.00</text>
<path d="M1146.2 1109.5V1118.7" stroke="#111" stroke-width="1.9"/>
<text transform="translate(1146.2 1137) scale(0.93 1)" text-anchor="middle" class="ax" font-size="20.8">0</text>
<path d="M1204.4 1109.5V1118.7" stroke="#111" stroke-width="1.9"/>
<text transform="translate(1204.4 1137) scale(0.93 1)" text-anchor="middle" class="ax" font-size="20.8">5</text>
<path d="M1262.5 1109.5V1118.7" stroke="#111" stroke-width="1.9"/>
<text transform="translate(1262.5 1137) scale(0.93 1)" text-anchor="middle" class="ax" font-size="20.8">10</text>
<path d="M1320.6 1109.5V1118.7" stroke="#111" stroke-width="1.9"/>
<text transform="translate(1320.6 1137) scale(0.93 1)" text-anchor="middle" class="ax" font-size="20.8">15</text>
<path d="M1378.8 1109.5V1118.7" stroke="#111" stroke-width="1.9"/>
<text transform="translate(1378.8 1137) scale(0.93 1)" text-anchor="middle" class="ax" font-size="20.8">20</text>
<path d="M1436.9 1109.5V1118.7" stroke="#111" stroke-width="1.9"/>
<text transform="translate(1436.9 1137) scale(0.93 1)" text-anchor="middle" class="ax" font-size="20.8">25</text>
<path d="M1495 1109.5V1118.7" stroke="#111" stroke-width="1.9"/>
<text transform="translate(1495 1137) scale(0.93 1)" text-anchor="middle" class="ax" font-size="20.8">30</text>
<path d="M1553.1 1109.5V1118.7" stroke="#111" stroke-width="1.9"/>
<text transform="translate(1553.1 1137) scale(0.93 1)" text-anchor="middle" class="ax" font-size="20.8">35</text>
<path d="M1611.2 1109.5V1118.7" stroke="#111" stroke-width="1.9"/>
<text transform="translate(1611.2 1137) scale(0.93 1)" text-anchor="middle" class="ax" font-size="20.8">40</text>
<g clip-path="url(#cf)">
<g><path d="M1139.6 1102L1146.2 1095.4L1152.9 1102L1146.2 1108.6Z" fill="none" stroke="#3c55b6" stroke-width="2.5"/><path d="M1151.2 1090L1157.9 1083.4L1164.5 1090L1157.9 1096.6Z" fill="none" stroke="#3c55b6" stroke-width="2.5"/><path d="M1162.9 1071.2L1169.5 1064.6L1176.1 1071.2L1169.5 1077.9Z" fill="none" stroke="#3c55b6" stroke-width="2.5"/><path d="M1174.5 1049.5L1181.1 1042.9L1187.8 1049.5L1181.1 1056.1Z" fill="none" stroke="#3c55b6" stroke-width="2.5"/><path d="M1186.1 1016.2L1192.8 1009.6L1199.4 1016.2L1192.8 1022.9Z" fill="none" stroke="#3c55b6" stroke-width="2.5"/><path d="M1197.7 981.2L1204.4 974.6L1211 981.2L1204.4 987.9Z" fill="none" stroke="#3c55b6" stroke-width="2.5"/><path d="M1209.4 933.2L1216 926.6L1222.6 933.2L1216 939.9Z" fill="none" stroke="#3c55b6" stroke-width="2.5"/><path d="M1221 885.8L1227.6 879.1L1234.3 885.8L1227.6 892.4Z" fill="none" stroke="#3c55b6" stroke-width="2.5"/><path d="M1232.6 846.2L1239.2 839.6L1245.9 846.2L1239.2 852.9Z" fill="none" stroke="#3c55b6" stroke-width="2.5"/><path d="M1244.2 808.8L1250.9 802.1L1257.5 808.8L1250.9 815.4Z" fill="none" stroke="#3c55b6" stroke-width="2.5"/><path d="M1255.9 775.5L1262.5 768.9L1269.1 775.5L1262.5 782.1Z" fill="none" stroke="#3c55b6" stroke-width="2.5"/><path d="M1267.5 749.5L1274.1 742.9L1280.8 749.5L1274.1 756.1Z" fill="none" stroke="#3c55b6" stroke-width="2.5"/><path d="M1279.1 726.2L1285.8 719.6L1292.4 726.2L1285.8 732.9Z" fill="none" stroke="#3c55b6" stroke-width="2.5"/><path d="M1290.7 706.2L1297.4 699.6L1304 706.2L1297.4 712.9Z" fill="none" stroke="#3c55b6" stroke-width="2.5"/><path d="M1302.4 688.2L1309 681.6L1315.6 688.2L1309 694.9Z" fill="none" stroke="#3c55b6" stroke-width="2.5"/><path d="M1314 674.5L1320.6 667.9L1327.3 674.5L1320.6 681.1Z" fill="none" stroke="#3c55b6" stroke-width="2.5"/><path d="M1325.6 663.8L1332.2 657.1L1338.9 663.8L1332.2 670.4Z" fill="none" stroke="#3c55b6" stroke-width="2.5"/><path d="M1337.2 655L1343.9 648.4L1350.5 655L1343.9 661.6Z" fill="none" stroke="#3c55b6" stroke-width="2.5"/><path d="M1348.9 648L1355.5 641.4L1362.1 648L1355.5 654.6Z" fill="none" stroke="#3c55b6" stroke-width="2.5"/><path d="M1360.5 643L1367.1 636.4L1373.8 643L1367.1 649.6Z" fill="none" stroke="#3c55b6" stroke-width="2.5"/><path d="M1372.1 638.8L1378.8 632.1L1385.4 638.8L1378.8 645.4Z" fill="none" stroke="#3c55b6" stroke-width="2.5"/><path d="M1383.7 635.5L1390.4 628.9L1397 635.5L1390.4 642.1Z" fill="none" stroke="#3c55b6" stroke-width="2.5"/><path d="M1395.4 632.5L1402 625.9L1408.6 632.5L1402 639.1Z" fill="none" stroke="#3c55b6" stroke-width="2.5"/><path d="M1407 630L1413.6 623.4L1420.3 630L1413.6 636.6Z" fill="none" stroke="#3c55b6" stroke-width="2.5"/><path d="M1418.6 627.5L1425.2 620.9L1431.9 627.5L1425.2 634.1Z" fill="none" stroke="#3c55b6" stroke-width="2.5"/><path d="M1430.2 625.5L1436.9 618.9L1443.5 625.5L1436.9 632.1Z" fill="none" stroke="#3c55b6" stroke-width="2.5"/><path d="M1441.9 623.8L1448.5 617.1L1455.1 623.8L1448.5 630.4Z" fill="none" stroke="#3c55b6" stroke-width="2.5"/><path d="M1453.5 622.5L1460.1 615.9L1466.8 622.5L1460.1 629.1Z" fill="none" stroke="#3c55b6" stroke-width="2.5"/><path d="M1465.1 621.2L1471.8 614.6L1478.4 621.2L1471.8 627.9Z" fill="none" stroke="#3c55b6" stroke-width="2.5"/><path d="M1476.7 620.8L1483.4 614.1L1490 620.8L1483.4 627.4Z" fill="none" stroke="#3c55b6" stroke-width="2.5"/><path d="M1488.4 620L1495 613.4L1501.6 620L1495 626.6Z" fill="none" stroke="#3c55b6" stroke-width="2.5"/><path d="M1500 619.5L1506.6 612.9L1513.3 619.5L1506.6 626.1Z" fill="none" stroke="#3c55b6" stroke-width="2.5"/><path d="M1511.6 619L1518.2 612.4L1524.9 619L1518.2 625.6Z" fill="none" stroke="#3c55b6" stroke-width="2.5"/><path d="M1523.2 618.5L1529.9 611.9L1536.5 618.5L1529.9 625.1Z" fill="none" stroke="#3c55b6" stroke-width="2.5"/><path d="M1534.9 618L1541.5 611.4L1548.1 618L1541.5 624.6Z" fill="none" stroke="#3c55b6" stroke-width="2.5"/><path d="M1546.5 618L1553.1 611.3L1559.8 618L1553.1 624.6Z" fill="none" stroke="#3c55b6" stroke-width="2.5"/><path d="M1558.1 617.9L1564.8 611.3L1571.4 617.9L1564.8 624.5Z" fill="none" stroke="#3c55b6" stroke-width="2.5"/><path d="M1569.7 617.9L1576.4 611.2L1583 617.9L1576.4 624.5Z" fill="none" stroke="#3c55b6" stroke-width="2.5"/><path d="M1581.4 617.8L1588 611.2L1594.6 617.8L1588 624.5Z" fill="none" stroke="#3c55b6" stroke-width="2.5"/><path d="M1593 617.8L1599.6 611.2L1606.3 617.8L1599.6 624.4Z" fill="none" stroke="#3c55b6" stroke-width="2.5"/><path d="M1604.6 617.7L1611.2 611.1L1617.9 617.7L1611.2 624.4Z" fill="none" stroke="#3c55b6" stroke-width="2.5"/><path d="M1616.2 617.7L1622.9 611.1L1629.5 617.7L1622.9 624.3Z" fill="none" stroke="#3c55b6" stroke-width="2.5"/></g>
<g><path d="M1140.2 1106.9L1146.2 1095.8L1152.2 1106.9Z" fill="#1d6079"/><path d="M1151.9 1091.9L1157.9 1080.8L1163.9 1091.9Z" fill="#1d6079"/><path d="M1163.5 1071.4L1169.5 1060.3L1175.5 1071.4Z" fill="#1d6079"/><path d="M1175.1 1045.7L1181.1 1034.5L1187.1 1045.7Z" fill="#1d6079"/><path d="M1186.8 1011.4L1192.8 1000.3L1198.8 1011.4Z" fill="#1d6079"/><path d="M1198.4 967.6L1204.4 956.5L1210.4 967.6Z" fill="#1d6079"/><path d="M1210 918.1L1216 907L1222 918.1Z" fill="#1d6079"/><path d="M1221.6 868.6L1227.6 857.5L1233.6 868.6Z" fill="#1d6079"/><path d="M1233.2 821.9L1239.2 810.8L1245.2 821.9Z" fill="#1d6079"/><path d="M1244.9 785.6L1250.9 774.5L1256.9 785.6Z" fill="#1d6079"/><path d="M1256.5 756.9L1262.5 745.8L1268.5 756.9Z" fill="#1d6079"/><path d="M1268.1 728.1L1274.1 717L1280.1 728.1Z" fill="#1d6079"/><path d="M1279.8 704.4L1285.8 693.3L1291.8 704.4Z" fill="#1d6079"/><path d="M1291.4 684.4L1297.4 673.3L1303.4 684.4Z" fill="#1d6079"/><path d="M1303 668.1L1309 657L1315 668.1Z" fill="#1d6079"/><path d="M1314.6 655.6L1320.6 644.5L1326.6 655.6Z" fill="#1d6079"/><path d="M1326.2 644.4L1332.2 633.3L1338.2 644.4Z" fill="#1d6079"/><path d="M1337.9 634.4L1343.9 623.3L1349.9 634.4Z" fill="#1d6079"/><path d="M1349.5 627.4L1355.5 616.3L1361.5 627.4Z" fill="#1d6079"/><path d="M1361.1 620.6L1367.1 609.5L1373.1 620.6Z" fill="#1d6079"/><path d="M1372.8 616.9L1378.8 605.8L1384.8 616.9Z" fill="#1d6079"/><path d="M1384.4 613.9L1390.4 602.8L1396.4 613.9Z" fill="#1d6079"/><path d="M1396 611.9L1402 600.8L1408 611.9Z" fill="#1d6079"/><path d="M1407.6 610.6L1413.6 599.5L1419.6 610.6Z" fill="#1d6079"/><path d="M1419.2 609.4L1425.2 598.3L1431.2 609.4Z" fill="#1d6079"/><path d="M1430.9 608.9L1436.9 597.8L1442.9 608.9Z" fill="#1d6079"/><path d="M1442.5 608.1L1448.5 597L1454.5 608.1Z" fill="#1d6079"/><path d="M1454.1 607.4L1460.1 596.3L1466.1 607.4Z" fill="#1d6079"/><path d="M1465.8 606.9L1471.8 595.8L1477.8 606.9Z" fill="#1d6079"/><path d="M1477.4 606.4L1483.4 595.3L1489.4 606.4Z" fill="#1d6079"/><path d="M1489 606.1L1495 595L1501 606.1Z" fill="#1d6079"/><path d="M1500.6 606L1506.6 594.9L1512.6 606Z" fill="#1d6079"/><path d="M1512.2 605.9L1518.2 594.8L1524.2 605.9Z" fill="#1d6079"/><path d="M1523.9 605.8L1529.9 594.7L1535.9 605.8Z" fill="#1d6079"/><path d="M1535.5 605.7L1541.5 594.6L1547.5 605.7Z" fill="#1d6079"/><path d="M1547.1 605.7L1553.1 594.6L1559.1 605.7Z" fill="#1d6079"/><path d="M1558.8 605.7L1564.8 594.6L1570.8 605.7Z" fill="#1d6079"/><path d="M1570.4 605.7L1576.4 594.6L1582.4 605.7Z" fill="#1d6079"/><path d="M1582 605.6L1588 594.5L1594 605.6Z" fill="#1d6079"/><path d="M1593.6 605.6L1599.6 594.5L1605.6 605.6Z" fill="#1d6079"/><path d="M1605.2 605.6L1611.2 594.5L1617.2 605.6Z" fill="#1d6079"/><path d="M1616.9 605.6L1622.9 594.5L1628.9 605.6Z" fill="#1d6079"/></g>
<g><path d="M1144.2 1098.5L1151.3 1102.5L1144.2 1106.5Z" fill="none" stroke="#f32a35" stroke-width="2.4" stroke-linejoin="miter" stroke-miterlimit="10"/><path d="M1155.9 1088.5L1162.9 1092.5L1155.9 1096.5Z" fill="none" stroke="#f32a35" stroke-width="2.4" stroke-linejoin="miter" stroke-miterlimit="10"/><path d="M1167.5 1074L1174.5 1078L1167.5 1082Z" fill="none" stroke="#f32a35" stroke-width="2.4" stroke-linejoin="miter" stroke-miterlimit="10"/><path d="M1179.1 1055.5L1186.2 1059.5L1179.1 1063.5Z" fill="none" stroke="#f32a35" stroke-width="2.4" stroke-linejoin="miter" stroke-miterlimit="10"/><path d="M1190.7 1029.8L1197.8 1033.8L1190.7 1037.7Z" fill="none" stroke="#f32a35" stroke-width="2.4" stroke-linejoin="miter" stroke-miterlimit="10"/><path d="M1202.4 996.5L1209.4 1000.5L1202.4 1004.5Z" fill="none" stroke="#f32a35" stroke-width="2.4" stroke-linejoin="miter" stroke-miterlimit="10"/><path d="M1214 951L1221 955L1214 959Z" fill="none" stroke="#f32a35" stroke-width="2.4" stroke-linejoin="miter" stroke-miterlimit="10"/><path d="M1225.6 901.8L1232.7 905.8L1225.6 909.7Z" fill="none" stroke="#f32a35" stroke-width="2.4" stroke-linejoin="miter" stroke-miterlimit="10"/><path d="M1237.2 859L1244.3 863L1237.2 867Z" fill="none" stroke="#f32a35" stroke-width="2.4" stroke-linejoin="miter" stroke-miterlimit="10"/><path d="M1248.9 821L1255.9 825L1248.9 829Z" fill="none" stroke="#f32a35" stroke-width="2.4" stroke-linejoin="miter" stroke-miterlimit="10"/><path d="M1260.5 789.8L1267.5 793.8L1260.5 797.7Z" fill="none" stroke="#f32a35" stroke-width="2.4" stroke-linejoin="miter" stroke-miterlimit="10"/><path d="M1272.1 763L1279.2 767L1272.1 771Z" fill="none" stroke="#f32a35" stroke-width="2.4" stroke-linejoin="miter" stroke-miterlimit="10"/><path d="M1283.7 741L1290.8 745L1283.7 749Z" fill="none" stroke="#f32a35" stroke-width="2.4" stroke-linejoin="miter" stroke-miterlimit="10"/><path d="M1295.4 719.8L1302.4 723.8L1295.4 727.7Z" fill="none" stroke="#f32a35" stroke-width="2.4" stroke-linejoin="miter" stroke-miterlimit="10"/><path d="M1307 704.8L1314 708.8L1307 712.7Z" fill="none" stroke="#f32a35" stroke-width="2.4" stroke-linejoin="miter" stroke-miterlimit="10"/><path d="M1318.6 693.5L1325.7 697.5L1318.6 701.5Z" fill="none" stroke="#f32a35" stroke-width="2.4" stroke-linejoin="miter" stroke-miterlimit="10"/><path d="M1330.2 688.5L1337.3 692.5L1330.2 696.5Z" fill="none" stroke="#f32a35" stroke-width="2.4" stroke-linejoin="miter" stroke-miterlimit="10"/><path d="M1341.9 682.3L1348.9 686.2L1341.9 690.2Z" fill="none" stroke="#f32a35" stroke-width="2.4" stroke-linejoin="miter" stroke-miterlimit="10"/><path d="M1353.5 676L1360.5 680L1353.5 684Z" fill="none" stroke="#f32a35" stroke-width="2.4" stroke-linejoin="miter" stroke-miterlimit="10"/><path d="M1365.1 671L1372.2 675L1365.1 679Z" fill="none" stroke="#f32a35" stroke-width="2.4" stroke-linejoin="miter" stroke-miterlimit="10"/><path d="M1376.7 667.3L1383.8 671.2L1376.7 675.2Z" fill="none" stroke="#f32a35" stroke-width="2.4" stroke-linejoin="miter" stroke-miterlimit="10"/><path d="M1388.4 664.3L1395.4 668.2L1388.4 672.2Z" fill="none" stroke="#f32a35" stroke-width="2.4" stroke-linejoin="miter" stroke-miterlimit="10"/><path d="M1400 662.3L1407 666.2L1400 670.2Z" fill="none" stroke="#f32a35" stroke-width="2.4" stroke-linejoin="miter" stroke-miterlimit="10"/><path d="M1411.6 660.5L1418.7 664.5L1411.6 668.5Z" fill="none" stroke="#f32a35" stroke-width="2.4" stroke-linejoin="miter" stroke-miterlimit="10"/><path d="M1423.2 659L1430.3 663L1423.2 667Z" fill="none" stroke="#f32a35" stroke-width="2.4" stroke-linejoin="miter" stroke-miterlimit="10"/><path d="M1434.9 658L1441.9 662L1434.9 666Z" fill="none" stroke="#f32a35" stroke-width="2.4" stroke-linejoin="miter" stroke-miterlimit="10"/><path d="M1446.5 656.5L1453.5 660.5L1446.5 664.5Z" fill="none" stroke="#f32a35" stroke-width="2.4" stroke-linejoin="miter" stroke-miterlimit="10"/><path d="M1458.1 654.8L1465.2 658.8L1458.1 662.7Z" fill="none" stroke="#f32a35" stroke-width="2.4" stroke-linejoin="miter" stroke-miterlimit="10"/><path d="M1469.7 653.5L1476.8 657.5L1469.7 661.5Z" fill="none" stroke="#f32a35" stroke-width="2.4" stroke-linejoin="miter" stroke-miterlimit="10"/><path d="M1481.4 652.3L1488.4 656.2L1481.4 660.2Z" fill="none" stroke="#f32a35" stroke-width="2.4" stroke-linejoin="miter" stroke-miterlimit="10"/><path d="M1493 651.8L1500 655.8L1493 659.7Z" fill="none" stroke="#f32a35" stroke-width="2.4" stroke-linejoin="miter" stroke-miterlimit="10"/><path d="M1504.6 651.3L1511.7 655.3L1504.6 659.3Z" fill="none" stroke="#f32a35" stroke-width="2.4" stroke-linejoin="miter" stroke-miterlimit="10"/><path d="M1516.2 650.9L1523.3 654.9L1516.2 658.8Z" fill="none" stroke="#f32a35" stroke-width="2.4" stroke-linejoin="miter" stroke-miterlimit="10"/><path d="M1527.9 650.4L1534.9 654.4L1527.9 658.4Z" fill="none" stroke="#f32a35" stroke-width="2.4" stroke-linejoin="miter" stroke-miterlimit="10"/><path d="M1539.5 650L1546.5 654L1539.5 657.9Z" fill="none" stroke="#f32a35" stroke-width="2.4" stroke-linejoin="miter" stroke-miterlimit="10"/><path d="M1551.1 649.5L1558.2 653.5L1551.1 657.5Z" fill="none" stroke="#f32a35" stroke-width="2.4" stroke-linejoin="miter" stroke-miterlimit="10"/><path d="M1562.7 649.4L1569.8 653.4L1562.7 657.3Z" fill="none" stroke="#f32a35" stroke-width="2.4" stroke-linejoin="miter" stroke-miterlimit="10"/><path d="M1574.4 649.3L1581.4 653.3L1574.4 657.2Z" fill="none" stroke="#f32a35" stroke-width="2.4" stroke-linejoin="miter" stroke-miterlimit="10"/><path d="M1586 649.2L1593 653.1L1586 657.1Z" fill="none" stroke="#f32a35" stroke-width="2.4" stroke-linejoin="miter" stroke-miterlimit="10"/><path d="M1597.6 649.1L1604.7 653L1597.6 657Z" fill="none" stroke="#f32a35" stroke-width="2.4" stroke-linejoin="miter" stroke-miterlimit="10"/><path d="M1609.2 649L1616.3 652.9L1609.2 656.9Z" fill="none" stroke="#f32a35" stroke-width="2.4" stroke-linejoin="miter" stroke-miterlimit="10"/><path d="M1620.9 648.8L1627.9 652.8L1620.9 656.8Z" fill="none" stroke="#f32a35" stroke-width="2.4" stroke-linejoin="miter" stroke-miterlimit="10"/></g>
<g><circle cx="1146.2" cy="1102.5" r="6.2" fill="#7c2a8a"/><circle cx="1157.9" cy="1091.2" r="6.2" fill="#7c2a8a"/><circle cx="1169.5" cy="1076.2" r="6.2" fill="#7c2a8a"/><circle cx="1181.1" cy="1056.8" r="6.2" fill="#7c2a8a"/><circle cx="1192.8" cy="1029.2" r="6.2" fill="#7c2a8a"/><circle cx="1204.4" cy="988.2" r="6.2" fill="#7c2a8a"/><circle cx="1216" cy="943" r="6.2" fill="#7c2a8a"/><circle cx="1227.6" cy="896.8" r="6.2" fill="#7c2a8a"/><circle cx="1239.2" cy="854.2" r="6.2" fill="#7c2a8a"/><circle cx="1250.9" cy="818.8" r="6.2" fill="#7c2a8a"/><circle cx="1262.5" cy="786.2" r="6.2" fill="#7c2a8a"/><circle cx="1274.1" cy="751.2" r="6.2" fill="#7c2a8a"/><circle cx="1285.8" cy="724.5" r="6.2" fill="#7c2a8a"/><circle cx="1297.4" cy="700" r="6.2" fill="#7c2a8a"/><circle cx="1309" cy="678.8" r="6.2" fill="#7c2a8a"/><circle cx="1320.6" cy="662.5" r="6.2" fill="#7c2a8a"/><circle cx="1332.2" cy="650" r="6.2" fill="#7c2a8a"/><circle cx="1343.9" cy="641.2" r="6.2" fill="#7c2a8a"/><circle cx="1355.5" cy="635.5" r="6.2" fill="#7c2a8a"/><circle cx="1367.1" cy="630" r="6.2" fill="#7c2a8a"/><circle cx="1378.8" cy="623.8" r="6.2" fill="#7c2a8a"/><circle cx="1390.4" cy="620" r="6.2" fill="#7c2a8a"/><circle cx="1402" cy="615.5" r="6.2" fill="#7c2a8a"/><circle cx="1413.6" cy="613.8" r="6.2" fill="#7c2a8a"/><circle cx="1425.2" cy="612" r="6.2" fill="#7c2a8a"/><circle cx="1436.9" cy="610.8" r="6.2" fill="#7c2a8a"/><circle cx="1448.5" cy="610" r="6.2" fill="#7c2a8a"/><circle cx="1460.1" cy="609.5" r="6.2" fill="#7c2a8a"/><circle cx="1471.8" cy="609" r="6.2" fill="#7c2a8a"/><circle cx="1483.4" cy="608.8" r="6.2" fill="#7c2a8a"/><circle cx="1495" cy="608.2" r="6.2" fill="#7c2a8a"/><circle cx="1506.6" cy="607.9" r="6.2" fill="#7c2a8a"/><circle cx="1518.2" cy="607.5" r="6.2" fill="#7c2a8a"/><circle cx="1529.9" cy="607.2" r="6.2" fill="#7c2a8a"/><circle cx="1541.5" cy="606.8" r="6.2" fill="#7c2a8a"/><circle cx="1553.1" cy="606.8" r="6.2" fill="#7c2a8a"/><circle cx="1564.8" cy="606.7" r="6.2" fill="#7c2a8a"/><circle cx="1576.4" cy="606.7" r="6.2" fill="#7c2a8a"/><circle cx="1588" cy="606.7" r="6.2" fill="#7c2a8a"/><circle cx="1599.6" cy="606.7" r="6.2" fill="#7c2a8a"/><circle cx="1611.2" cy="606.6" r="6.2" fill="#7c2a8a"/><circle cx="1622.9" cy="606.6" r="6.2" fill="#7c2a8a"/></g>
<g><circle cx="1146.2" cy="1102.5" r="5" fill="none" stroke="#353535" stroke-width="2.4"/><circle cx="1157.9" cy="1097.5" r="5" fill="none" stroke="#353535" stroke-width="2.4"/><circle cx="1169.5" cy="1091.2" r="5" fill="none" stroke="#353535" stroke-width="2.4"/><circle cx="1181.1" cy="1079.2" r="5" fill="none" stroke="#353535" stroke-width="2.4"/><circle cx="1192.8" cy="1061.8" r="5" fill="none" stroke="#353535" stroke-width="2.4"/><circle cx="1204.4" cy="1032.5" r="5" fill="none" stroke="#353535" stroke-width="2.4"/><circle cx="1216" cy="998" r="5" fill="none" stroke="#353535" stroke-width="2.4"/><circle cx="1227.6" cy="948.2" r="5" fill="none" stroke="#353535" stroke-width="2.4"/><circle cx="1239.2" cy="901.8" r="5" fill="none" stroke="#353535" stroke-width="2.4"/><circle cx="1250.9" cy="858.8" r="5" fill="none" stroke="#353535" stroke-width="2.4"/><circle cx="1262.5" cy="820.5" r="5" fill="none" stroke="#353535" stroke-width="2.4"/><circle cx="1274.1" cy="790.5" r="5" fill="none" stroke="#353535" stroke-width="2.4"/><circle cx="1285.8" cy="760.8" r="5" fill="none" stroke="#353535" stroke-width="2.4"/><circle cx="1297.4" cy="738.8" r="5" fill="none" stroke="#353535" stroke-width="2.4"/><circle cx="1309" cy="721.2" r="5" fill="none" stroke="#353535" stroke-width="2.4"/><circle cx="1320.6" cy="705" r="5" fill="none" stroke="#353535" stroke-width="2.4"/><circle cx="1332.2" cy="692.5" r="5" fill="none" stroke="#353535" stroke-width="2.4"/><circle cx="1343.9" cy="680" r="5" fill="none" stroke="#353535" stroke-width="2.4"/><circle cx="1355.5" cy="672" r="5" fill="none" stroke="#353535" stroke-width="2.4"/><circle cx="1367.1" cy="663.8" r="5" fill="none" stroke="#353535" stroke-width="2.4"/><circle cx="1378.8" cy="657.5" r="5" fill="none" stroke="#353535" stroke-width="2.4"/><circle cx="1390.4" cy="652.5" r="5" fill="none" stroke="#353535" stroke-width="2.4"/><circle cx="1402" cy="648.8" r="5" fill="none" stroke="#353535" stroke-width="2.4"/><circle cx="1413.6" cy="645" r="5" fill="none" stroke="#353535" stroke-width="2.4"/><circle cx="1425.2" cy="642.5" r="5" fill="none" stroke="#353535" stroke-width="2.4"/><circle cx="1436.9" cy="640.8" r="5" fill="none" stroke="#353535" stroke-width="2.4"/><circle cx="1448.5" cy="639.2" r="5" fill="none" stroke="#353535" stroke-width="2.4"/><circle cx="1460.1" cy="638.2" r="5" fill="none" stroke="#353535" stroke-width="2.4"/><circle cx="1471.8" cy="637.5" r="5" fill="none" stroke="#353535" stroke-width="2.4"/><circle cx="1483.4" cy="637.5" r="5" fill="none" stroke="#353535" stroke-width="2.4"/><circle cx="1495" cy="637" r="5" fill="none" stroke="#353535" stroke-width="2.4"/><circle cx="1506.6" cy="637" r="5" fill="none" stroke="#353535" stroke-width="2.4"/><circle cx="1518.2" cy="637.1" r="5" fill="none" stroke="#353535" stroke-width="2.4"/><circle cx="1529.9" cy="637.2" r="5" fill="none" stroke="#353535" stroke-width="2.4"/><circle cx="1541.5" cy="637.2" r="5" fill="none" stroke="#353535" stroke-width="2.4"/><circle cx="1553.1" cy="637.2" r="5" fill="none" stroke="#353535" stroke-width="2.4"/><circle cx="1564.8" cy="637.2" r="5" fill="none" stroke="#353535" stroke-width="2.4"/><circle cx="1576.4" cy="637.2" r="5" fill="none" stroke="#353535" stroke-width="2.4"/><circle cx="1588" cy="637.2" r="5" fill="none" stroke="#353535" stroke-width="2.4"/><circle cx="1599.6" cy="637.2" r="5" fill="none" stroke="#353535" stroke-width="2.4"/><circle cx="1611.2" cy="637.2" r="5" fill="none" stroke="#353535" stroke-width="2.4"/><circle cx="1622.9" cy="637.2" r="5" fill="none" stroke="#353535" stroke-width="2.4"/></g>
<g><path d="M1150.2 1096.2L1139.2 1102.5L1150.2 1108.8Z" fill="#129a4b"/><path d="M1161.9 1084.2L1150.9 1090.5L1161.9 1096.8Z" fill="#129a4b"/><path d="M1173.5 1070.8L1162.5 1077L1173.5 1083.2Z" fill="#129a4b"/><path d="M1185.1 1051.8L1174.1 1058L1185.1 1064.2Z" fill="#129a4b"/><path d="M1196.8 1022.5L1185.8 1028.8L1196.8 1035Z" fill="#129a4b"/><path d="M1208.4 986.2L1197.4 992.5L1208.4 998.8Z" fill="#129a4b"/><path d="M1220 940.8L1209 947L1220 953.2Z" fill="#129a4b"/><path d="M1231.6 894.2L1220.6 900.5L1231.6 906.8Z" fill="#129a4b"/><path d="M1243.2 844.5L1232.2 850.8L1243.2 857Z" fill="#129a4b"/><path d="M1254.9 803L1243.9 809.2L1254.9 815.5Z" fill="#129a4b"/><path d="M1266.5 766.2L1255.5 772.5L1266.5 778.8Z" fill="#129a4b"/><path d="M1278.1 738L1267.1 744.2L1278.1 750.5Z" fill="#129a4b"/><path d="M1289.8 713L1278.8 719.2L1289.8 725.5Z" fill="#129a4b"/><path d="M1301.4 691.8L1290.4 698L1301.4 704.2Z" fill="#129a4b"/><path d="M1313 673.8L1302 680L1313 686.2Z" fill="#129a4b"/><path d="M1324.6 659.5L1313.6 665.8L1324.6 672Z" fill="#129a4b"/><path d="M1336.2 645.5L1325.2 651.8L1336.2 658Z" fill="#129a4b"/><path d="M1347.9 637.5L1336.9 643.8L1347.9 650Z" fill="#129a4b"/><path d="M1359.5 633.2L1348.5 639.5L1359.5 645.8Z" fill="#129a4b"/><path d="M1371.1 629.2L1360.1 635.5L1371.1 641.8Z" fill="#129a4b"/><path d="M1382.8 625.8L1371.8 632L1382.8 638.2Z" fill="#129a4b"/><path d="M1394.4 622.5L1383.4 628.8L1394.4 635Z" fill="#129a4b"/><path d="M1406 620L1395 626.2L1406 632.5Z" fill="#129a4b"/><path d="M1417.6 618.2L1406.6 624.5L1417.6 630.8Z" fill="#129a4b"/><path d="M1429.2 617L1418.2 623.2L1429.2 629.5Z" fill="#129a4b"/><path d="M1440.9 616.2L1429.9 622.5L1440.9 628.8Z" fill="#129a4b"/><path d="M1452.5 615.8L1441.5 622L1452.5 628.2Z" fill="#129a4b"/><path d="M1464.1 615L1453.1 621.2L1464.1 627.5Z" fill="#129a4b"/><path d="M1475.8 614.5L1464.8 620.8L1475.8 627Z" fill="#129a4b"/><path d="M1487.4 614.2L1476.4 620.5L1487.4 626.8Z" fill="#129a4b"/><path d="M1499 613.8L1488 620L1499 626.2Z" fill="#129a4b"/><path d="M1510.6 613.5L1499.6 619.8L1510.6 626Z" fill="#129a4b"/><path d="M1522.2 613.2L1511.2 619.5L1522.2 625.8Z" fill="#129a4b"/><path d="M1533.9 613L1522.9 619.2L1533.9 625.5Z" fill="#129a4b"/><path d="M1545.5 612.8L1534.5 619L1545.5 625.2Z" fill="#129a4b"/><path d="M1557.1 612.7L1546.1 619L1557.1 625.2Z" fill="#129a4b"/><path d="M1568.8 612.7L1557.8 618.9L1568.8 625.2Z" fill="#129a4b"/><path d="M1580.4 612.7L1569.4 618.9L1580.4 625.2Z" fill="#129a4b"/><path d="M1592 612.6L1581 618.9L1592 625.1Z" fill="#129a4b"/><path d="M1603.6 612.6L1592.6 618.9L1603.6 625.1Z" fill="#129a4b"/><path d="M1615.2 612.6L1604.2 618.8L1615.2 625.1Z" fill="#129a4b"/><path d="M1626.9 612.5L1615.9 618.8L1626.9 625Z" fill="#129a4b"/></g>
<g><path d="M1141.8 1096.6H1150.7L1148 1102.5L1150.7 1108.4H1141.8L1144.5 1102.5Z" fill="#fa981c"/><path d="M1153.5 1083.6H1162.3L1159.6 1089.5L1162.3 1095.4H1153.5L1156.2 1089.5Z" fill="#fa981c"/><path d="M1165.1 1072.1H1173.9L1171.2 1078L1173.9 1083.9H1165.1L1167.8 1078Z" fill="#fa981c"/><path d="M1176.7 1053.6H1185.5L1182.8 1059.5L1185.5 1065.4H1176.7L1179.4 1059.5Z" fill="#fa981c"/><path d="M1188.3 1029.6H1197.2L1194.5 1035.5L1197.2 1041.4H1188.3L1191 1035.5Z" fill="#fa981c"/><path d="M1200 997.1H1208.8L1206.1 1003L1208.8 1008.9H1200L1202.7 1003Z" fill="#fa981c"/><path d="M1211.6 961.1H1220.4L1217.7 967L1220.4 972.9H1211.6L1214.3 967Z" fill="#fa981c"/><path d="M1223.2 921.6H1232L1229.3 927.5L1232 933.4H1223.2L1225.9 927.5Z" fill="#fa981c"/><path d="M1234.8 880.4H1243.7L1241 886.2L1243.7 892.1H1234.8L1237.5 886.2Z" fill="#fa981c"/><path d="M1246.5 842.9H1255.3L1252.6 848.8L1255.3 854.6H1246.5L1249.2 848.8Z" fill="#fa981c"/><path d="M1258.1 807.1H1266.9L1264.2 813L1266.9 818.9H1258.1L1260.8 813Z" fill="#fa981c"/><path d="M1269.7 775.4H1278.5L1275.8 781.2L1278.5 787.1H1269.7L1272.4 781.2Z" fill="#fa981c"/><path d="M1281.3 750.4H1290.2L1287.5 756.2L1290.2 762.1H1281.3L1284 756.2Z" fill="#fa981c"/><path d="M1293 727.9H1301.8L1299.1 733.8L1301.8 739.6H1293L1295.7 733.8Z" fill="#fa981c"/><path d="M1304.6 707.9H1313.4L1310.7 713.8L1313.4 719.6H1304.6L1307.3 713.8Z" fill="#fa981c"/><path d="M1316.2 693.6H1325L1322.3 699.5L1325 705.4H1316.2L1318.9 699.5Z" fill="#fa981c"/><path d="M1327.8 681.6H1336.7L1334 687.5L1336.7 693.4H1327.8L1330.5 687.5Z" fill="#fa981c"/><path d="M1339.5 671.1H1348.3L1345.6 677L1348.3 682.9H1339.5L1342.2 677Z" fill="#fa981c"/><path d="M1351.1 662.1H1359.9L1357.2 668L1359.9 673.9H1351.1L1353.8 668Z" fill="#fa981c"/><path d="M1362.7 654.1H1371.5L1368.8 660L1371.5 665.9H1362.7L1365.4 660Z" fill="#fa981c"/><path d="M1374.3 647.9H1383.2L1380.5 653.8L1383.2 659.6H1374.3L1377 653.8Z" fill="#fa981c"/><path d="M1386 642.4H1394.8L1392.1 648.2L1394.8 654.1H1386L1388.7 648.2Z" fill="#fa981c"/><path d="M1397.6 638.6H1406.4L1403.7 644.5L1406.4 650.4H1397.6L1400.3 644.5Z" fill="#fa981c"/><path d="M1409.2 635.4H1418L1415.3 641.2L1418 647.1H1409.2L1411.9 641.2Z" fill="#fa981c"/><path d="M1420.8 631.1H1429.7L1427 637L1429.7 642.9H1420.8L1423.5 637Z" fill="#fa981c"/><path d="M1432.5 628.6H1441.3L1438.6 634.5L1441.3 640.4H1432.5L1435.2 634.5Z" fill="#fa981c"/><path d="M1444.1 626.6H1452.9L1450.2 632.5L1452.9 638.4H1444.1L1446.8 632.5Z" fill="#fa981c"/><path d="M1455.7 625.4H1464.5L1461.8 631.2L1464.5 637.1H1455.7L1458.4 631.2Z" fill="#fa981c"/><path d="M1467.3 624.6H1476.2L1473.5 630.5L1476.2 636.4H1467.3L1470 630.5Z" fill="#fa981c"/><path d="M1479 624.1H1487.8L1485.1 630L1487.8 635.9H1479L1481.7 630Z" fill="#fa981c"/><path d="M1490.6 623.6H1499.4L1496.7 629.5L1499.4 635.4H1490.6L1493.3 629.5Z" fill="#fa981c"/><path d="M1502.2 623.2H1511L1508.3 629.1L1511 635H1502.2L1504.9 629.1Z" fill="#fa981c"/><path d="M1513.8 622.8H1522.7L1520 628.6L1522.7 634.5H1513.8L1516.5 628.6Z" fill="#fa981c"/><path d="M1525.5 622.3H1534.3L1531.6 628.2L1534.3 634.1H1525.5L1528.2 628.2Z" fill="#fa981c"/><path d="M1537.1 621.9H1545.9L1543.2 627.8L1545.9 633.7H1537.1L1539.8 627.8Z" fill="#fa981c"/><path d="M1548.7 621.9H1557.5L1554.8 627.8L1557.5 633.7H1548.7L1551.4 627.8Z" fill="#fa981c"/><path d="M1560.3 621.8H1569.2L1566.5 627.7L1569.2 633.6H1560.3L1563 627.7Z" fill="#fa981c"/><path d="M1572 621.8H1580.8L1578.1 627.7L1580.8 633.6H1572L1574.7 627.7Z" fill="#fa981c"/><path d="M1583.6 621.7H1592.4L1589.7 627.6L1592.4 633.5H1583.6L1586.3 627.6Z" fill="#fa981c"/><path d="M1595.2 621.7H1604L1601.3 627.6L1604 633.5H1595.2L1597.9 627.6Z" fill="#fa981c"/><path d="M1606.8 621.6H1615.7L1613 627.5L1615.7 633.4H1606.8L1609.5 627.5Z" fill="#fa981c"/><path d="M1618.5 621.6H1627.3L1624.6 627.5L1627.3 633.4H1618.5L1621.2 627.5Z" fill="#fa981c"/></g>
</g>
<text x="1168.3" y="638.8" class="ti" font-size="18.6">(f)Email-Enron</text>
<path d="M1482.2 907.3L1488.8 900.7L1495.4 907.3L1488.8 913.9Z" fill="none" stroke="#3c55b6" stroke-width="2.5"/>
<text x="1498.5" y="912.3" class="lgs" font-size="13.1">BC</text>
<path d="M1482.5 927.9L1488.8 917.2L1495.1 927.9Z" fill="#1d6079"/>
<text x="1498.5" y="928.8" class="lgs" font-size="13.1">CR</text>
<path d="M1485.7 936L1493.8 940.3L1485.7 944.6Z" fill="none" stroke="#f32a35" stroke-width="3" stroke-linejoin="miter" stroke-miterlimit="10"/>
<text x="1498.5" y="945.3" class="lgs" font-size="13.1">DC</text>
<circle cx="1488.8" cy="956.8" r="6.2" fill="#7c2a8a"/>
<text x="1498.5" y="961.8" class="lgs" font-size="13.1">EC</text>
<circle cx="1488.8" cy="973.3" r="5" fill="none" stroke="#353535" stroke-width="2.4"/>
<text x="1498.5" y="978.3" class="lgs" font-size="13.1">FA</text>
<path d="M1492.8 983.5L1481.8 989.8L1492.8 996Z" fill="#129a4b"/>
<text x="1498.5" y="994.8" class="lgs" font-size="13.1">LR</text>
<path d="M1484.4 1000.4H1493.2L1490.5 1006.3L1493.2 1012.2H1484.4L1487.1 1006.3Z" fill="#fa981c"/>
<text x="1498.5" y="1011.3" class="lgs" font-size="13.1">PR</text>
<rect x="65.5" y="1156" width="485.7" height="521.3" fill="none" stroke="#0a0a0a" stroke-width="2.6"/>
<path d="M55.5 1192.3H65.5" stroke="#111" stroke-width="1.9"/>
<text transform="translate(54.5 1200) scale(0.93 1)" text-anchor="end" class="ax" font-size="19.8">.36</text>
<path d="M55.5 1350.4H65.5" stroke="#111" stroke-width="1.9"/>
<text transform="translate(54.5 1358.1) scale(0.93 1)" text-anchor="end" class="ax" font-size="19.8">.24</text>
<path d="M55.5 1508.4H65.5" stroke="#111" stroke-width="1.9"/>
<text transform="translate(54.5 1516.1) scale(0.93 1)" text-anchor="end" class="ax" font-size="19.8">.12</text>
<path d="M55.5 1667H65.5" stroke="#111" stroke-width="1.9"/>
<text transform="translate(54.5 1674.7) scale(0.93 1)" text-anchor="end" class="ax" font-size="19.8">.00</text>
<path d="M70 1677.3V1686.5" stroke="#111" stroke-width="1.9"/>
<text transform="translate(70 1704.8) scale(0.93 1)" text-anchor="middle" class="ax" font-size="19.8">0</text>
<path d="M129.6 1677.3V1686.5" stroke="#111" stroke-width="1.9"/>
<text transform="translate(129.6 1704.8) scale(0.93 1)" text-anchor="middle" class="ax" font-size="19.8">6</text>
<path d="M189.1 1677.3V1686.5" stroke="#111" stroke-width="1.9"/>
<text transform="translate(189.1 1704.8) scale(0.93 1)" text-anchor="middle" class="ax" font-size="19.8">12</text>
<path d="M248.7 1677.3V1686.5" stroke="#111" stroke-width="1.9"/>
<text transform="translate(248.7 1704.8) scale(0.93 1)" text-anchor="middle" class="ax" font-size="19.8">18</text>
<path d="M308.2 1677.3V1686.5" stroke="#111" stroke-width="1.9"/>
<text transform="translate(308.2 1704.8) scale(0.93 1)" text-anchor="middle" class="ax" font-size="19.8">24</text>
<path d="M367.8 1677.3V1686.5" stroke="#111" stroke-width="1.9"/>
<text transform="translate(367.8 1704.8) scale(0.93 1)" text-anchor="middle" class="ax" font-size="19.8">30</text>
<path d="M427.3 1677.3V1686.5" stroke="#111" stroke-width="1.9"/>
<text transform="translate(427.3 1704.8) scale(0.93 1)" text-anchor="middle" class="ax" font-size="19.8">36</text>
<path d="M486.9 1677.3V1686.5" stroke="#111" stroke-width="1.9"/>
<text transform="translate(486.9 1704.8) scale(0.93 1)" text-anchor="middle" class="ax" font-size="19.8">42</text>
<path d="M546.4 1677.3V1686.5" stroke="#111" stroke-width="1.9"/>
<text transform="translate(546.4 1704.8) scale(0.93 1)" text-anchor="middle" class="ax" font-size="19.8">48</text>
<g clip-path="url(#cg)">
<g><path d="M63.4 1666.5L70 1659.9L76.6 1666.5L70 1673.1Z" fill="none" stroke="#3c55b6" stroke-width="2.1"/><path d="M73.4 1661L79.9 1654.4L86.5 1661L79.9 1667.6Z" fill="none" stroke="#3c55b6" stroke-width="2.1"/><path d="M83.3 1653.5L89.8 1646.9L96.4 1653.5L89.8 1660.1Z" fill="none" stroke="#3c55b6" stroke-width="2.1"/><path d="M93.2 1640.2L99.8 1633.7L106.3 1640.2L99.8 1646.8Z" fill="none" stroke="#3c55b6" stroke-width="2.1"/><path d="M103.1 1620.2L109.7 1613.7L116.3 1620.2L109.7 1626.8Z" fill="none" stroke="#3c55b6" stroke-width="2.1"/><path d="M113.1 1592.8L119.6 1586.2L126.2 1592.8L119.6 1599.3Z" fill="none" stroke="#3c55b6" stroke-width="2.1"/><path d="M123 1562L129.6 1555.4L136.1 1562L129.6 1568.6Z" fill="none" stroke="#3c55b6" stroke-width="2.1"/><path d="M132.9 1526.2L139.5 1519.7L146 1526.2L139.5 1532.8Z" fill="none" stroke="#3c55b6" stroke-width="2.1"/><path d="M142.8 1488L149.4 1481.4L156 1488L149.4 1494.6Z" fill="none" stroke="#3c55b6" stroke-width="2.1"/><path d="M152.8 1453.8L159.3 1447.2L165.9 1453.8L159.3 1460.3Z" fill="none" stroke="#3c55b6" stroke-width="2.1"/><path d="M162.7 1420.5L169.2 1413.9L175.8 1420.5L169.2 1427.1Z" fill="none" stroke="#3c55b6" stroke-width="2.1"/><path d="M172.6 1388.8L179.2 1382.2L185.7 1388.8L179.2 1395.3Z" fill="none" stroke="#3c55b6" stroke-width="2.1"/><path d="M182.5 1361.8L189.1 1355.2L195.7 1361.8L189.1 1368.3Z" fill="none" stroke="#3c55b6" stroke-width="2.1"/><path d="M192.5 1340L199 1333.4L205.6 1340L199 1346.6Z" fill="none" stroke="#3c55b6" stroke-width="2.1"/><path d="M202.4 1320L209 1313.4L215.5 1320L209 1326.6Z" fill="none" stroke="#3c55b6" stroke-width="2.1"/><path d="M212.3 1302.5L218.9 1295.9L225.4 1302.5L218.9 1309.1Z" fill="none" stroke="#3c55b6" stroke-width="2.1"/><path d="M222.2 1287.5L228.8 1280.9L235.4 1287.5L228.8 1294.1Z" fill="none" stroke="#3c55b6" stroke-width="2.1"/><path d="M232.2 1273.8L238.7 1267.2L245.3 1273.8L238.7 1280.3Z" fill="none" stroke="#3c55b6" stroke-width="2.1"/><path d="M242.1 1262.5L248.7 1255.9L255.2 1262.5L248.7 1269.1Z" fill="none" stroke="#3c55b6" stroke-width="2.1"/><path d="M252 1252.5L258.6 1245.9L265.1 1252.5L258.6 1259.1Z" fill="none" stroke="#3c55b6" stroke-width="2.1"/><path d="M261.9 1244.5L268.5 1237.9L275.1 1244.5L268.5 1251.1Z" fill="none" stroke="#3c55b6" stroke-width="2.1"/><path d="M271.9 1237.5L278.4 1230.9L285 1237.5L278.4 1244.1Z" fill="none" stroke="#3c55b6" stroke-width="2.1"/><path d="M281.8 1231.8L288.4 1225.2L294.9 1231.8L288.4 1238.3Z" fill="none" stroke="#3c55b6" stroke-width="2.1"/><path d="M291.7 1227L298.3 1220.4L304.8 1227L298.3 1233.6Z" fill="none" stroke="#3c55b6" stroke-width="2.1"/><path d="M301.6 1223L308.2 1216.4L314.8 1223L308.2 1229.6Z" fill="none" stroke="#3c55b6" stroke-width="2.1"/><path d="M311.6 1220L318.1 1213.4L324.7 1220L318.1 1226.6Z" fill="none" stroke="#3c55b6" stroke-width="2.1"/><path d="M321.5 1217.5L328.1 1210.9L334.6 1217.5L328.1 1224.1Z" fill="none" stroke="#3c55b6" stroke-width="2.1"/><path d="M331.4 1215.8L338 1209.2L344.5 1215.8L338 1222.3Z" fill="none" stroke="#3c55b6" stroke-width="2.1"/><path d="M341.3 1214.5L347.9 1207.9L354.5 1214.5L347.9 1221.1Z" fill="none" stroke="#3c55b6" stroke-width="2.1"/><path d="M351.3 1213.8L357.8 1207.2L364.4 1213.8L357.8 1220.3Z" fill="none" stroke="#3c55b6" stroke-width="2.1"/><path d="M361.2 1213L367.8 1206.4L374.3 1213L367.8 1219.6Z" fill="none" stroke="#3c55b6" stroke-width="2.1"/><path d="M371.1 1212.5L377.7 1205.9L384.2 1212.5L377.7 1219.1Z" fill="none" stroke="#3c55b6" stroke-width="2.1"/><path d="M381 1212.5L387.6 1205.9L394.2 1212.5L387.6 1219.1Z" fill="none" stroke="#3c55b6" stroke-width="2.1"/><path d="M391 1212.5L397.5 1205.9L404.1 1212.5L397.5 1219.1Z" fill="none" stroke="#3c55b6" stroke-width="2.1"/><path d="M400.9 1212.5L407.5 1205.9L414 1212.5L407.5 1219.1Z" fill="none" stroke="#3c55b6" stroke-width="2.1"/><path d="M410.8 1212.1L417.4 1205.5L423.9 1212.1L417.4 1218.6Z" fill="none" stroke="#3c55b6" stroke-width="2.1"/><path d="M420.7 1211.7L427.3 1205.1L433.9 1211.7L427.3 1218.2Z" fill="none" stroke="#3c55b6" stroke-width="2.1"/><path d="M430.7 1211.2L437.2 1204.7L443.8 1211.2L437.2 1217.8Z" fill="none" stroke="#3c55b6" stroke-width="2.1"/><path d="M440.6 1210.8L447.2 1204.3L453.7 1210.8L447.2 1217.4Z" fill="none" stroke="#3c55b6" stroke-width="2.1"/><path d="M450.5 1210.4L457.1 1203.9L463.6 1210.4L457.1 1217Z" fill="none" stroke="#3c55b6" stroke-width="2.1"/><path d="M460.4 1210L467 1203.4L473.6 1210L467 1216.6Z" fill="none" stroke="#3c55b6" stroke-width="2.1"/><path d="M470.4 1210L476.9 1203.4L483.5 1210L476.9 1216.5Z" fill="none" stroke="#3c55b6" stroke-width="2.1"/><path d="M480.3 1209.9L486.9 1203.4L493.4 1209.9L486.9 1216.5Z" fill="none" stroke="#3c55b6" stroke-width="2.1"/><path d="M490.2 1209.9L496.8 1203.3L503.3 1209.9L496.8 1216.5Z" fill="none" stroke="#3c55b6" stroke-width="2.1"/><path d="M500.1 1209.8L506.7 1203.3L513.3 1209.8L506.7 1216.4Z" fill="none" stroke="#3c55b6" stroke-width="2.1"/><path d="M510.1 1209.8L516.6 1203.2L523.2 1209.8L516.6 1216.4Z" fill="none" stroke="#3c55b6" stroke-width="2.1"/><path d="M520 1209.8L526.5 1203.2L533.1 1209.8L526.5 1216.3Z" fill="none" stroke="#3c55b6" stroke-width="2.1"/><path d="M529.9 1209.7L536.5 1203.2L543 1209.7L536.5 1216.3Z" fill="none" stroke="#3c55b6" stroke-width="2.1"/><path d="M539.8 1209.7L546.4 1203.1L553 1209.7L546.4 1216.3Z" fill="none" stroke="#3c55b6" stroke-width="2.1"/></g>
<g><path d="M63.3 1671.5L70 1659.6L76.7 1671.5Z" fill="#1d6079"/><path d="M73.2 1669L79.9 1657.1L86.6 1669Z" fill="#1d6079"/><path d="M83.1 1666L89.8 1654.1L96.5 1666Z" fill="#1d6079"/><path d="M93.1 1662.2L99.8 1650.3L106.5 1662.2Z" fill="#1d6079"/><path d="M103 1655.8L109.7 1643.8L116.4 1655.8Z" fill="#1d6079"/><path d="M112.9 1641.5L119.6 1629.6L126.3 1641.5Z" fill="#1d6079"/><path d="M122.9 1619L129.6 1607.1L136.2 1619Z" fill="#1d6079"/><path d="M132.8 1590.8L139.5 1578.8L146.2 1590.8Z" fill="#1d6079"/><path d="M142.7 1558.8L149.4 1546.8L156.1 1558.8Z" fill="#1d6079"/><path d="M152.6 1521.8L159.3 1509.8L166 1521.8Z" fill="#1d6079"/><path d="M162.6 1487L169.2 1475.1L175.9 1487Z" fill="#1d6079"/><path d="M172.5 1452L179.2 1440.1L185.9 1452Z" fill="#1d6079"/><path d="M182.4 1419.5L189.1 1407.6L195.8 1419.5Z" fill="#1d6079"/><path d="M192.3 1390L199 1378.1L205.7 1390Z" fill="#1d6079"/><path d="M202.3 1362.5L209 1350.6L215.7 1362.5Z" fill="#1d6079"/><path d="M212.2 1335.5L218.9 1323.6L225.6 1335.5Z" fill="#1d6079"/><path d="M222.1 1315.5L228.8 1303.6L235.5 1315.5Z" fill="#1d6079"/><path d="M232 1296.2L238.7 1284.3L245.4 1296.2Z" fill="#1d6079"/><path d="M242 1281.2L248.7 1269.3L255.3 1281.2Z" fill="#1d6079"/><path d="M251.9 1267.5L258.6 1255.6L265.3 1267.5Z" fill="#1d6079"/><path d="M261.8 1256.2L268.5 1244.3L275.2 1256.2Z" fill="#1d6079"/><path d="M271.7 1245L278.4 1233.1L285.1 1245Z" fill="#1d6079"/><path d="M281.7 1235L288.4 1223.1L295.1 1235Z" fill="#1d6079"/><path d="M291.6 1226.2L298.3 1214.3L305 1226.2Z" fill="#1d6079"/><path d="M301.5 1219.5L308.2 1207.6L314.9 1219.5Z" fill="#1d6079"/><path d="M311.4 1213.8L318.1 1201.8L324.8 1213.8Z" fill="#1d6079"/><path d="M321.4 1208.8L328.1 1196.8L334.8 1208.8Z" fill="#1d6079"/><path d="M331.3 1205L338 1193.1L344.7 1205Z" fill="#1d6079"/><path d="M341.2 1202L347.9 1190.1L354.6 1202Z" fill="#1d6079"/><path d="M351.1 1199.5L357.8 1187.6L364.5 1199.5Z" fill="#1d6079"/><path d="M361.1 1197.5L367.8 1185.6L374.4 1197.5Z" fill="#1d6079"/><path d="M371 1195.8L377.7 1183.8L384.4 1195.8Z" fill="#1d6079"/><path d="M380.9 1194.5L387.6 1182.6L394.3 1194.5Z" fill="#1d6079"/><path d="M390.8 1193.8L397.5 1181.8L404.2 1193.8Z" fill="#1d6079"/><path d="M400.8 1193L407.5 1181.1L414.2 1193Z" fill="#1d6079"/><path d="M410.7 1192.8L417.4 1180.8L424.1 1192.8Z" fill="#1d6079"/><path d="M420.6 1192.5L427.3 1180.6L434 1192.5Z" fill="#1d6079"/><path d="M430.5 1192.2L437.2 1180.3L443.9 1192.2Z" fill="#1d6079"/><path d="M440.5 1192L447.2 1180.1L453.9 1192Z" fill="#1d6079"/><path d="M450.4 1191.8L457.1 1179.8L463.8 1191.8Z" fill="#1d6079"/><path d="M460.3 1191.5L467 1179.6L473.7 1191.5Z" fill="#1d6079"/><path d="M470.2 1191.4L476.9 1179.5L483.6 1191.4Z" fill="#1d6079"/><path d="M480.2 1191.3L486.9 1179.4L493.6 1191.3Z" fill="#1d6079"/><path d="M490.1 1191.2L496.8 1179.3L503.5 1191.2Z" fill="#1d6079"/><path d="M500 1191.2L506.7 1179.2L513.4 1191.2Z" fill="#1d6079"/><path d="M509.9 1191.1L516.6 1179.2L523.3 1191.1Z" fill="#1d6079"/><path d="M519.8 1191L526.5 1179.1L533.2 1191Z" fill="#1d6079"/><path d="M529.8 1190.9L536.5 1179L543.2 1190.9Z" fill="#1d6079"/><path d="M539.7 1190.8L546.4 1178.9L553.1 1190.8Z" fill="#1d6079"/></g>
<g><path d="M67.7 1662.1L75.7 1666.5L67.7 1670.9Z" fill="none" stroke="#ec2638" stroke-width="2.9" stroke-linejoin="miter" stroke-miterlimit="10"/><path d="M77.7 1657.1L85.6 1661.5L77.7 1665.9Z" fill="none" stroke="#ec2638" stroke-width="2.9" stroke-linejoin="miter" stroke-miterlimit="10"/><path d="M87.6 1649.6L95.5 1654L87.6 1658.4Z" fill="none" stroke="#ec2638" stroke-width="2.9" stroke-linejoin="miter" stroke-miterlimit="10"/><path d="M97.5 1636.3L105.5 1640.8L97.5 1645.2Z" fill="none" stroke="#ec2638" stroke-width="2.9" stroke-linejoin="miter" stroke-miterlimit="10"/><path d="M107.4 1616.3L115.4 1620.8L107.4 1625.2Z" fill="none" stroke="#ec2638" stroke-width="2.9" stroke-linejoin="miter" stroke-miterlimit="10"/><path d="M117.4 1589.6L125.3 1594L117.4 1598.4Z" fill="none" stroke="#ec2638" stroke-width="2.9" stroke-linejoin="miter" stroke-miterlimit="10"/><path d="M127.3 1559.6L135.2 1564L127.3 1568.4Z" fill="none" stroke="#ec2638" stroke-width="2.9" stroke-linejoin="miter" stroke-miterlimit="10"/><path d="M137.2 1526.1L145.2 1530.5L137.2 1534.9Z" fill="none" stroke="#ec2638" stroke-width="2.9" stroke-linejoin="miter" stroke-miterlimit="10"/><path d="M147.1 1490.6L155.1 1495L147.1 1499.4Z" fill="none" stroke="#ec2638" stroke-width="2.9" stroke-linejoin="miter" stroke-miterlimit="10"/><path d="M157.1 1457.3L165 1461.8L157.1 1466.2Z" fill="none" stroke="#ec2638" stroke-width="2.9" stroke-linejoin="miter" stroke-miterlimit="10"/><path d="M167 1425.6L174.9 1430L167 1434.4Z" fill="none" stroke="#ec2638" stroke-width="2.9" stroke-linejoin="miter" stroke-miterlimit="10"/><path d="M176.9 1397.3L184.9 1401.8L176.9 1406.2Z" fill="none" stroke="#ec2638" stroke-width="2.9" stroke-linejoin="miter" stroke-miterlimit="10"/><path d="M186.8 1370.6L194.8 1375L186.8 1379.4Z" fill="none" stroke="#ec2638" stroke-width="2.9" stroke-linejoin="miter" stroke-miterlimit="10"/><path d="M196.8 1346.1L204.7 1350.5L196.8 1354.9Z" fill="none" stroke="#ec2638" stroke-width="2.9" stroke-linejoin="miter" stroke-miterlimit="10"/><path d="M206.7 1323.6L214.6 1328L206.7 1332.4Z" fill="none" stroke="#ec2638" stroke-width="2.9" stroke-linejoin="miter" stroke-miterlimit="10"/><path d="M216.6 1305.6L224.6 1310L216.6 1314.4Z" fill="none" stroke="#ec2638" stroke-width="2.9" stroke-linejoin="miter" stroke-miterlimit="10"/><path d="M226.5 1288.1L234.5 1292.5L226.5 1296.9Z" fill="none" stroke="#ec2638" stroke-width="2.9" stroke-linejoin="miter" stroke-miterlimit="10"/><path d="M236.5 1273.8L244.4 1278.2L236.5 1282.7Z" fill="none" stroke="#ec2638" stroke-width="2.9" stroke-linejoin="miter" stroke-miterlimit="10"/><path d="M246.4 1261.3L254.3 1265.8L246.4 1270.2Z" fill="none" stroke="#ec2638" stroke-width="2.9" stroke-linejoin="miter" stroke-miterlimit="10"/><path d="M256.3 1250.6L264.3 1255L256.3 1259.4Z" fill="none" stroke="#ec2638" stroke-width="2.9" stroke-linejoin="miter" stroke-miterlimit="10"/><path d="M266.2 1241.8L274.2 1246.2L266.2 1250.7Z" fill="none" stroke="#ec2638" stroke-width="2.9" stroke-linejoin="miter" stroke-miterlimit="10"/><path d="M276.2 1234.3L284.1 1238.8L276.2 1243.2Z" fill="none" stroke="#ec2638" stroke-width="2.9" stroke-linejoin="miter" stroke-miterlimit="10"/><path d="M286.1 1228.1L294 1232.5L286.1 1236.9Z" fill="none" stroke="#ec2638" stroke-width="2.9" stroke-linejoin="miter" stroke-miterlimit="10"/><path d="M296 1223.1L304 1227.5L296 1231.9Z" fill="none" stroke="#ec2638" stroke-width="2.9" stroke-linejoin="miter" stroke-miterlimit="10"/><path d="M305.9 1218.6L313.9 1223L305.9 1227.4Z" fill="none" stroke="#ec2638" stroke-width="2.9" stroke-linejoin="miter" stroke-miterlimit="10"/><path d="M315.9 1215.1L323.8 1219.5L315.9 1223.9Z" fill="none" stroke="#ec2638" stroke-width="2.9" stroke-linejoin="miter" stroke-miterlimit="10"/><path d="M325.8 1212.6L333.7 1217L325.8 1221.4Z" fill="none" stroke="#ec2638" stroke-width="2.9" stroke-linejoin="miter" stroke-miterlimit="10"/><path d="M335.7 1210.6L343.7 1215L335.7 1219.4Z" fill="none" stroke="#ec2638" stroke-width="2.9" stroke-linejoin="miter" stroke-miterlimit="10"/><path d="M345.6 1209.1L353.6 1213.5L345.6 1217.9Z" fill="none" stroke="#ec2638" stroke-width="2.9" stroke-linejoin="miter" stroke-miterlimit="10"/><path d="M355.6 1208.1L363.5 1212.5L355.6 1216.9Z" fill="none" stroke="#ec2638" stroke-width="2.9" stroke-linejoin="miter" stroke-miterlimit="10"/><path d="M365.5 1207.3L373.4 1211.8L365.5 1216.2Z" fill="none" stroke="#ec2638" stroke-width="2.9" stroke-linejoin="miter" stroke-miterlimit="10"/><path d="M375.4 1206.8L383.4 1211.2L375.4 1215.7Z" fill="none" stroke="#ec2638" stroke-width="2.9" stroke-linejoin="miter" stroke-miterlimit="10"/><path d="M385.3 1206.3L393.3 1210.8L385.3 1215.2Z" fill="none" stroke="#ec2638" stroke-width="2.9" stroke-linejoin="miter" stroke-miterlimit="10"/><path d="M395.3 1206.1L403.2 1210.5L395.3 1214.9Z" fill="none" stroke="#ec2638" stroke-width="2.9" stroke-linejoin="miter" stroke-miterlimit="10"/><path d="M405.2 1205.6L413.1 1210L405.2 1214.4Z" fill="none" stroke="#ec2638" stroke-width="2.9" stroke-linejoin="miter" stroke-miterlimit="10"/><path d="M415.1 1205.1L423.1 1209.6L415.1 1214Z" fill="none" stroke="#ec2638" stroke-width="2.9" stroke-linejoin="miter" stroke-miterlimit="10"/><path d="M425 1204.7L433 1209.2L425 1213.6Z" fill="none" stroke="#ec2638" stroke-width="2.9" stroke-linejoin="miter" stroke-miterlimit="10"/><path d="M435 1204.3L442.9 1208.8L435 1213.2Z" fill="none" stroke="#ec2638" stroke-width="2.9" stroke-linejoin="miter" stroke-miterlimit="10"/><path d="M444.9 1203.9L452.8 1208.3L444.9 1212.8Z" fill="none" stroke="#ec2638" stroke-width="2.9" stroke-linejoin="miter" stroke-miterlimit="10"/><path d="M454.8 1203.5L462.8 1207.9L454.8 1212.4Z" fill="none" stroke="#ec2638" stroke-width="2.9" stroke-linejoin="miter" stroke-miterlimit="10"/><path d="M464.7 1203.1L472.7 1207.5L464.7 1211.9Z" fill="none" stroke="#ec2638" stroke-width="2.9" stroke-linejoin="miter" stroke-miterlimit="10"/><path d="M474.7 1202.9L482.6 1207.4L474.7 1211.8Z" fill="none" stroke="#ec2638" stroke-width="2.9" stroke-linejoin="miter" stroke-miterlimit="10"/><path d="M484.6 1202.8L492.5 1207.2L484.6 1211.7Z" fill="none" stroke="#ec2638" stroke-width="2.9" stroke-linejoin="miter" stroke-miterlimit="10"/><path d="M494.5 1202.7L502.5 1207.1L494.5 1211.6Z" fill="none" stroke="#ec2638" stroke-width="2.9" stroke-linejoin="miter" stroke-miterlimit="10"/><path d="M504.4 1202.6L512.4 1207L504.4 1211.4Z" fill="none" stroke="#ec2638" stroke-width="2.9" stroke-linejoin="miter" stroke-miterlimit="10"/><path d="M514.4 1202.4L522.3 1206.9L514.4 1211.3Z" fill="none" stroke="#ec2638" stroke-width="2.9" stroke-linejoin="miter" stroke-miterlimit="10"/><path d="M524.3 1202.3L532.2 1206.8L524.3 1211.2Z" fill="none" stroke="#ec2638" stroke-width="2.9" stroke-linejoin="miter" stroke-miterlimit="10"/><path d="M534.2 1202.2L542.2 1206.6L534.2 1211.1Z" fill="none" stroke="#ec2638" stroke-width="2.9" stroke-linejoin="miter" stroke-miterlimit="10"/><path d="M544.1 1202.1L552.1 1206.5L544.1 1210.9Z" fill="none" stroke="#ec2638" stroke-width="2.9" stroke-linejoin="miter" stroke-miterlimit="10"/></g>
<g><circle cx="70" cy="1666.5" r="6" fill="#7c2a8a"/><circle cx="79.9" cy="1661" r="6" fill="#7c2a8a"/><circle cx="89.8" cy="1653.5" r="6" fill="#7c2a8a"/><circle cx="99.8" cy="1639.5" r="6" fill="#7c2a8a"/><circle cx="109.7" cy="1619" r="6" fill="#7c2a8a"/><circle cx="119.6" cy="1590.2" r="6" fill="#7c2a8a"/><circle cx="129.6" cy="1557.5" r="6" fill="#7c2a8a"/><circle cx="139.5" cy="1521.2" r="6" fill="#7c2a8a"/><circle cx="149.4" cy="1483.8" r="6" fill="#7c2a8a"/><circle cx="159.3" cy="1448.2" r="6" fill="#7c2a8a"/><circle cx="169.2" cy="1415.8" r="6" fill="#7c2a8a"/><circle cx="179.2" cy="1383.8" r="6" fill="#7c2a8a"/><circle cx="189.1" cy="1355" r="6" fill="#7c2a8a"/><circle cx="199" cy="1330.5" r="6" fill="#7c2a8a"/><circle cx="209" cy="1308" r="6" fill="#7c2a8a"/><circle cx="218.9" cy="1290" r="6" fill="#7c2a8a"/><circle cx="228.8" cy="1275" r="6" fill="#7c2a8a"/><circle cx="238.7" cy="1260.5" r="6" fill="#7c2a8a"/><circle cx="248.7" cy="1248.8" r="6" fill="#7c2a8a"/><circle cx="258.6" cy="1238.8" r="6" fill="#7c2a8a"/><circle cx="268.5" cy="1231.8" r="6" fill="#7c2a8a"/><circle cx="278.4" cy="1225.5" r="6" fill="#7c2a8a"/><circle cx="288.4" cy="1220.5" r="6" fill="#7c2a8a"/><circle cx="298.3" cy="1216.2" r="6" fill="#7c2a8a"/><circle cx="308.2" cy="1212.5" r="6" fill="#7c2a8a"/><circle cx="318.1" cy="1209.5" r="6" fill="#7c2a8a"/><circle cx="328.1" cy="1207.5" r="6" fill="#7c2a8a"/><circle cx="338" cy="1205.8" r="6" fill="#7c2a8a"/><circle cx="347.9" cy="1204.5" r="6" fill="#7c2a8a"/><circle cx="357.8" cy="1203.2" r="6" fill="#7c2a8a"/><circle cx="367.8" cy="1202.5" r="6" fill="#7c2a8a"/><circle cx="377.7" cy="1202" r="6" fill="#7c2a8a"/><circle cx="387.6" cy="1201.5" r="6" fill="#7c2a8a"/><circle cx="397.5" cy="1201.2" r="6" fill="#7c2a8a"/><circle cx="407.5" cy="1201.2" r="6" fill="#7c2a8a"/><circle cx="417.4" cy="1200.9" r="6" fill="#7c2a8a"/><circle cx="427.3" cy="1200.5" r="6" fill="#7c2a8a"/><circle cx="437.2" cy="1200.1" r="6" fill="#7c2a8a"/><circle cx="447.2" cy="1199.8" r="6" fill="#7c2a8a"/><circle cx="457.1" cy="1199.4" r="6" fill="#7c2a8a"/><circle cx="467" cy="1199" r="6" fill="#7c2a8a"/><circle cx="476.9" cy="1198.9" r="6" fill="#7c2a8a"/><circle cx="486.9" cy="1198.8" r="6" fill="#7c2a8a"/><circle cx="496.8" cy="1198.7" r="6" fill="#7c2a8a"/><circle cx="506.7" cy="1198.6" r="6" fill="#7c2a8a"/><circle cx="516.6" cy="1198.5" r="6" fill="#7c2a8a"/><circle cx="526.5" cy="1198.4" r="6" fill="#7c2a8a"/><circle cx="536.5" cy="1198.3" r="6" fill="#7c2a8a"/><circle cx="546.4" cy="1198.2" r="6" fill="#7c2a8a"/></g>
<g><circle cx="70" cy="1666.5" r="5" fill="none" stroke="#353535" stroke-width="1.9"/><circle cx="79.9" cy="1666.5" r="5" fill="none" stroke="#353535" stroke-width="1.9"/><circle cx="89.8" cy="1666.5" r="5" fill="none" stroke="#353535" stroke-width="1.9"/><circle cx="99.8" cy="1666.5" r="5" fill="none" stroke="#353535" stroke-width="1.9"/><circle cx="109.7" cy="1665.2" r="5" fill="none" stroke="#353535" stroke-width="1.9"/><circle cx="119.6" cy="1664.5" r="5" fill="none" stroke="#353535" stroke-width="1.9"/><circle cx="129.6" cy="1662.8" r="5" fill="none" stroke="#353535" stroke-width="1.9"/><circle cx="139.5" cy="1658.5" r="5" fill="none" stroke="#353535" stroke-width="1.9"/><circle cx="149.4" cy="1650.2" r="5" fill="none" stroke="#353535" stroke-width="1.9"/><circle cx="159.3" cy="1635.8" r="5" fill="none" stroke="#353535" stroke-width="1.9"/><circle cx="169.2" cy="1615.2" r="5" fill="none" stroke="#353535" stroke-width="1.9"/><circle cx="179.2" cy="1584.8" r="5" fill="none" stroke="#353535" stroke-width="1.9"/><circle cx="189.1" cy="1548.8" r="5" fill="none" stroke="#353535" stroke-width="1.9"/><circle cx="199" cy="1508.8" r="5" fill="none" stroke="#353535" stroke-width="1.9"/><circle cx="209" cy="1470" r="5" fill="none" stroke="#353535" stroke-width="1.9"/><circle cx="218.9" cy="1429.5" r="5" fill="none" stroke="#353535" stroke-width="1.9"/><circle cx="228.8" cy="1395.8" r="5" fill="none" stroke="#353535" stroke-width="1.9"/><circle cx="238.7" cy="1365" r="5" fill="none" stroke="#353535" stroke-width="1.9"/><circle cx="248.7" cy="1338.8" r="5" fill="none" stroke="#353535" stroke-width="1.9"/><circle cx="258.6" cy="1316.8" r="5" fill="none" stroke="#353535" stroke-width="1.9"/><circle cx="268.5" cy="1298" r="5" fill="none" stroke="#353535" stroke-width="1.9"/><circle cx="278.4" cy="1281.5" r="5" fill="none" stroke="#353535" stroke-width="1.9"/><circle cx="288.4" cy="1267.2" r="5" fill="none" stroke="#353535" stroke-width="1.9"/><circle cx="298.3" cy="1256" r="5" fill="none" stroke="#353535" stroke-width="1.9"/><circle cx="308.2" cy="1245.8" r="5" fill="none" stroke="#353535" stroke-width="1.9"/><circle cx="318.1" cy="1237.5" r="5" fill="none" stroke="#353535" stroke-width="1.9"/><circle cx="328.1" cy="1230.5" r="5" fill="none" stroke="#353535" stroke-width="1.9"/><circle cx="338" cy="1225.2" r="5" fill="none" stroke="#353535" stroke-width="1.9"/><circle cx="347.9" cy="1221.2" r="5" fill="none" stroke="#353535" stroke-width="1.9"/><circle cx="357.8" cy="1218" r="5" fill="none" stroke="#353535" stroke-width="1.9"/><circle cx="367.8" cy="1215.2" r="5" fill="none" stroke="#353535" stroke-width="1.9"/><circle cx="377.7" cy="1213.5" r="5" fill="none" stroke="#353535" stroke-width="1.9"/><circle cx="387.6" cy="1212" r="5" fill="none" stroke="#353535" stroke-width="1.9"/><circle cx="397.5" cy="1210.5" r="5" fill="none" stroke="#353535" stroke-width="1.9"/><circle cx="407.5" cy="1209.5" r="5" fill="none" stroke="#353535" stroke-width="1.9"/><circle cx="417.4" cy="1208.1" r="5" fill="none" stroke="#353535" stroke-width="1.9"/><circle cx="427.3" cy="1206.8" r="5" fill="none" stroke="#353535" stroke-width="1.9"/><circle cx="437.2" cy="1205.4" r="5" fill="none" stroke="#353535" stroke-width="1.9"/><circle cx="447.2" cy="1204" r="5" fill="none" stroke="#353535" stroke-width="1.9"/><circle cx="457.1" cy="1203.4" r="5" fill="none" stroke="#353535" stroke-width="1.9"/><circle cx="467" cy="1202.8" r="5" fill="none" stroke="#353535" stroke-width="1.9"/><circle cx="476.9" cy="1202.1" r="5" fill="none" stroke="#353535" stroke-width="1.9"/><circle cx="486.9" cy="1201.5" r="5" fill="none" stroke="#353535" stroke-width="1.9"/><circle cx="496.8" cy="1201.2" r="5" fill="none" stroke="#353535" stroke-width="1.9"/><circle cx="506.7" cy="1201" r="5" fill="none" stroke="#353535" stroke-width="1.9"/><circle cx="516.6" cy="1200.8" r="5" fill="none" stroke="#353535" stroke-width="1.9"/><circle cx="526.5" cy="1200.5" r="5" fill="none" stroke="#353535" stroke-width="1.9"/><circle cx="536.5" cy="1200.2" r="5" fill="none" stroke="#353535" stroke-width="1.9"/><circle cx="546.4" cy="1200" r="5" fill="none" stroke="#353535" stroke-width="1.9"/></g>
<g><path d="M74 1660.2L63 1666.5L74 1672.8Z" fill="#129a4b"/><path d="M83.9 1654.8L72.9 1661L83.9 1667.2Z" fill="#129a4b"/><path d="M93.8 1647.2L82.8 1653.5L93.8 1659.8Z" fill="#129a4b"/><path d="M103.8 1634L92.8 1640.2L103.8 1646.5Z" fill="#129a4b"/><path d="M113.7 1613.5L102.7 1619.8L113.7 1626Z" fill="#129a4b"/><path d="M123.6 1585.2L112.6 1591.5L123.6 1597.8Z" fill="#129a4b"/><path d="M133.6 1555L122.6 1561.2L133.6 1567.5Z" fill="#129a4b"/><path d="M143.5 1518.8L132.5 1525L143.5 1531.2Z" fill="#129a4b"/><path d="M153.4 1483.8L142.4 1490L153.4 1496.2Z" fill="#129a4b"/><path d="M163.3 1448.8L152.3 1455L163.3 1461.2Z" fill="#129a4b"/><path d="M173.2 1413.8L162.2 1420L173.2 1426.2Z" fill="#129a4b"/><path d="M183.2 1380L172.2 1386.2L183.2 1392.5Z" fill="#129a4b"/><path d="M193.1 1351.2L182.1 1357.5L193.1 1363.8Z" fill="#129a4b"/><path d="M203 1330L192 1336.2L203 1342.5Z" fill="#129a4b"/><path d="M213 1308.8L202 1315L213 1321.2Z" fill="#129a4b"/><path d="M222.9 1293.8L211.9 1300L222.9 1306.2Z" fill="#129a4b"/><path d="M232.8 1278.8L221.8 1285L232.8 1291.2Z" fill="#129a4b"/><path d="M242.7 1265L231.7 1271.2L242.7 1277.5Z" fill="#129a4b"/><path d="M252.7 1253.8L241.7 1260L252.7 1266.2Z" fill="#129a4b"/><path d="M262.6 1243.8L251.6 1250L262.6 1256.2Z" fill="#129a4b"/><path d="M272.5 1235.8L261.5 1242L272.5 1248.2Z" fill="#129a4b"/><path d="M282.4 1229.2L271.4 1235.5L282.4 1241.8Z" fill="#129a4b"/><path d="M292.4 1223.8L281.4 1230L292.4 1236.2Z" fill="#129a4b"/><path d="M302.3 1219.2L291.3 1225.5L302.3 1231.8Z" fill="#129a4b"/><path d="M312.2 1215.5L301.2 1221.8L312.2 1228Z" fill="#129a4b"/><path d="M322.1 1212.2L311.1 1218.5L322.1 1224.8Z" fill="#129a4b"/><path d="M332.1 1210L321.1 1216.2L332.1 1222.5Z" fill="#129a4b"/><path d="M342 1208L331 1214.2L342 1220.5Z" fill="#129a4b"/><path d="M351.9 1206.5L340.9 1212.8L351.9 1219Z" fill="#129a4b"/><path d="M361.8 1205.5L350.8 1211.8L361.8 1218Z" fill="#129a4b"/><path d="M371.8 1204.8L360.8 1211L371.8 1217.2Z" fill="#129a4b"/><path d="M381.7 1204.2L370.7 1210.5L381.7 1216.8Z" fill="#129a4b"/><path d="M391.6 1203.8L380.6 1210L391.6 1216.2Z" fill="#129a4b"/><path d="M401.5 1203.5L390.5 1209.8L401.5 1216Z" fill="#129a4b"/><path d="M411.5 1203.2L400.5 1209.5L411.5 1215.8Z" fill="#129a4b"/><path d="M421.4 1202.5L410.4 1208.8L421.4 1215Z" fill="#129a4b"/><path d="M431.3 1201.8L420.3 1208L431.3 1214.2Z" fill="#129a4b"/><path d="M441.2 1201L430.2 1207.2L441.2 1213.5Z" fill="#129a4b"/><path d="M451.2 1200.2L440.2 1206.5L451.2 1212.8Z" fill="#129a4b"/><path d="M461.1 1199.5L450.1 1205.8L461.1 1212Z" fill="#129a4b"/><path d="M471 1198.8L460 1205L471 1211.2Z" fill="#129a4b"/><path d="M480.9 1198.6L469.9 1204.9L480.9 1211.1Z" fill="#129a4b"/><path d="M490.9 1198.5L479.9 1204.8L490.9 1211Z" fill="#129a4b"/><path d="M500.8 1198.4L489.8 1204.6L500.8 1210.9Z" fill="#129a4b"/><path d="M510.7 1198.2L499.7 1204.5L510.7 1210.8Z" fill="#129a4b"/><path d="M520.6 1198.1L509.6 1204.4L520.6 1210.6Z" fill="#129a4b"/><path d="M530.5 1198L519.5 1204.2L530.5 1210.5Z" fill="#129a4b"/><path d="M540.5 1197.9L529.5 1204.1L540.5 1210.4Z" fill="#129a4b"/><path d="M550.4 1197.8L539.4 1204L550.4 1210.2Z" fill="#129a4b"/></g>
<g><path d="M66.8 1660.7H73.2L71.2 1666.5L73.2 1672.3H66.8L68.8 1666.5Z" fill="#f39a1e"/><path d="M76.7 1655.7H83.1L81.1 1661.5L83.1 1667.3H76.7L78.7 1661.5Z" fill="#f39a1e"/><path d="M86.6 1647.7H93L91 1653.5L93 1659.3H86.6L88.6 1653.5Z" fill="#f39a1e"/><path d="M96.6 1634.5H103L101 1640.2L103 1646H96.6L98.6 1640.2Z" fill="#f39a1e"/><path d="M106.5 1614H112.9L110.9 1619.8L112.9 1625.5H106.5L108.5 1619.8Z" fill="#f39a1e"/><path d="M116.4 1585.2H122.8L120.8 1591L122.8 1596.8H116.4L118.4 1591Z" fill="#f39a1e"/><path d="M126.4 1551.2H132.8L130.8 1557L132.8 1562.8H126.4L128.4 1557Z" fill="#f39a1e"/><path d="M136.3 1514.2H142.7L140.7 1520L142.7 1525.8H136.3L138.3 1520Z" fill="#f39a1e"/><path d="M146.2 1478.7H152.6L150.6 1484.5L152.6 1490.3H146.2L148.2 1484.5Z" fill="#f39a1e"/><path d="M156.1 1443.7H162.5L160.5 1449.5L162.5 1455.3H156.1L158.1 1449.5Z" fill="#f39a1e"/><path d="M166.1 1410.5H172.4L170.4 1416.2L172.4 1422H166.1L168.1 1416.2Z" fill="#f39a1e"/><path d="M176 1378.5H182.4L180.4 1384.2L182.4 1390H176L178 1384.2Z" fill="#f39a1e"/><path d="M185.9 1350H192.3L190.3 1355.8L192.3 1361.5H185.9L187.9 1355.8Z" fill="#f39a1e"/><path d="M195.8 1328.5H202.2L200.2 1334.2L202.2 1340H195.8L197.8 1334.2Z" fill="#f39a1e"/><path d="M205.8 1306.7H212.2L210.2 1312.5L212.2 1318.3H205.8L207.8 1312.5Z" fill="#f39a1e"/><path d="M215.7 1291.7H222.1L220.1 1297.5L222.1 1303.3H215.7L217.7 1297.5Z" fill="#f39a1e"/><path d="M225.6 1277.2H232L230 1283L232 1288.8H225.6L227.6 1283Z" fill="#f39a1e"/><path d="M235.5 1263H241.9L239.9 1268.8L241.9 1274.5H235.5L237.5 1268.8Z" fill="#f39a1e"/><path d="M245.5 1251.7H251.8L249.8 1257.5L251.8 1263.3H245.5L247.5 1257.5Z" fill="#f39a1e"/><path d="M255.4 1242.2H261.8L259.8 1248L261.8 1253.8H255.4L257.4 1248Z" fill="#f39a1e"/><path d="M265.3 1234.2H271.7L269.7 1240L271.7 1245.8H265.3L267.3 1240Z" fill="#f39a1e"/><path d="M275.2 1228H281.6L279.6 1233.8L281.6 1239.5H275.2L277.2 1233.8Z" fill="#f39a1e"/><path d="M285.2 1222.2H291.6L289.6 1228L291.6 1233.8H285.2L287.2 1228Z" fill="#f39a1e"/><path d="M295.1 1218H301.5L299.5 1223.8L301.5 1229.5H295.1L297.1 1223.8Z" fill="#f39a1e"/><path d="M305 1214.2H311.4L309.4 1220L311.4 1225.8H305L307 1220Z" fill="#f39a1e"/><path d="M314.9 1211H321.3L319.3 1216.8L321.3 1222.5H314.9L316.9 1216.8Z" fill="#f39a1e"/><path d="M324.9 1208.7H331.2L329.2 1214.5L331.2 1220.3H324.9L326.9 1214.5Z" fill="#f39a1e"/><path d="M334.8 1206.7H341.2L339.2 1212.5L341.2 1218.3H334.8L336.8 1212.5Z" fill="#f39a1e"/><path d="M344.7 1205.2H351.1L349.1 1211L351.1 1216.8H344.7L346.7 1211Z" fill="#f39a1e"/><path d="M354.6 1204.2H361L359 1210L361 1215.8H354.6L356.6 1210Z" fill="#f39a1e"/><path d="M364.6 1203.5H370.9L368.9 1209.2L370.9 1215H364.6L366.6 1209.2Z" fill="#f39a1e"/><path d="M374.5 1203H380.9L378.9 1208.8L380.9 1214.5H374.5L376.5 1208.8Z" fill="#f39a1e"/><path d="M384.4 1202.5H390.8L388.8 1208.2L390.8 1214H384.4L386.4 1208.2Z" fill="#f39a1e"/><path d="M394.3 1202.2H400.7L398.7 1208L400.7 1213.8H394.3L396.3 1208Z" fill="#f39a1e"/><path d="M404.3 1202.2H410.7L408.7 1208L410.7 1213.8H404.3L406.3 1208Z" fill="#f39a1e"/><path d="M414.2 1202H420.6L418.6 1207.8L420.6 1213.5H414.2L416.2 1207.8Z" fill="#f39a1e"/><path d="M424.1 1201.7H430.5L428.5 1207.5L430.5 1213.3H424.1L426.1 1207.5Z" fill="#f39a1e"/><path d="M434 1201.5H440.4L438.4 1207.2L440.4 1213H434L436 1207.2Z" fill="#f39a1e"/><path d="M444 1201.2H450.4L448.4 1207L450.4 1212.8H444L446 1207Z" fill="#f39a1e"/><path d="M453.9 1201H460.3L458.3 1206.8L460.3 1212.5H453.9L455.9 1206.8Z" fill="#f39a1e"/><path d="M463.8 1200.7H470.2L468.2 1206.5L470.2 1212.3H463.8L465.8 1206.5Z" fill="#f39a1e"/><path d="M473.7 1200.6H480.1L478.1 1206.4L480.1 1212.2H473.7L475.7 1206.4Z" fill="#f39a1e"/><path d="M483.7 1200.5H490.1L488.1 1206.3L490.1 1212.1H483.7L485.7 1206.3Z" fill="#f39a1e"/><path d="M493.6 1200.5H500L498 1206.3L500 1212.1H493.6L495.6 1206.3Z" fill="#f39a1e"/><path d="M503.5 1200.4H509.9L507.9 1206.2L509.9 1212H503.5L505.5 1206.2Z" fill="#f39a1e"/><path d="M513.4 1200.3H519.8L517.8 1206.1L519.8 1211.9H513.4L515.4 1206.1Z" fill="#f39a1e"/><path d="M523.3 1200.3H529.8L527.8 1206.1L529.8 1211.9H523.3L525.3 1206.1Z" fill="#f39a1e"/><path d="M533.3 1200.2H539.7L537.7 1206L539.7 1211.8H533.3L535.3 1206Z" fill="#f39a1e"/><path d="M543.2 1200.1H549.6L547.6 1205.9L549.6 1211.7H543.2L545.2 1205.9Z" fill="#f39a1e"/></g>
</g>
<text x="99.3" y="1214.3" class="ti" font-size="18.6">(g)Ca-CondMat</text>
<path d="M387.6 1472.2L394.2 1465.6L400.8 1472.2L394.2 1478.8Z" fill="none" stroke="#3c55b6" stroke-width="2.1"/>
<text x="405.1" y="1477.4" class="lgb" font-size="15.3">BC</text>
<path d="M387.5 1495.8L394.2 1483.8L400.9 1495.8Z" fill="#1d6079"/>
<text x="405.1" y="1496" class="lgb" font-size="15.3">CR</text>
<path d="M391.9 1504.9L399.9 1509.3L391.9 1513.7Z" fill="none" stroke="#ec2638" stroke-width="2.9" stroke-linejoin="miter" stroke-miterlimit="10"/>
<text x="405.1" y="1514.5" class="lgb" font-size="15.3">DC</text>
<circle cx="394.2" cy="1527.9" r="6" fill="#7c2a8a"/>
<text x="405.1" y="1533.1" class="lgb" font-size="15.3">EC</text>
<circle cx="394.2" cy="1546.4" r="5" fill="none" stroke="#353535" stroke-width="1.9"/>
<text x="405.1" y="1551.6" class="lgb" font-size="15.3">FA</text>
<path d="M398.2 1558.7L387.2 1565L398.2 1571.2Z" fill="#129a4b"/>
<text x="405.1" y="1570.2" class="lgb" font-size="15.3">LR</text>
<path d="M391 1577.7H397.4L395.4 1583.5L397.4 1589.3H391L393 1583.5Z" fill="#f39a1e"/>
<text x="405.1" y="1588.7" class="lgb" font-size="15.3">PR</text>
<text transform="translate(10.5 1416.5) rotate(-90)" text-anchor="middle" class="ti" font-size="18" dy="6">F(t)</text>
<text x="308.8" y="1734.5" text-anchor="middle" class="ti" font-size="18">Time</text>
<rect x="609.5" y="1156" width="492.1" height="527.6" fill="none" stroke="#0a0a0a" stroke-width="2.6"/>
<path d="M600.2 1180.2H609.5" stroke="#111" stroke-width="1.9"/>
<text transform="translate(599.2 1187.9) scale(0.93 1)" text-anchor="end" class="ax" font-size="19.8">.18</text>
<path d="M600.2 1346.3H609.5" stroke="#111" stroke-width="1.9"/>
<text transform="translate(599.2 1354) scale(0.93 1)" text-anchor="end" class="ax" font-size="19.8">.12</text>
<path d="M600.2 1512.2H609.5" stroke="#111" stroke-width="1.9"/>
<text transform="translate(599.2 1519.9) scale(0.93 1)" text-anchor="end" class="ax" font-size="19.8">.06</text>
<path d="M600.2 1677.8H609.5" stroke="#111" stroke-width="1.9"/>
<text transform="translate(599.2 1685.5) scale(0.93 1)" text-anchor="end" class="ax" font-size="19.8">.00</text>
<path d="M614.2 1683.6V1692.8" stroke="#111" stroke-width="1.9"/>
<text transform="translate(614.2 1712) scale(0.93 1)" text-anchor="middle" class="ax" font-size="19.8">0</text>
<path d="M731.8 1683.6V1692.8" stroke="#111" stroke-width="1.9"/>
<text transform="translate(731.8 1712) scale(0.93 1)" text-anchor="middle" class="ax" font-size="19.8">10</text>
<path d="M849.2 1683.6V1692.8" stroke="#111" stroke-width="1.9"/>
<text transform="translate(849.2 1712) scale(0.93 1)" text-anchor="middle" class="ax" font-size="19.8">20</text>
<path d="M966.8 1683.6V1692.8" stroke="#111" stroke-width="1.9"/>
<text transform="translate(966.8 1712) scale(0.93 1)" text-anchor="middle" class="ax" font-size="19.8">30</text>
<path d="M1084.2 1683.6V1692.8" stroke="#111" stroke-width="1.9"/>
<text transform="translate(1084.2 1712) scale(0.93 1)" text-anchor="middle" class="ax" font-size="19.8">40</text>
<g clip-path="url(#ch)">
<g><path d="M607.7 1672.8L614.2 1666.2L620.8 1672.8L614.2 1679.3Z" fill="none" stroke="#3b3fa0" stroke-width="1.8"/><path d="M619.4 1664L626 1657.4L632.6 1664L626 1670.6Z" fill="none" stroke="#3b3fa0" stroke-width="1.8"/><path d="M631.2 1639L637.8 1632.4L644.3 1639L637.8 1645.6Z" fill="none" stroke="#3b3fa0" stroke-width="1.8"/><path d="M642.9 1621.5L649.5 1614.9L656.1 1621.5L649.5 1628.1Z" fill="none" stroke="#3b3fa0" stroke-width="1.8"/><path d="M654.7 1604L661.2 1597.4L667.8 1604L661.2 1610.6Z" fill="none" stroke="#3b3fa0" stroke-width="1.8"/><path d="M666.4 1592.8L673 1586.2L679.6 1592.8L673 1599.3Z" fill="none" stroke="#3b3fa0" stroke-width="1.8"/><path d="M678.2 1580.2L684.8 1573.7L691.3 1580.2L684.8 1586.8Z" fill="none" stroke="#3b3fa0" stroke-width="1.8"/><path d="M689.9 1562.5L696.5 1555.9L703.1 1562.5L696.5 1569.1Z" fill="none" stroke="#3b3fa0" stroke-width="1.8"/><path d="M701.7 1540.5L708.2 1533.9L714.8 1540.5L708.2 1547.1Z" fill="none" stroke="#3b3fa0" stroke-width="1.8"/><path d="M713.4 1522.5L720 1515.9L726.6 1522.5L720 1529.1Z" fill="none" stroke="#3b3fa0" stroke-width="1.8"/><path d="M725.2 1502L731.8 1495.4L738.3 1502L731.8 1508.6Z" fill="none" stroke="#3b3fa0" stroke-width="1.8"/><path d="M736.9 1483.8L743.5 1477.2L750.1 1483.8L743.5 1490.3Z" fill="none" stroke="#3b3fa0" stroke-width="1.8"/><path d="M748.7 1468.8L755.2 1462.2L761.8 1468.8L755.2 1475.3Z" fill="none" stroke="#3b3fa0" stroke-width="1.8"/><path d="M760.4 1458L767 1451.4L773.6 1458L767 1464.6Z" fill="none" stroke="#3b3fa0" stroke-width="1.8"/><path d="M772.2 1443.2L778.8 1436.7L785.3 1443.2L778.8 1449.8Z" fill="none" stroke="#3b3fa0" stroke-width="1.8"/><path d="M783.9 1425.8L790.5 1419.2L797.1 1425.8L790.5 1432.3Z" fill="none" stroke="#3b3fa0" stroke-width="1.8"/><path d="M795.7 1411.2L802.2 1404.7L808.8 1411.2L802.2 1417.8Z" fill="none" stroke="#3b3fa0" stroke-width="1.8"/><path d="M807.4 1396.3L814 1389.7L820.6 1396.3L814 1402.9Z" fill="none" stroke="#3b3fa0" stroke-width="1.8"/><path d="M819.2 1380.7L825.8 1374.1L832.3 1380.7L825.8 1387.3Z" fill="none" stroke="#3b3fa0" stroke-width="1.8"/><path d="M830.9 1374.8L837.5 1368.3L844.1 1374.8L837.5 1381.4Z" fill="none" stroke="#3b3fa0" stroke-width="1.8"/><path d="M842.7 1363.1L849.2 1356.6L855.8 1363.1L849.2 1369.7Z" fill="none" stroke="#3b3fa0" stroke-width="1.8"/><path d="M854.4 1355.3L861 1348.8L867.6 1355.3L861 1361.9Z" fill="none" stroke="#3b3fa0" stroke-width="1.8"/><path d="M866.2 1346.6L872.8 1340L879.3 1346.6L872.8 1353.2Z" fill="none" stroke="#3b3fa0" stroke-width="1.8"/><path d="M877.9 1338.8L884.5 1332.2L891.1 1338.8L884.5 1345.4Z" fill="none" stroke="#3b3fa0" stroke-width="1.8"/><path d="M889.7 1332.9L896.2 1326.4L902.8 1332.9L896.2 1339.5Z" fill="none" stroke="#3b3fa0" stroke-width="1.8"/><path d="M901.4 1327.1L908 1320.5L914.6 1327.1L908 1333.7Z" fill="none" stroke="#3b3fa0" stroke-width="1.8"/><path d="M913.2 1322.2L919.8 1315.6L926.3 1322.2L919.8 1328.8Z" fill="none" stroke="#3b3fa0" stroke-width="1.8"/><path d="M924.9 1316.4L931.5 1309.8L938.1 1316.4L931.5 1322.9Z" fill="none" stroke="#3b3fa0" stroke-width="1.8"/><path d="M936.7 1307.6L943.2 1301L949.8 1307.6L943.2 1314.2Z" fill="none" stroke="#3b3fa0" stroke-width="1.8"/><path d="M948.4 1302.7L955 1296.2L961.6 1302.7L955 1309.3Z" fill="none" stroke="#3b3fa0" stroke-width="1.8"/><path d="M960.2 1298.8L966.8 1292.3L973.3 1298.8L966.8 1305.4Z" fill="none" stroke="#3b3fa0" stroke-width="1.8"/><path d="M971.9 1294L978.5 1287.4L985.1 1294L978.5 1300.5Z" fill="none" stroke="#3b3fa0" stroke-width="1.8"/><path d="M983.7 1289.1L990.2 1282.5L996.8 1289.1L990.2 1295.7Z" fill="none" stroke="#3b3fa0" stroke-width="1.8"/><path d="M995.4 1285.2L1002 1278.6L1008.6 1285.2L1002 1291.8Z" fill="none" stroke="#3b3fa0" stroke-width="1.8"/><path d="M1007.2 1281.9L1013.8 1275.3L1020.3 1281.9L1013.8 1288.5Z" fill="none" stroke="#3b3fa0" stroke-width="1.8"/><path d="M1018.9 1279.3L1025.5 1272.8L1032.1 1279.3L1025.5 1285.9Z" fill="none" stroke="#3b3fa0" stroke-width="1.8"/><path d="M1030.7 1277.4L1037.2 1270.8L1043.8 1277.4L1037.2 1284Z" fill="none" stroke="#3b3fa0" stroke-width="1.8"/><path d="M1042.4 1275.4L1049 1268.9L1055.6 1275.4L1049 1282Z" fill="none" stroke="#3b3fa0" stroke-width="1.8"/><path d="M1054.2 1274.9L1060.8 1268.3L1067.3 1274.9L1060.8 1281.4Z" fill="none" stroke="#3b3fa0" stroke-width="1.8"/><path d="M1065.9 1274.5L1072.5 1267.9L1079.1 1274.5L1072.5 1281Z" fill="none" stroke="#3b3fa0" stroke-width="1.8"/><path d="M1077.7 1274.5L1084.2 1267.9L1090.8 1274.5L1084.2 1281Z" fill="none" stroke="#3b3fa0" stroke-width="1.8"/><path d="M1089.4 1274.5L1096 1267.9L1102.6 1274.5L1096 1281Z" fill="none" stroke="#3b3fa0" stroke-width="1.8"/></g>
<g><path d="M607.4 1677.7L614.2 1665.5L621.1 1677.7Z" fill="#1d6079"/><path d="M619.1 1670.2L626 1658L632.9 1670.2Z" fill="#1d6079"/><path d="M630.9 1657.7L637.8 1645.5L644.6 1657.7Z" fill="#1d6079"/><path d="M642.6 1643.9L649.5 1631.7L656.4 1643.9Z" fill="#1d6079"/><path d="M654.4 1625.2L661.2 1613L668.1 1625.2Z" fill="#1d6079"/><path d="M666.1 1602.7L673 1590.5L679.9 1602.7Z" fill="#1d6079"/><path d="M677.9 1578.7L684.8 1566.5L691.6 1578.7Z" fill="#1d6079"/><path d="M689.6 1542.4L696.5 1530.2L703.4 1542.4Z" fill="#1d6079"/><path d="M701.4 1511.2L708.2 1499L715.1 1511.2Z" fill="#1d6079"/><path d="M713.1 1487.4L720 1475.2L726.9 1487.4Z" fill="#1d6079"/><path d="M724.9 1459.9L731.8 1447.7L738.6 1459.9Z" fill="#1d6079"/><path d="M736.6 1436.2L743.5 1424L750.4 1436.2Z" fill="#1d6079"/><path d="M748.4 1418.2L755.2 1406L762.1 1418.2Z" fill="#1d6079"/><path d="M760.1 1401.2L767 1389L773.9 1401.2Z" fill="#1d6079"/><path d="M771.9 1384.9L778.8 1372.7L785.6 1384.9Z" fill="#1d6079"/><path d="M783.6 1365.4L790.5 1353.2L797.4 1365.4Z" fill="#1d6079"/><path d="M795.4 1349.9L802.2 1337.7L809.1 1349.9Z" fill="#1d6079"/><path d="M807.1 1326.2L814 1314L820.9 1326.2Z" fill="#1d6079"/><path d="M818.9 1301.8L825.8 1289.6L832.6 1301.8Z" fill="#1d6079"/><path d="M830.6 1273.1L837.5 1260.9L844.4 1273.1Z" fill="#1d6079"/><path d="M842.4 1247.2L849.2 1235L856.1 1247.2Z" fill="#1d6079"/><path d="M854.1 1231.2L861 1219L867.9 1231.2Z" fill="#1d6079"/><path d="M865.9 1222.9L872.8 1210.7L879.6 1222.9Z" fill="#1d6079"/><path d="M877.6 1213.5L884.5 1201.3L891.4 1213.5Z" fill="#1d6079"/><path d="M889.4 1205.7L896.2 1193.5L903.1 1205.7Z" fill="#1d6079"/><path d="M901.1 1198.5L908 1186.3L914.9 1198.5Z" fill="#1d6079"/><path d="M912.9 1194.6L919.8 1182.4L926.6 1194.6Z" fill="#1d6079"/><path d="M924.6 1191.3L931.5 1179.1L938.4 1191.3Z" fill="#1d6079"/><path d="M936.4 1190.1L943.2 1177.9L950.1 1190.1Z" fill="#1d6079"/><path d="M948.1 1186.8L955 1174.6L961.9 1186.8Z" fill="#1d6079"/><path d="M959.9 1184.9L966.8 1172.7L973.6 1184.9Z" fill="#1d6079"/><path d="M971.6 1183.5L978.5 1171.3L985.4 1183.5Z" fill="#1d6079"/><path d="M983.4 1181.9L990.2 1169.7L997.1 1181.9Z" fill="#1d6079"/><path d="M995.1 1181.3L1002 1169.1L1008.9 1181.3Z" fill="#1d6079"/><path d="M1006.9 1181L1013.8 1168.8L1020.6 1181Z" fill="#1d6079"/><path d="M1018.6 1180L1025.5 1167.8L1032.3 1180Z" fill="#1d6079"/><path d="M1030.4 1179.6L1037.2 1167.4L1044.1 1179.6Z" fill="#1d6079"/><path d="M1042.2 1179L1049 1166.8L1055.8 1179Z" fill="#1d6079"/><path d="M1053.9 1179L1060.8 1166.8L1067.6 1179Z" fill="#1d6079"/><path d="M1065.7 1179L1072.5 1166.8L1079.3 1179Z" fill="#1d6079"/><path d="M1077.4 1179L1084.2 1166.8L1091.1 1179Z" fill="#1d6079"/><path d="M1089.2 1179L1096 1166.8L1102.8 1179Z" fill="#1d6079"/></g>
<g><path d="M611.9 1668.3L620.1 1672.8L611.9 1677.2Z" fill="none" stroke="#ea2236" stroke-width="3" stroke-linejoin="miter" stroke-miterlimit="10"/><path d="M623.7 1662L631.8 1666.5L623.7 1671Z" fill="none" stroke="#ea2236" stroke-width="3" stroke-linejoin="miter" stroke-miterlimit="10"/><path d="M635.4 1639.5L643.6 1644L635.4 1648.5Z" fill="none" stroke="#ea2236" stroke-width="3" stroke-linejoin="miter" stroke-miterlimit="10"/><path d="M647.2 1620L655.3 1624.5L647.2 1629Z" fill="none" stroke="#ea2236" stroke-width="3" stroke-linejoin="miter" stroke-miterlimit="10"/><path d="M658.9 1607.8L667.1 1612.2L658.9 1616.7Z" fill="none" stroke="#ea2236" stroke-width="3" stroke-linejoin="miter" stroke-miterlimit="10"/><path d="M670.7 1595L678.8 1599.5L670.7 1604Z" fill="none" stroke="#ea2236" stroke-width="3" stroke-linejoin="miter" stroke-miterlimit="10"/><path d="M682.4 1582.8L690.6 1587.2L682.4 1591.7Z" fill="none" stroke="#ea2236" stroke-width="3" stroke-linejoin="miter" stroke-miterlimit="10"/><path d="M694.2 1570L702.3 1574.5L694.2 1579Z" fill="none" stroke="#ea2236" stroke-width="3" stroke-linejoin="miter" stroke-miterlimit="10"/><path d="M705.9 1555.5L714.1 1560L705.9 1564.5Z" fill="none" stroke="#ea2236" stroke-width="3" stroke-linejoin="miter" stroke-miterlimit="10"/><path d="M717.7 1541L725.8 1545.5L717.7 1550Z" fill="none" stroke="#ea2236" stroke-width="3" stroke-linejoin="miter" stroke-miterlimit="10"/><path d="M729.4 1530L737.6 1534.5L729.4 1539Z" fill="none" stroke="#ea2236" stroke-width="3" stroke-linejoin="miter" stroke-miterlimit="10"/><path d="M741.2 1516.8L749.3 1521.2L741.2 1525.7Z" fill="none" stroke="#ea2236" stroke-width="3" stroke-linejoin="miter" stroke-miterlimit="10"/><path d="M752.9 1501.3L761.1 1505.8L752.9 1510.2Z" fill="none" stroke="#ea2236" stroke-width="3" stroke-linejoin="miter" stroke-miterlimit="10"/><path d="M764.7 1491.3L772.8 1495.8L764.7 1500.2Z" fill="none" stroke="#ea2236" stroke-width="3" stroke-linejoin="miter" stroke-miterlimit="10"/><path d="M776.4 1482.5L784.6 1487L776.4 1491.5Z" fill="none" stroke="#ea2236" stroke-width="3" stroke-linejoin="miter" stroke-miterlimit="10"/><path d="M788.2 1469.8L796.3 1474.2L788.2 1478.7Z" fill="none" stroke="#ea2236" stroke-width="3" stroke-linejoin="miter" stroke-miterlimit="10"/><path d="M799.9 1455.5L808.1 1460L799.9 1464.5Z" fill="none" stroke="#ea2236" stroke-width="3" stroke-linejoin="miter" stroke-miterlimit="10"/><path d="M811.7 1442.5L819.8 1446.9L811.7 1451.4Z" fill="none" stroke="#ea2236" stroke-width="3" stroke-linejoin="miter" stroke-miterlimit="10"/><path d="M823.4 1429.8L831.6 1434.3L823.4 1438.7Z" fill="none" stroke="#ea2236" stroke-width="3" stroke-linejoin="miter" stroke-miterlimit="10"/><path d="M835.2 1417.1L843.3 1421.6L835.2 1426.1Z" fill="none" stroke="#ea2236" stroke-width="3" stroke-linejoin="miter" stroke-miterlimit="10"/><path d="M846.9 1401.5L855.1 1406L846.9 1410.5Z" fill="none" stroke="#ea2236" stroke-width="3" stroke-linejoin="miter" stroke-miterlimit="10"/><path d="M858.7 1389.9L866.8 1394.3L858.7 1398.8Z" fill="none" stroke="#ea2236" stroke-width="3" stroke-linejoin="miter" stroke-miterlimit="10"/><path d="M870.4 1375.6L878.6 1380.1L870.4 1384.6Z" fill="none" stroke="#ea2236" stroke-width="3" stroke-linejoin="miter" stroke-miterlimit="10"/><path d="M882.2 1358.1L890.3 1362.6L882.2 1367Z" fill="none" stroke="#ea2236" stroke-width="3" stroke-linejoin="miter" stroke-miterlimit="10"/><path d="M893.9 1350.9L902.1 1355.3L893.9 1359.8Z" fill="none" stroke="#ea2236" stroke-width="3" stroke-linejoin="miter" stroke-miterlimit="10"/><path d="M905.7 1341.1L913.8 1345.6L905.7 1350.1Z" fill="none" stroke="#ea2236" stroke-width="3" stroke-linejoin="miter" stroke-miterlimit="10"/><path d="M917.4 1334.3L925.6 1338.8L917.4 1343.3Z" fill="none" stroke="#ea2236" stroke-width="3" stroke-linejoin="miter" stroke-miterlimit="10"/><path d="M929.2 1328.5L937.3 1332.9L929.2 1337.4Z" fill="none" stroke="#ea2236" stroke-width="3" stroke-linejoin="miter" stroke-miterlimit="10"/><path d="M940.9 1321.6L949.1 1326.1L940.9 1330.6Z" fill="none" stroke="#ea2236" stroke-width="3" stroke-linejoin="miter" stroke-miterlimit="10"/><path d="M952.7 1315.4L960.8 1319.9L952.7 1324.3Z" fill="none" stroke="#ea2236" stroke-width="3" stroke-linejoin="miter" stroke-miterlimit="10"/><path d="M964.4 1310L972.6 1314.4L964.4 1318.9Z" fill="none" stroke="#ea2236" stroke-width="3" stroke-linejoin="miter" stroke-miterlimit="10"/><path d="M976.2 1305.1L984.3 1309.5L976.2 1314Z" fill="none" stroke="#ea2236" stroke-width="3" stroke-linejoin="miter" stroke-miterlimit="10"/><path d="M987.9 1301.2L996.1 1305.7L987.9 1310.1Z" fill="none" stroke="#ea2236" stroke-width="3" stroke-linejoin="miter" stroke-miterlimit="10"/><path d="M999.7 1298.3L1007.8 1302.7L999.7 1307.2Z" fill="none" stroke="#ea2236" stroke-width="3" stroke-linejoin="miter" stroke-miterlimit="10"/><path d="M1011.4 1296.3L1019.6 1300.8L1011.4 1305.2Z" fill="none" stroke="#ea2236" stroke-width="3" stroke-linejoin="miter" stroke-miterlimit="10"/><path d="M1023.2 1294.4L1031.3 1298.8L1023.2 1303.3Z" fill="none" stroke="#ea2236" stroke-width="3" stroke-linejoin="miter" stroke-miterlimit="10"/><path d="M1034.9 1293.4L1043.1 1297.9L1034.9 1302.3Z" fill="none" stroke="#ea2236" stroke-width="3" stroke-linejoin="miter" stroke-miterlimit="10"/><path d="M1046.7 1292L1054.8 1296.5L1046.7 1301Z" fill="none" stroke="#ea2236" stroke-width="3" stroke-linejoin="miter" stroke-miterlimit="10"/><path d="M1058.4 1291.4L1066.6 1295.9L1058.4 1300.4Z" fill="none" stroke="#ea2236" stroke-width="3" stroke-linejoin="miter" stroke-miterlimit="10"/><path d="M1070.2 1290.5L1078.3 1294.9L1070.2 1299.4Z" fill="none" stroke="#ea2236" stroke-width="3" stroke-linejoin="miter" stroke-miterlimit="10"/><path d="M1081.9 1288.5L1090.1 1293L1081.9 1297.5Z" fill="none" stroke="#ea2236" stroke-width="3" stroke-linejoin="miter" stroke-miterlimit="10"/><path d="M1093.7 1287.5L1101.8 1292L1093.7 1296.5Z" fill="none" stroke="#ea2236" stroke-width="3" stroke-linejoin="miter" stroke-miterlimit="10"/></g>
<g><circle cx="614.2" cy="1672.8" r="7" fill="#7c2a8a"/><circle cx="626" cy="1661.5" r="7" fill="#7c2a8a"/><circle cx="637.8" cy="1641.5" r="7" fill="#7c2a8a"/><circle cx="649.5" cy="1614" r="7" fill="#7c2a8a"/><circle cx="661.2" cy="1589" r="7" fill="#7c2a8a"/><circle cx="673" cy="1566.5" r="7" fill="#7c2a8a"/><circle cx="684.8" cy="1544.5" r="7" fill="#7c2a8a"/><circle cx="696.5" cy="1517" r="7" fill="#7c2a8a"/><circle cx="708.2" cy="1494.5" r="7" fill="#7c2a8a"/><circle cx="720" cy="1470.5" r="7" fill="#7c2a8a"/><circle cx="731.8" cy="1441.2" r="7" fill="#7c2a8a"/><circle cx="743.5" cy="1416.2" r="7" fill="#7c2a8a"/><circle cx="755.2" cy="1389.2" r="7" fill="#7c2a8a"/><circle cx="767" cy="1371.2" r="7" fill="#7c2a8a"/><circle cx="778.8" cy="1354.2" r="7" fill="#7c2a8a"/><circle cx="790.5" cy="1339.2" r="7" fill="#7c2a8a"/><circle cx="802.2" cy="1326.2" r="7" fill="#7c2a8a"/><circle cx="814" cy="1317.3" r="7" fill="#7c2a8a"/><circle cx="825.8" cy="1306" r="7" fill="#7c2a8a"/><circle cx="837.5" cy="1294.9" r="7" fill="#7c2a8a"/><circle cx="849.2" cy="1288.1" r="7" fill="#7c2a8a"/><circle cx="861" cy="1280.7" r="7" fill="#7c2a8a"/><circle cx="872.8" cy="1271.5" r="7" fill="#7c2a8a"/><circle cx="884.5" cy="1264.7" r="7" fill="#7c2a8a"/><circle cx="896.2" cy="1256.9" r="7" fill="#7c2a8a"/><circle cx="908" cy="1250.1" r="7" fill="#7c2a8a"/><circle cx="919.8" cy="1248.7" r="7" fill="#7c2a8a"/><circle cx="931.5" cy="1247.6" r="7" fill="#7c2a8a"/><circle cx="943.2" cy="1245.2" r="7" fill="#7c2a8a"/><circle cx="955" cy="1243.3" r="7" fill="#7c2a8a"/><circle cx="966.8" cy="1241.3" r="7" fill="#7c2a8a"/><circle cx="978.5" cy="1237.4" r="7" fill="#7c2a8a"/><circle cx="990.2" cy="1235.1" r="7" fill="#7c2a8a"/><circle cx="1002" cy="1233.2" r="7" fill="#7c2a8a"/><circle cx="1013.8" cy="1230.6" r="7" fill="#7c2a8a"/><circle cx="1025.5" cy="1228.7" r="7" fill="#7c2a8a"/><circle cx="1037.2" cy="1226.7" r="7" fill="#7c2a8a"/><circle cx="1049" cy="1224.8" r="7" fill="#7c2a8a"/><circle cx="1060.8" cy="1222.8" r="7" fill="#7c2a8a"/><circle cx="1072.5" cy="1221.5" r="7" fill="#7c2a8a"/><circle cx="1084.2" cy="1219.9" r="7" fill="#7c2a8a"/><circle cx="1096" cy="1218.9" r="7" fill="#7c2a8a"/></g>
<g><path d="M618.8 1666.8L606.2 1672.8L618.8 1678.7Z" fill="#129a4b"/><path d="M630.5 1650.6L618 1656.5L630.5 1662.4Z" fill="#129a4b"/><path d="M642.2 1634.3L629.8 1640.2L642.2 1646.2Z" fill="#129a4b"/><path d="M654 1615.6L641.5 1621.5L654 1627.4Z" fill="#129a4b"/><path d="M665.8 1599.3L653.2 1605.2L665.8 1611.2Z" fill="#129a4b"/><path d="M677.5 1586.8L665 1592.8L677.5 1598.7Z" fill="#129a4b"/><path d="M689.2 1571.8L676.8 1577.8L689.2 1583.7Z" fill="#129a4b"/><path d="M701 1556.6L688.5 1562.5L701 1568.4Z" fill="#129a4b"/><path d="M712.8 1542.8L700.2 1548.8L712.8 1554.7Z" fill="#129a4b"/><path d="M724.5 1516.6L712 1522.5L724.5 1528.4Z" fill="#129a4b"/><path d="M736.2 1496.1L723.8 1502L736.2 1507.9Z" fill="#129a4b"/><path d="M748 1472.1L735.5 1478L748 1483.9Z" fill="#129a4b"/><path d="M759.8 1443.3L747.2 1449.2L759.8 1455.2Z" fill="#129a4b"/><path d="M771.5 1422.8L759 1428.8L771.5 1434.7Z" fill="#129a4b"/><path d="M783.2 1408.3L770.8 1414.2L783.2 1420.2Z" fill="#129a4b"/><path d="M795 1392.8L782.5 1398.8L795 1404.7Z" fill="#129a4b"/><path d="M806.8 1374.1L794.2 1380L806.8 1385.9Z" fill="#129a4b"/><path d="M818.5 1362.8L806 1368.8L818.5 1374.7Z" fill="#129a4b"/><path d="M830.2 1349.6L817.8 1355.5L830.2 1361.4Z" fill="#129a4b"/><path d="M842 1340.3L829.5 1346.2L842 1352.2Z" fill="#129a4b"/><path d="M853.8 1326.6L841.2 1332.5L853.8 1338.4Z" fill="#129a4b"/><path d="M865.5 1315.3L853 1321.2L865.5 1327.2Z" fill="#129a4b"/><path d="M877.2 1299.8L864.8 1305.7L877.2 1311.6Z" fill="#129a4b"/><path d="M889 1282.2L876.5 1288.1L889 1294Z" fill="#129a4b"/><path d="M900.8 1270.5L888.2 1276.4L900.8 1282.3Z" fill="#129a4b"/><path d="M912.5 1265.1L900 1271L912.5 1276.9Z" fill="#129a4b"/><path d="M924.2 1252L911.8 1257.9L924.2 1263.8Z" fill="#129a4b"/><path d="M936 1247.1L923.5 1253L936 1258.9Z" fill="#129a4b"/><path d="M947.8 1242.3L935.2 1248.2L947.8 1254.1Z" fill="#129a4b"/><path d="M959.5 1237.4L947 1243.3L959.5 1249.2Z" fill="#129a4b"/><path d="M971.2 1232.5L958.8 1238.4L971.2 1244.3Z" fill="#129a4b"/><path d="M983 1227.3L970.5 1233.2L983 1239.1Z" fill="#129a4b"/><path d="M994.8 1222.8L982.2 1228.7L994.8 1234.6Z" fill="#129a4b"/><path d="M1006.5 1217.9L994 1223.8L1006.5 1229.7Z" fill="#129a4b"/><path d="M1018.2 1213L1005.8 1218.9L1018.2 1224.8Z" fill="#129a4b"/><path d="M1030 1208.2L1017.5 1214.1L1030 1220Z" fill="#129a4b"/><path d="M1041.8 1205.2L1029.2 1211.1L1041.8 1217Z" fill="#129a4b"/><path d="M1053.5 1202.3L1041 1208.2L1053.5 1214.1Z" fill="#129a4b"/><path d="M1065.2 1200.4L1052.8 1206.3L1065.2 1212.2Z" fill="#129a4b"/><path d="M1077 1198.8L1064.5 1204.7L1077 1210.6Z" fill="#129a4b"/><path d="M1088.8 1197.4L1076.2 1203.3L1088.8 1209.2Z" fill="#129a4b"/><path d="M1100.5 1196.5L1088 1202.4L1100.5 1208.3Z" fill="#129a4b"/></g>
<g><circle cx="614.2" cy="1672.8" r="6.6" fill="none" stroke="#17121f" stroke-width="2"/><circle cx="626" cy="1670.8" r="6.6" fill="none" stroke="#17121f" stroke-width="2"/><circle cx="637.8" cy="1666.5" r="6.6" fill="none" stroke="#17121f" stroke-width="2"/><circle cx="649.5" cy="1659" r="6.6" fill="none" stroke="#17121f" stroke-width="2"/><circle cx="661.2" cy="1650.8" r="6.6" fill="none" stroke="#17121f" stroke-width="2"/><circle cx="673" cy="1639.5" r="6.6" fill="none" stroke="#17121f" stroke-width="2"/><circle cx="684.8" cy="1621.5" r="6.6" fill="none" stroke="#17121f" stroke-width="2"/><circle cx="696.5" cy="1600.8" r="6.6" fill="none" stroke="#17121f" stroke-width="2"/><circle cx="708.2" cy="1570.8" r="6.6" fill="none" stroke="#17121f" stroke-width="2"/><circle cx="720" cy="1545" r="6.6" fill="none" stroke="#17121f" stroke-width="2"/><circle cx="731.8" cy="1519.2" r="6.6" fill="none" stroke="#17121f" stroke-width="2"/><circle cx="743.5" cy="1489.2" r="6.6" fill="none" stroke="#17121f" stroke-width="2"/><circle cx="755.2" cy="1467" r="6.6" fill="none" stroke="#17121f" stroke-width="2"/><circle cx="767" cy="1448.2" r="6.6" fill="none" stroke="#17121f" stroke-width="2"/><circle cx="778.8" cy="1427.5" r="6.6" fill="none" stroke="#17121f" stroke-width="2"/><circle cx="790.5" cy="1407" r="6.6" fill="none" stroke="#17121f" stroke-width="2"/><circle cx="802.2" cy="1386.2" r="6.6" fill="none" stroke="#17121f" stroke-width="2"/><circle cx="814" cy="1371.9" r="6.6" fill="none" stroke="#17121f" stroke-width="2"/><circle cx="825.8" cy="1355.3" r="6.6" fill="none" stroke="#17121f" stroke-width="2"/><circle cx="837.5" cy="1333.9" r="6.6" fill="none" stroke="#17121f" stroke-width="2"/><circle cx="849.2" cy="1318.3" r="6.6" fill="none" stroke="#17121f" stroke-width="2"/><circle cx="861" cy="1302.1" r="6.6" fill="none" stroke="#17121f" stroke-width="2"/><circle cx="872.8" cy="1292" r="6.6" fill="none" stroke="#17121f" stroke-width="2"/><circle cx="884.5" cy="1284.2" r="6.6" fill="none" stroke="#17121f" stroke-width="2"/><circle cx="896.2" cy="1277.4" r="6.6" fill="none" stroke="#17121f" stroke-width="2"/><circle cx="908" cy="1274.5" r="6.6" fill="none" stroke="#17121f" stroke-width="2"/><circle cx="919.8" cy="1268.2" r="6.6" fill="none" stroke="#17121f" stroke-width="2"/><circle cx="931.5" cy="1263" r="6.6" fill="none" stroke="#17121f" stroke-width="2"/><circle cx="943.2" cy="1256.7" r="6.6" fill="none" stroke="#17121f" stroke-width="2"/><circle cx="955" cy="1253.2" r="6.6" fill="none" stroke="#17121f" stroke-width="2"/><circle cx="966.8" cy="1249.7" r="6.6" fill="none" stroke="#17121f" stroke-width="2"/><circle cx="978.5" cy="1244.8" r="6.6" fill="none" stroke="#17121f" stroke-width="2"/><circle cx="990.2" cy="1241.7" r="6.6" fill="none" stroke="#17121f" stroke-width="2"/><circle cx="1002" cy="1238.4" r="6.6" fill="none" stroke="#17121f" stroke-width="2"/><circle cx="1013.8" cy="1235.7" r="6.6" fill="none" stroke="#17121f" stroke-width="2"/><circle cx="1025.5" cy="1232.8" r="6.6" fill="none" stroke="#17121f" stroke-width="2"/><circle cx="1037.2" cy="1230.4" r="6.6" fill="none" stroke="#17121f" stroke-width="2"/><circle cx="1049" cy="1228.1" r="6.6" fill="none" stroke="#17121f" stroke-width="2"/><circle cx="1060.8" cy="1225.7" r="6.6" fill="none" stroke="#17121f" stroke-width="2"/><circle cx="1072.5" cy="1223.4" r="6.6" fill="none" stroke="#17121f" stroke-width="2"/><circle cx="1084.2" cy="1221.3" r="6.6" fill="none" stroke="#17121f" stroke-width="2"/><circle cx="1096" cy="1219.7" r="6.6" fill="none" stroke="#17121f" stroke-width="2"/></g>
<g><path d="M610.9 1666.9H617.6L615.6 1672.8L617.6 1678.6H610.9L612.9 1672.8Z" fill="#fbdf98" stroke="#f39a1e" stroke-width="1.7" stroke-linejoin="miter"/><path d="M622.6 1650.7H629.4L627.4 1656.5L629.4 1662.3H622.6L624.6 1656.5Z" fill="#fbdf98" stroke="#f39a1e" stroke-width="1.7" stroke-linejoin="miter"/><path d="M634.4 1620.2H641.1L639.1 1626L641.1 1631.8H634.4L636.4 1626Z" fill="#fbdf98" stroke="#f39a1e" stroke-width="1.7" stroke-linejoin="miter"/><path d="M646.1 1594.9H652.9L650.9 1600.8L652.9 1606.6H646.1L648.1 1600.8Z" fill="#fbdf98" stroke="#f39a1e" stroke-width="1.7" stroke-linejoin="miter"/><path d="M657.9 1573.2H664.6L662.6 1579L664.6 1584.8H657.9L659.9 1579Z" fill="#fbdf98" stroke="#f39a1e" stroke-width="1.7" stroke-linejoin="miter"/><path d="M669.6 1553.4H676.4L674.4 1559.2L676.4 1565.1H669.6L671.6 1559.2Z" fill="#fbdf98" stroke="#f39a1e" stroke-width="1.7" stroke-linejoin="miter"/><path d="M681.4 1536.7H688.1L686.1 1542.5L688.1 1548.3H681.4L683.4 1542.5Z" fill="#fbdf98" stroke="#f39a1e" stroke-width="1.7" stroke-linejoin="miter"/><path d="M693.1 1517.4H699.9L697.9 1523.2L699.9 1529.1H693.1L695.1 1523.2Z" fill="#fbdf98" stroke="#f39a1e" stroke-width="1.7" stroke-linejoin="miter"/><path d="M704.9 1496.2H711.6L709.6 1502L711.6 1507.8H704.9L706.9 1502Z" fill="#fbdf98" stroke="#f39a1e" stroke-width="1.7" stroke-linejoin="miter"/><path d="M716.6 1475.4H723.4L721.4 1481.2L723.4 1487.1H716.6L718.6 1481.2Z" fill="#fbdf98" stroke="#f39a1e" stroke-width="1.7" stroke-linejoin="miter"/><path d="M728.4 1456.7H735.1L733.1 1462.5L735.1 1468.3H728.4L730.4 1462.5Z" fill="#fbdf98" stroke="#f39a1e" stroke-width="1.7" stroke-linejoin="miter"/><path d="M740.1 1439.7H746.9L744.9 1445.5L746.9 1451.3H740.1L742.1 1445.5Z" fill="#fbdf98" stroke="#f39a1e" stroke-width="1.7" stroke-linejoin="miter"/><path d="M751.9 1428.7H758.6L756.6 1434.5L758.6 1440.3H751.9L753.9 1434.5Z" fill="#fbdf98" stroke="#f39a1e" stroke-width="1.7" stroke-linejoin="miter"/><path d="M763.6 1409.9H770.4L768.4 1415.8L770.4 1421.6H763.6L765.6 1415.8Z" fill="#fbdf98" stroke="#f39a1e" stroke-width="1.7" stroke-linejoin="miter"/><path d="M775.4 1390.4H782.1L780.1 1396.2L782.1 1402.1H775.4L777.4 1396.2Z" fill="#fbdf98" stroke="#f39a1e" stroke-width="1.7" stroke-linejoin="miter"/><path d="M787.1 1378.7H793.9L791.9 1384.5L793.9 1390.3H787.1L789.1 1384.5Z" fill="#fbdf98" stroke="#f39a1e" stroke-width="1.7" stroke-linejoin="miter"/><path d="M798.9 1367.9H805.6L803.6 1373.8L805.6 1379.6H798.9L800.9 1373.8Z" fill="#fbdf98" stroke="#f39a1e" stroke-width="1.7" stroke-linejoin="miter"/><path d="M810.6 1362.2H817.4L815.4 1368L817.4 1373.8H810.6L812.6 1368Z" fill="#fbdf98" stroke="#f39a1e" stroke-width="1.7" stroke-linejoin="miter"/><path d="M822.4 1350.5H829.1L827.1 1356.3L829.1 1362.2H822.4L824.4 1356.3Z" fill="#fbdf98" stroke="#f39a1e" stroke-width="1.7" stroke-linejoin="miter"/><path d="M834.1 1342.7H840.9L838.9 1348.5L840.9 1354.4H834.1L836.1 1348.5Z" fill="#fbdf98" stroke="#f39a1e" stroke-width="1.7" stroke-linejoin="miter"/><path d="M845.9 1336.8H852.6L850.6 1342.7L852.6 1348.5H845.9L847.9 1342.7Z" fill="#fbdf98" stroke="#f39a1e" stroke-width="1.7" stroke-linejoin="miter"/><path d="M857.6 1329H864.4L862.4 1334.9L864.4 1340.7H857.6L859.6 1334.9Z" fill="#fbdf98" stroke="#f39a1e" stroke-width="1.7" stroke-linejoin="miter"/><path d="M869.4 1321.2H876.1L874.1 1327.1L876.1 1332.9H869.4L871.4 1327.1Z" fill="#fbdf98" stroke="#f39a1e" stroke-width="1.7" stroke-linejoin="miter"/><path d="M881.1 1315.4H887.9L885.9 1321.2L887.9 1327.1H881.1L883.1 1321.2Z" fill="#fbdf98" stroke="#f39a1e" stroke-width="1.7" stroke-linejoin="miter"/><path d="M892.9 1310.5H899.6L897.6 1316.4L899.6 1322.2H892.9L894.9 1316.4Z" fill="#fbdf98" stroke="#f39a1e" stroke-width="1.7" stroke-linejoin="miter"/><path d="M904.6 1301.8H911.4L909.4 1307.6L911.4 1313.5H904.6L906.6 1307.6Z" fill="#fbdf98" stroke="#f39a1e" stroke-width="1.7" stroke-linejoin="miter"/><path d="M916.4 1291H923.1L921.1 1296.9L923.1 1302.7H916.4L918.4 1296.9Z" fill="#fbdf98" stroke="#f39a1e" stroke-width="1.7" stroke-linejoin="miter"/><path d="M928.1 1279.3H934.9L932.9 1285.2L934.9 1291H928.1L930.1 1285.2Z" fill="#fbdf98" stroke="#f39a1e" stroke-width="1.7" stroke-linejoin="miter"/><path d="M939.9 1273.5H946.6L944.6 1279.3L946.6 1285.2H939.9L941.9 1279.3Z" fill="#fbdf98" stroke="#f39a1e" stroke-width="1.7" stroke-linejoin="miter"/><path d="M951.6 1269.2H958.4L956.4 1275.1L958.4 1280.9H951.6L953.6 1275.1Z" fill="#fbdf98" stroke="#f39a1e" stroke-width="1.7" stroke-linejoin="miter"/><path d="M963.4 1266.7H970.1L968.1 1272.5L970.1 1278.4H963.4L965.4 1272.5Z" fill="#fbdf98" stroke="#f39a1e" stroke-width="1.7" stroke-linejoin="miter"/><path d="M975.1 1263.7H981.9L979.9 1269.6L981.9 1275.4H975.1L977.1 1269.6Z" fill="#fbdf98" stroke="#f39a1e" stroke-width="1.7" stroke-linejoin="miter"/><path d="M986.9 1260.8H993.6L991.6 1266.7L993.6 1272.5H986.9L988.9 1266.7Z" fill="#fbdf98" stroke="#f39a1e" stroke-width="1.7" stroke-linejoin="miter"/><path d="M998.6 1255H1005.4L1003.4 1260.8L1005.4 1266.7H998.6L1000.6 1260.8Z" fill="#fbdf98" stroke="#f39a1e" stroke-width="1.7" stroke-linejoin="miter"/><path d="M1010.4 1252.6H1017.1L1015.1 1258.5L1017.1 1264.3H1010.4L1012.4 1258.5Z" fill="#fbdf98" stroke="#f39a1e" stroke-width="1.7" stroke-linejoin="miter"/><path d="M1022.1 1251.1H1028.9L1026.9 1256.9L1028.9 1262.8H1022.1L1024.1 1256.9Z" fill="#fbdf98" stroke="#f39a1e" stroke-width="1.7" stroke-linejoin="miter"/><path d="M1033.8 1250.7H1040.7L1038.7 1256.5L1040.7 1262.4H1033.8L1035.8 1256.5Z" fill="#fbdf98" stroke="#f39a1e" stroke-width="1.7" stroke-linejoin="miter"/><path d="M1045.6 1249.1H1052.4L1050.4 1255L1052.4 1260.8H1045.6L1047.6 1255Z" fill="#fbdf98" stroke="#f39a1e" stroke-width="1.7" stroke-linejoin="miter"/><path d="M1057.3 1248.7H1064.2L1062.2 1254.6L1064.2 1260.4H1057.3L1059.3 1254.6Z" fill="#fbdf98" stroke="#f39a1e" stroke-width="1.7" stroke-linejoin="miter"/><path d="M1069.1 1248.7H1075.9L1073.9 1254.6L1075.9 1260.4H1069.1L1071.1 1254.6Z" fill="#fbdf98" stroke="#f39a1e" stroke-width="1.7" stroke-linejoin="miter"/><path d="M1080.8 1248.7H1087.7L1085.7 1254.6L1087.7 1260.4H1080.8L1082.8 1254.6Z" fill="#fbdf98" stroke="#f39a1e" stroke-width="1.7" stroke-linejoin="miter"/><path d="M1092.6 1248.7H1099.4L1097.4 1254.6L1099.4 1260.4H1092.6L1094.6 1254.6Z" fill="#fbdf98" stroke="#f39a1e" stroke-width="1.7" stroke-linejoin="miter"/></g>
</g>
<text x="658" y="1216.3" class="ti" font-size="18.6">(h)Ca-GrQc</text>
<path d="M915.3 1489.5L922 1482.8L928.7 1489.5L922 1496.2Z" fill="none" stroke="#3b3fa0" stroke-width="2"/>
<text x="933.8" y="1494.8" class="lgb" font-size="15.8">BC</text>
<path d="M914.9 1513.2L922 1500.7L929.1 1513.2Z" fill="#1d6079"/>
<text x="933.8" y="1513.6" class="lgb" font-size="15.8">CR</text>
<path d="M919.5 1522.3L928.2 1527.1L919.5 1531.9Z" fill="none" stroke="#ea2236" stroke-width="3" stroke-linejoin="miter" stroke-miterlimit="10"/>
<text x="933.8" y="1532.4" class="lgb" font-size="15.8">DC</text>
<circle cx="922" cy="1545.9" r="7.3" fill="#7c2a8a"/>
<text x="933.8" y="1551.2" class="lgb" font-size="15.8">EC</text>
<circle cx="922" cy="1564.7" r="6.9" fill="none" stroke="#17121f" stroke-width="2"/>
<text x="933.8" y="1570" class="lgb" font-size="15.8">FA</text>
<path d="M926.5 1576.7L913.6 1583.5L926.5 1590.3Z" fill="#129a4b"/>
<text x="933.8" y="1588.8" class="lgb" font-size="15.8">LR</text>
<path d="M918.4 1596.3H925.6L923.4 1602.3L925.6 1608.3H918.4L920.6 1602.3Z" fill="#fbdf98" stroke="#f39a1e" stroke-width="1.7" stroke-linejoin="miter"/>
<text x="933.8" y="1607.6" class="lgb" font-size="15.8">PR</text>
<text x="855.5" y="1742" text-anchor="middle" class="ti" font-size="18">Time</text>
<rect x="1150.8" y="1153.7" width="482.5" height="529.1" fill="none" stroke="#0a0a0a" stroke-width="2.4"/>
<path d="M1141.5 1163.4H1150.8" stroke="#111" stroke-width="1.9"/>
<text transform="translate(1140.5 1171.1) scale(0.93 1)" text-anchor="end" class="ax" font-size="19.8">.45</text>
<path d="M1141.5 1334.6H1150.8" stroke="#111" stroke-width="1.9"/>
<text transform="translate(1140.5 1342.3) scale(0.93 1)" text-anchor="end" class="ax" font-size="19.8">.30</text>
<path d="M1141.5 1506.3H1150.8" stroke="#111" stroke-width="1.9"/>
<text transform="translate(1140.5 1514) scale(0.93 1)" text-anchor="end" class="ax" font-size="19.8">.15</text>
<path d="M1141.5 1677H1150.8" stroke="#111" stroke-width="1.9"/>
<text transform="translate(1140.5 1684.7) scale(0.93 1)" text-anchor="end" class="ax" font-size="19.8">.00</text>
<path d="M1155 1682.8V1692" stroke="#111" stroke-width="1.9"/>
<text transform="translate(1155 1712) scale(0.93 1)" text-anchor="middle" class="ax" font-size="19.8">0</text>
<path d="M1197.6 1682.8V1692" stroke="#111" stroke-width="1.9"/>
<text transform="translate(1197.6 1712) scale(0.93 1)" text-anchor="middle" class="ax" font-size="19.8">3</text>
<path d="M1240.1 1682.8V1692" stroke="#111" stroke-width="1.9"/>
<text transform="translate(1240.1 1712) scale(0.93 1)" text-anchor="middle" class="ax" font-size="19.8">6</text>
<path d="M1282.7 1682.8V1692" stroke="#111" stroke-width="1.9"/>
<text transform="translate(1282.7 1712) scale(0.93 1)" text-anchor="middle" class="ax" font-size="19.8">9</text>
<path d="M1325.3 1682.8V1692" stroke="#111" stroke-width="1.9"/>
<text transform="translate(1325.3 1712) scale(0.93 1)" text-anchor="middle" class="ax" font-size="19.8">12</text>
<path d="M1367.8 1682.8V1692" stroke="#111" stroke-width="1.9"/>
<text transform="translate(1367.8 1712) scale(0.93 1)" text-anchor="middle" class="ax" font-size="19.8">15</text>
<path d="M1410.4 1682.8V1692" stroke="#111" stroke-width="1.9"/>
<text transform="translate(1410.4 1712) scale(0.93 1)" text-anchor="middle" class="ax" font-size="19.8">18</text>
<path d="M1453 1682.8V1692" stroke="#111" stroke-width="1.9"/>
<text transform="translate(1453 1712) scale(0.93 1)" text-anchor="middle" class="ax" font-size="19.8">21</text>
<path d="M1495.6 1682.8V1692" stroke="#111" stroke-width="1.9"/>
<text transform="translate(1495.6 1712) scale(0.93 1)" text-anchor="middle" class="ax" font-size="19.8">24</text>
<path d="M1538.1 1682.8V1692" stroke="#111" stroke-width="1.9"/>
<text transform="translate(1538.1 1712) scale(0.93 1)" text-anchor="middle" class="ax" font-size="19.8">27</text>
<path d="M1580.7 1682.8V1692" stroke="#111" stroke-width="1.9"/>
<text transform="translate(1580.7 1712) scale(0.93 1)" text-anchor="middle" class="ax" font-size="19.8">30</text>
<path d="M1623.3 1682.8V1692" stroke="#111" stroke-width="1.9"/>
<text transform="translate(1623.3 1712) scale(0.93 1)" text-anchor="middle" class="ax" font-size="19.8">33</text>
<g clip-path="url(#ci)">
<g><path d="M1146.4 1666.5L1155 1657.9L1163.6 1666.5L1155 1675.1Z" fill="none" stroke="#3c55b6" stroke-width="2.3"/><path d="M1160.6 1649L1169.2 1640.4L1177.8 1649L1169.2 1657.6Z" fill="none" stroke="#3c55b6" stroke-width="2.3"/><path d="M1174.8 1627.2L1183.4 1618.6L1192 1627.2L1183.4 1635.9Z" fill="none" stroke="#3c55b6" stroke-width="2.3"/><path d="M1189 1605.8L1197.6 1597.1L1206.2 1605.8L1197.6 1614.4Z" fill="none" stroke="#3c55b6" stroke-width="2.3"/><path d="M1203.2 1582.8L1211.8 1574.1L1220.4 1582.8L1211.8 1591.4Z" fill="none" stroke="#3c55b6" stroke-width="2.3"/><path d="M1217.3 1544.5L1226 1535.9L1234.6 1544.5L1226 1553.1Z" fill="none" stroke="#3c55b6" stroke-width="2.3"/><path d="M1231.5 1503L1240.1 1494.4L1248.7 1503L1240.1 1511.6Z" fill="none" stroke="#3c55b6" stroke-width="2.3"/><path d="M1245.7 1467.5L1254.3 1458.9L1262.9 1467.5L1254.3 1476.1Z" fill="none" stroke="#3c55b6" stroke-width="2.3"/><path d="M1259.9 1431.8L1268.5 1423.1L1277.1 1431.8L1268.5 1440.4Z" fill="none" stroke="#3c55b6" stroke-width="2.3"/><path d="M1274.1 1402L1282.7 1393.4L1291.3 1402L1282.7 1410.6Z" fill="none" stroke="#3c55b6" stroke-width="2.3"/><path d="M1288.3 1375L1296.9 1366.4L1305.5 1375L1296.9 1383.6Z" fill="none" stroke="#3c55b6" stroke-width="2.3"/><path d="M1302.5 1348L1311.1 1339.4L1319.7 1348L1311.1 1356.6Z" fill="none" stroke="#3c55b6" stroke-width="2.3"/><path d="M1316.7 1325L1325.3 1316.4L1333.9 1325L1325.3 1333.6Z" fill="none" stroke="#3c55b6" stroke-width="2.3"/><path d="M1330.9 1312.5L1339.5 1303.9L1348.1 1312.5L1339.5 1321.1Z" fill="none" stroke="#3c55b6" stroke-width="2.3"/><path d="M1345.1 1294.9L1353.7 1286.3L1362.3 1294.9L1353.7 1303.5Z" fill="none" stroke="#3c55b6" stroke-width="2.3"/><path d="M1359.2 1278.4L1367.8 1269.8L1376.5 1278.4L1367.8 1287Z" fill="none" stroke="#3c55b6" stroke-width="2.3"/><path d="M1373.4 1271.5L1382 1262.9L1390.6 1271.5L1382 1280.2Z" fill="none" stroke="#3c55b6" stroke-width="2.3"/><path d="M1387.6 1264.1L1396.2 1255.5L1404.8 1264.1L1396.2 1272.8Z" fill="none" stroke="#3c55b6" stroke-width="2.3"/><path d="M1401.8 1258.9L1410.4 1250.3L1419 1258.9L1410.4 1267.5Z" fill="none" stroke="#3c55b6" stroke-width="2.3"/><path d="M1416 1252.6L1424.6 1244L1433.2 1252.6L1424.6 1261.3Z" fill="none" stroke="#3c55b6" stroke-width="2.3"/><path d="M1430.2 1248.2L1438.8 1239.6L1447.4 1248.2L1438.8 1256.8Z" fill="none" stroke="#3c55b6" stroke-width="2.3"/><path d="M1444.4 1246.2L1453 1237.6L1461.6 1246.2L1453 1254.8Z" fill="none" stroke="#3c55b6" stroke-width="2.3"/><path d="M1458.6 1244.8L1467.2 1236.2L1475.8 1244.8L1467.2 1253.5Z" fill="none" stroke="#3c55b6" stroke-width="2.3"/><path d="M1472.8 1243.3L1481.4 1234.7L1490 1243.3L1481.4 1251.9Z" fill="none" stroke="#3c55b6" stroke-width="2.3"/><path d="M1487 1242.3L1495.6 1233.7L1504.2 1242.3L1495.6 1250.9Z" fill="none" stroke="#3c55b6" stroke-width="2.3"/><path d="M1501.1 1241.3L1509.8 1232.7L1518.4 1241.3L1509.8 1249.9Z" fill="none" stroke="#3c55b6" stroke-width="2.3"/><path d="M1515.3 1241L1523.9 1232.3L1532.5 1241L1523.9 1249.6Z" fill="none" stroke="#3c55b6" stroke-width="2.3"/><path d="M1529.5 1240.4L1538.1 1231.8L1546.7 1240.4L1538.1 1249Z" fill="none" stroke="#3c55b6" stroke-width="2.3"/><path d="M1543.7 1240.4L1552.3 1231.8L1560.9 1240.4L1552.3 1249Z" fill="none" stroke="#3c55b6" stroke-width="2.3"/><path d="M1557.9 1240.4L1566.5 1231.8L1575.1 1240.4L1566.5 1249Z" fill="none" stroke="#3c55b6" stroke-width="2.3"/><path d="M1572.1 1240.4L1580.7 1231.8L1589.3 1240.4L1580.7 1249Z" fill="none" stroke="#3c55b6" stroke-width="2.3"/><path d="M1586.3 1240.4L1594.9 1231.8L1603.5 1240.4L1594.9 1249Z" fill="none" stroke="#3c55b6" stroke-width="2.3"/><path d="M1600.5 1240.4L1609.1 1231.8L1617.7 1240.4L1609.1 1249Z" fill="none" stroke="#3c55b6" stroke-width="2.3"/><path d="M1614.7 1240.4L1623.3 1231.8L1631.9 1240.4L1623.3 1249Z" fill="none" stroke="#3c55b6" stroke-width="2.3"/></g>
<g><path d="M1147.7 1671.9L1155 1658.3L1162.3 1671.9Z" fill="#1d6079"/><path d="M1161.9 1655.6L1169.2 1642.1L1176.5 1655.6Z" fill="#1d6079"/><path d="M1176.1 1637.4L1183.4 1623.8L1190.7 1637.4Z" fill="#1d6079"/><path d="M1190.2 1611.9L1197.6 1598.3L1204.9 1611.9Z" fill="#1d6079"/><path d="M1204.4 1580.4L1211.8 1566.8L1219.1 1580.4Z" fill="#1d6079"/><path d="M1218.6 1531.9L1226 1518.3L1233.3 1531.9Z" fill="#1d6079"/><path d="M1232.8 1490.4L1240.1 1476.8L1247.5 1490.4Z" fill="#1d6079"/><path d="M1247 1450.6L1254.3 1437.1L1261.6 1450.6Z" fill="#1d6079"/><path d="M1261.2 1405.9L1268.5 1392.3L1275.8 1405.9Z" fill="#1d6079"/><path d="M1275.4 1354.9L1282.7 1341.3L1290 1354.9Z" fill="#1d6079"/><path d="M1289.6 1322.4L1296.9 1308.8L1304.2 1322.4Z" fill="#1d6079"/><path d="M1303.8 1295.4L1311.1 1281.8L1318.4 1295.4Z" fill="#1d6079"/><path d="M1318 1269.6L1325.3 1256.1L1332.6 1269.6Z" fill="#1d6079"/><path d="M1332.2 1258L1339.5 1244.5L1346.8 1258Z" fill="#1d6079"/><path d="M1346.3 1242.8L1353.7 1229.3L1361 1242.8Z" fill="#1d6079"/><path d="M1360.5 1232.1L1367.8 1218.5L1375.2 1232.1Z" fill="#1d6079"/><path d="M1374.7 1219.8L1382 1206.3L1389.4 1219.8Z" fill="#1d6079"/><path d="M1388.9 1213.6L1396.2 1200L1403.5 1213.6Z" fill="#1d6079"/><path d="M1403.1 1208.1L1410.4 1194.6L1417.7 1208.1Z" fill="#1d6079"/><path d="M1417.3 1203.8L1424.6 1190.3L1431.9 1203.8Z" fill="#1d6079"/><path d="M1431.5 1199.9L1438.8 1186.4L1446.1 1199.9Z" fill="#1d6079"/><path d="M1445.7 1199L1453 1185.4L1460.3 1199Z" fill="#1d6079"/><path d="M1459.9 1198L1467.2 1184.4L1474.5 1198Z" fill="#1d6079"/><path d="M1474 1194.1L1481.4 1180.5L1488.7 1194.1Z" fill="#1d6079"/><path d="M1488.2 1194.1L1495.6 1180.5L1502.9 1194.1Z" fill="#1d6079"/><path d="M1502.4 1193.1L1509.8 1179.6L1517.1 1193.1Z" fill="#1d6079"/><path d="M1516.6 1192.7L1523.9 1179.2L1531.3 1192.7Z" fill="#1d6079"/><path d="M1530.8 1191.8L1538.1 1178.2L1545.5 1191.8Z" fill="#1d6079"/><path d="M1545 1190.6L1552.3 1177L1559.6 1190.6Z" fill="#1d6079"/><path d="M1559.2 1190.6L1566.5 1177L1573.8 1190.6Z" fill="#1d6079"/><path d="M1573.4 1190.6L1580.7 1177L1588 1190.6Z" fill="#1d6079"/><path d="M1587.6 1190.6L1594.9 1177L1602.2 1190.6Z" fill="#1d6079"/><path d="M1601.8 1190.6L1609.1 1177L1616.4 1190.6Z" fill="#1d6079"/><path d="M1616 1190.6L1623.3 1177L1630.6 1190.6Z" fill="#1d6079"/></g>
<g><path d="M1152.4 1661.1L1161.7 1666.5L1152.4 1671.9Z" fill="none" stroke="#f32a35" stroke-width="3.2" stroke-linejoin="miter" stroke-miterlimit="10"/><path d="M1166.6 1638.6L1175.9 1644L1166.6 1649.4Z" fill="none" stroke="#f32a35" stroke-width="3.2" stroke-linejoin="miter" stroke-miterlimit="10"/><path d="M1180.8 1602.3L1190.1 1607.8L1180.8 1613.2Z" fill="none" stroke="#f32a35" stroke-width="3.2" stroke-linejoin="miter" stroke-miterlimit="10"/><path d="M1194.9 1559.1L1204.2 1564.5L1194.9 1569.9Z" fill="none" stroke="#f32a35" stroke-width="3.2" stroke-linejoin="miter" stroke-miterlimit="10"/><path d="M1209.1 1529.6L1218.4 1535L1209.1 1540.4Z" fill="none" stroke="#f32a35" stroke-width="3.2" stroke-linejoin="miter" stroke-miterlimit="10"/><path d="M1223.3 1491.6L1232.6 1497L1223.3 1502.4Z" fill="none" stroke="#f32a35" stroke-width="3.2" stroke-linejoin="miter" stroke-miterlimit="10"/><path d="M1237.5 1447.1L1246.8 1452.5L1237.5 1457.9Z" fill="none" stroke="#f32a35" stroke-width="3.2" stroke-linejoin="miter" stroke-miterlimit="10"/><path d="M1251.7 1414.1L1261 1419.5L1251.7 1424.9Z" fill="none" stroke="#f32a35" stroke-width="3.2" stroke-linejoin="miter" stroke-miterlimit="10"/><path d="M1265.9 1382.1L1275.2 1387.5L1265.9 1392.9Z" fill="none" stroke="#f32a35" stroke-width="3.2" stroke-linejoin="miter" stroke-miterlimit="10"/><path d="M1280.1 1350.8L1289.4 1356.2L1280.1 1361.7Z" fill="none" stroke="#f32a35" stroke-width="3.2" stroke-linejoin="miter" stroke-miterlimit="10"/><path d="M1294.3 1330.1L1303.6 1335.5L1294.3 1340.9Z" fill="none" stroke="#f32a35" stroke-width="3.2" stroke-linejoin="miter" stroke-miterlimit="10"/><path d="M1308.5 1312.1L1317.8 1317.5L1308.5 1322.9Z" fill="none" stroke="#f32a35" stroke-width="3.2" stroke-linejoin="miter" stroke-miterlimit="10"/><path d="M1322.7 1292.6L1332 1298L1322.7 1303.4Z" fill="none" stroke="#f32a35" stroke-width="3.2" stroke-linejoin="miter" stroke-miterlimit="10"/><path d="M1336.8 1283.7L1346.1 1289.1L1336.8 1294.5Z" fill="none" stroke="#f32a35" stroke-width="3.2" stroke-linejoin="miter" stroke-miterlimit="10"/><path d="M1351 1272L1360.3 1277.4L1351 1282.8Z" fill="none" stroke="#f32a35" stroke-width="3.2" stroke-linejoin="miter" stroke-miterlimit="10"/><path d="M1365.2 1253.9L1374.5 1259.3L1365.2 1264.7Z" fill="none" stroke="#f32a35" stroke-width="3.2" stroke-linejoin="miter" stroke-miterlimit="10"/><path d="M1379.4 1245.1L1388.7 1250.5L1379.4 1255.9Z" fill="none" stroke="#f32a35" stroke-width="3.2" stroke-linejoin="miter" stroke-miterlimit="10"/><path d="M1393.6 1235.9L1402.9 1241.3L1393.6 1246.8Z" fill="none" stroke="#f32a35" stroke-width="3.2" stroke-linejoin="miter" stroke-miterlimit="10"/><path d="M1407.8 1230.5L1417.1 1235.9L1407.8 1241.3Z" fill="none" stroke="#f32a35" stroke-width="3.2" stroke-linejoin="miter" stroke-miterlimit="10"/><path d="M1422 1229.5L1431.3 1234.9L1422 1240.3Z" fill="none" stroke="#f32a35" stroke-width="3.2" stroke-linejoin="miter" stroke-miterlimit="10"/><path d="M1436.2 1229.1L1445.5 1234.5L1436.2 1239.9Z" fill="none" stroke="#f32a35" stroke-width="3.2" stroke-linejoin="miter" stroke-miterlimit="10"/><path d="M1450.4 1227.7L1459.7 1233.2L1450.4 1238.6Z" fill="none" stroke="#f32a35" stroke-width="3.2" stroke-linejoin="miter" stroke-miterlimit="10"/><path d="M1464.6 1226.2L1473.9 1231.6L1464.6 1237Z" fill="none" stroke="#f32a35" stroke-width="3.2" stroke-linejoin="miter" stroke-miterlimit="10"/><path d="M1478.7 1224.6L1488 1230L1478.7 1235.5Z" fill="none" stroke="#f32a35" stroke-width="3.2" stroke-linejoin="miter" stroke-miterlimit="10"/><path d="M1492.9 1223.3L1502.2 1228.7L1492.9 1234.1Z" fill="none" stroke="#f32a35" stroke-width="3.2" stroke-linejoin="miter" stroke-miterlimit="10"/><path d="M1507.1 1222.3L1516.4 1227.7L1507.1 1233.1Z" fill="none" stroke="#f32a35" stroke-width="3.2" stroke-linejoin="miter" stroke-miterlimit="10"/><path d="M1521.3 1221.3L1530.6 1226.7L1521.3 1232.1Z" fill="none" stroke="#f32a35" stroke-width="3.2" stroke-linejoin="miter" stroke-miterlimit="10"/><path d="M1535.5 1220.3L1544.8 1225.7L1535.5 1231.2Z" fill="none" stroke="#f32a35" stroke-width="3.2" stroke-linejoin="miter" stroke-miterlimit="10"/><path d="M1549.7 1219.9L1559 1225.4L1549.7 1230.8Z" fill="none" stroke="#f32a35" stroke-width="3.2" stroke-linejoin="miter" stroke-miterlimit="10"/><path d="M1563.9 1219.6L1573.2 1225L1563.9 1230.4Z" fill="none" stroke="#f32a35" stroke-width="3.2" stroke-linejoin="miter" stroke-miterlimit="10"/><path d="M1578.1 1219.2L1587.4 1224.6L1578.1 1230Z" fill="none" stroke="#f32a35" stroke-width="3.2" stroke-linejoin="miter" stroke-miterlimit="10"/><path d="M1592.3 1218.8L1601.6 1224.2L1592.3 1229.6Z" fill="none" stroke="#f32a35" stroke-width="3.2" stroke-linejoin="miter" stroke-miterlimit="10"/><path d="M1606.5 1218.4L1615.8 1223.8L1606.5 1229.2Z" fill="none" stroke="#f32a35" stroke-width="3.2" stroke-linejoin="miter" stroke-miterlimit="10"/><path d="M1620.6 1218.4L1629.9 1223.8L1620.6 1229.2Z" fill="none" stroke="#f32a35" stroke-width="3.2" stroke-linejoin="miter" stroke-miterlimit="10"/></g>
<g><circle cx="1155" cy="1666.5" r="7.5" fill="#7c2a8a"/><circle cx="1169.2" cy="1648.2" r="7.5" fill="#7c2a8a"/><circle cx="1183.4" cy="1619" r="7.5" fill="#7c2a8a"/><circle cx="1197.6" cy="1590.2" r="7.5" fill="#7c2a8a"/><circle cx="1211.8" cy="1558" r="7.5" fill="#7c2a8a"/><circle cx="1226" cy="1526.2" r="7.5" fill="#7c2a8a"/><circle cx="1240.1" cy="1479.5" r="7.5" fill="#7c2a8a"/><circle cx="1254.3" cy="1450.5" r="7.5" fill="#7c2a8a"/><circle cx="1268.5" cy="1422" r="7.5" fill="#7c2a8a"/><circle cx="1282.7" cy="1390.8" r="7.5" fill="#7c2a8a"/><circle cx="1296.9" cy="1377" r="7.5" fill="#7c2a8a"/><circle cx="1311.1" cy="1358" r="7.5" fill="#7c2a8a"/><circle cx="1325.3" cy="1341.2" r="7.5" fill="#7c2a8a"/><circle cx="1339.5" cy="1332.9" r="7.5" fill="#7c2a8a"/><circle cx="1353.7" cy="1326.1" r="7.5" fill="#7c2a8a"/><circle cx="1367.8" cy="1323.6" r="7.5" fill="#7c2a8a"/><circle cx="1382" cy="1312.1" r="7.5" fill="#7c2a8a"/><circle cx="1396.2" cy="1307.6" r="7.5" fill="#7c2a8a"/><circle cx="1410.4" cy="1303.7" r="7.5" fill="#7c2a8a"/><circle cx="1424.6" cy="1300.8" r="7.5" fill="#7c2a8a"/><circle cx="1438.8" cy="1298.2" r="7.5" fill="#7c2a8a"/><circle cx="1453" cy="1297.5" r="7.5" fill="#7c2a8a"/><circle cx="1467.2" cy="1294.3" r="7.5" fill="#7c2a8a"/><circle cx="1481.4" cy="1292" r="7.5" fill="#7c2a8a"/><circle cx="1495.6" cy="1291" r="7.5" fill="#7c2a8a"/><circle cx="1509.8" cy="1291" r="7.5" fill="#7c2a8a"/><circle cx="1523.9" cy="1290.5" r="7.5" fill="#7c2a8a"/><circle cx="1538.1" cy="1290.1" r="7.5" fill="#7c2a8a"/><circle cx="1552.3" cy="1289.1" r="7.5" fill="#7c2a8a"/><circle cx="1566.5" cy="1287.1" r="7.5" fill="#7c2a8a"/><circle cx="1580.7" cy="1282.3" r="7.5" fill="#7c2a8a"/><circle cx="1594.9" cy="1279.9" r="7.5" fill="#7c2a8a"/><circle cx="1609.1" cy="1278.4" r="7.5" fill="#7c2a8a"/><circle cx="1623.3" cy="1278" r="7.5" fill="#7c2a8a"/></g>
<g><path d="M1159.9 1658.9L1146.5 1666.5L1159.9 1674.1Z" fill="#129a4b"/><path d="M1174.1 1631.4L1160.7 1639L1174.1 1646.6Z" fill="#129a4b"/><path d="M1188.3 1611.4L1174.8 1619L1188.3 1626.6Z" fill="#129a4b"/><path d="M1202.5 1567.4L1189 1575L1202.5 1582.6Z" fill="#129a4b"/><path d="M1216.6 1510.4L1203.2 1518L1216.6 1525.6Z" fill="#129a4b"/><path d="M1230.8 1466.1L1217.4 1473.8L1230.8 1481.4Z" fill="#129a4b"/><path d="M1245 1419.9L1231.6 1427.5L1245 1435.1Z" fill="#129a4b"/><path d="M1259.2 1377.4L1245.8 1385L1259.2 1392.6Z" fill="#129a4b"/><path d="M1273.4 1347.9L1260 1355.5L1273.4 1363.1Z" fill="#129a4b"/><path d="M1287.6 1320.4L1274.2 1328L1287.6 1335.6Z" fill="#129a4b"/><path d="M1301.8 1301.1L1288.4 1308.8L1301.8 1316.4Z" fill="#129a4b"/><path d="M1316 1282.4L1302.5 1290L1316 1297.6Z" fill="#129a4b"/><path d="M1330.2 1267.4L1316.7 1275L1330.2 1282.6Z" fill="#129a4b"/><path d="M1344.4 1255.2L1330.9 1262.8L1344.4 1270.4Z" fill="#129a4b"/><path d="M1358.5 1245L1345.1 1252.6L1358.5 1260.3Z" fill="#129a4b"/><path d="M1372.7 1235.7L1359.3 1243.3L1372.7 1250.9Z" fill="#129a4b"/><path d="M1386.9 1229.4L1373.5 1237.1L1386.9 1244.7Z" fill="#129a4b"/><path d="M1401.1 1224L1387.7 1231.6L1401.1 1239.2Z" fill="#129a4b"/><path d="M1415.3 1217.5L1401.9 1225.2L1415.3 1232.8Z" fill="#129a4b"/><path d="M1429.5 1215.2L1416.1 1222.8L1429.5 1230.5Z" fill="#129a4b"/><path d="M1443.7 1214.6L1430.3 1222.2L1443.7 1229.9Z" fill="#129a4b"/><path d="M1457.9 1213.8L1444.5 1221.5L1457.9 1229.1Z" fill="#129a4b"/><path d="M1472.1 1212.9L1458.6 1220.5L1472.1 1228.1Z" fill="#129a4b"/><path d="M1486.2 1211.9L1472.8 1219.5L1486.2 1227.1Z" fill="#129a4b"/><path d="M1500.4 1210.7L1487 1218.3L1500.4 1226Z" fill="#129a4b"/><path d="M1514.6 1209.4L1501.2 1217L1514.6 1224.6Z" fill="#129a4b"/><path d="M1528.8 1208.8L1515.4 1216.4L1528.8 1224Z" fill="#129a4b"/><path d="M1543 1208.4L1529.6 1216L1543 1223.6Z" fill="#129a4b"/><path d="M1557.2 1208L1543.8 1215.6L1557.2 1223.2Z" fill="#129a4b"/><path d="M1571.4 1207.4L1558 1215L1571.4 1222.7Z" fill="#129a4b"/><path d="M1585.6 1206.4L1572.2 1214.1L1585.6 1221.7Z" fill="#129a4b"/><path d="M1599.8 1206L1586.3 1213.7L1599.8 1221.3Z" fill="#129a4b"/><path d="M1614 1205.8L1600.5 1213.5L1614 1221.1Z" fill="#129a4b"/><path d="M1628.2 1205.8L1614.7 1213.5L1628.2 1221.1Z" fill="#129a4b"/></g>
<g><circle cx="1155" cy="1666.5" r="6.4" fill="none" stroke="#353535" stroke-width="2.3"/><circle cx="1169.2" cy="1662" r="6.4" fill="none" stroke="#353535" stroke-width="2.3"/><circle cx="1183.4" cy="1651.5" r="6.4" fill="none" stroke="#353535" stroke-width="2.3"/><circle cx="1197.6" cy="1641.5" r="6.4" fill="none" stroke="#353535" stroke-width="2.3"/><circle cx="1211.8" cy="1625.8" r="6.4" fill="none" stroke="#353535" stroke-width="2.3"/><circle cx="1226" cy="1608.5" r="6.4" fill="none" stroke="#353535" stroke-width="2.3"/><circle cx="1240.1" cy="1589" r="6.4" fill="none" stroke="#353535" stroke-width="2.3"/><circle cx="1254.3" cy="1569.5" r="6.4" fill="none" stroke="#353535" stroke-width="2.3"/><circle cx="1268.5" cy="1538.8" r="6.4" fill="none" stroke="#353535" stroke-width="2.3"/><circle cx="1282.7" cy="1510" r="6.4" fill="none" stroke="#353535" stroke-width="2.3"/><circle cx="1296.9" cy="1464.2" r="6.4" fill="none" stroke="#353535" stroke-width="2.3"/><circle cx="1311.1" cy="1435.8" r="6.4" fill="none" stroke="#353535" stroke-width="2.3"/><circle cx="1325.3" cy="1410.8" r="6.4" fill="none" stroke="#353535" stroke-width="2.3"/><circle cx="1339.5" cy="1374.4" r="6.4" fill="none" stroke="#353535" stroke-width="2.3"/><circle cx="1353.7" cy="1352.4" r="6.4" fill="none" stroke="#353535" stroke-width="2.3"/><circle cx="1367.8" cy="1330" r="6.4" fill="none" stroke="#353535" stroke-width="2.3"/><circle cx="1382" cy="1311.5" r="6.4" fill="none" stroke="#353535" stroke-width="2.3"/><circle cx="1396.2" cy="1295.9" r="6.4" fill="none" stroke="#353535" stroke-width="2.3"/><circle cx="1410.4" cy="1277.4" r="6.4" fill="none" stroke="#353535" stroke-width="2.3"/><circle cx="1424.6" cy="1263.8" r="6.4" fill="none" stroke="#353535" stroke-width="2.3"/><circle cx="1438.8" cy="1252.6" r="6.4" fill="none" stroke="#353535" stroke-width="2.3"/><circle cx="1453" cy="1246.2" r="6.4" fill="none" stroke="#353535" stroke-width="2.3"/><circle cx="1467.2" cy="1236.5" r="6.4" fill="none" stroke="#353535" stroke-width="2.3"/><circle cx="1481.4" cy="1233.9" r="6.4" fill="none" stroke="#353535" stroke-width="2.3"/><circle cx="1495.6" cy="1231.2" r="6.4" fill="none" stroke="#353535" stroke-width="2.3"/><circle cx="1509.8" cy="1228.7" r="6.4" fill="none" stroke="#353535" stroke-width="2.3"/><circle cx="1523.9" cy="1227.7" r="6.4" fill="none" stroke="#353535" stroke-width="2.3"/><circle cx="1538.1" cy="1222.8" r="6.4" fill="none" stroke="#353535" stroke-width="2.3"/><circle cx="1552.3" cy="1219.5" r="6.4" fill="none" stroke="#353535" stroke-width="2.3"/><circle cx="1566.5" cy="1216" r="6.4" fill="none" stroke="#353535" stroke-width="2.3"/><circle cx="1580.7" cy="1214.1" r="6.4" fill="none" stroke="#353535" stroke-width="2.3"/><circle cx="1594.9" cy="1213.1" r="6.4" fill="none" stroke="#353535" stroke-width="2.3"/><circle cx="1609.1" cy="1212.7" r="6.4" fill="none" stroke="#353535" stroke-width="2.3"/><circle cx="1623.3" cy="1212.7" r="6.4" fill="none" stroke="#353535" stroke-width="2.3"/></g>
<g><path d="M1150.1 1659.3H1159.9L1156.8 1666.5L1159.9 1673.7H1150.1L1153.2 1666.5Z" fill="#fa981c"/><path d="M1164.3 1639.3H1174.1L1171 1646.5L1174.1 1653.7H1164.3L1167.4 1646.5Z" fill="#fa981c"/><path d="M1178.5 1614.3H1188.3L1185.2 1621.5L1188.3 1628.7H1178.5L1181.6 1621.5Z" fill="#fa981c"/><path d="M1192.7 1585.1H1202.5L1199.4 1592.2L1202.5 1599.4H1192.7L1195.7 1592.2Z" fill="#fa981c"/><path d="M1206.9 1565.6H1216.6L1213.6 1572.8L1216.6 1579.9H1206.9L1209.9 1572.8Z" fill="#fa981c"/><path d="M1221.1 1540.8H1230.8L1227.8 1548L1230.8 1555.2H1221.1L1224.1 1548Z" fill="#fa981c"/><path d="M1235.3 1508.3H1245L1242 1515.5L1245 1522.7H1235.3L1238.3 1515.5Z" fill="#fa981c"/><path d="M1249.4 1474.6H1259.2L1256.2 1481.8L1259.2 1488.9H1249.4L1252.5 1481.8Z" fill="#fa981c"/><path d="M1263.6 1434.8H1273.4L1270.3 1442L1273.4 1449.2H1263.6L1266.7 1442Z" fill="#fa981c"/><path d="M1277.8 1413.3H1287.6L1284.5 1420.5L1287.6 1427.7H1277.8L1280.9 1420.5Z" fill="#fa981c"/><path d="M1292 1386.1H1301.8L1298.7 1393.2L1301.8 1400.4H1292L1295.1 1393.2Z" fill="#fa981c"/><path d="M1306.2 1364.1H1316L1312.9 1371.2L1316 1378.4H1306.2L1309.3 1371.2Z" fill="#fa981c"/><path d="M1320.4 1345.2H1330.2L1327.1 1352.4L1330.2 1359.6H1320.4L1323.5 1352.4Z" fill="#fa981c"/><path d="M1334.6 1333.1H1344.4L1341.3 1340.3L1344.4 1347.5H1334.6L1337.6 1340.3Z" fill="#fa981c"/><path d="M1348.8 1318.3H1358.5L1355.5 1325.5L1358.5 1332.7H1348.8L1351.8 1325.5Z" fill="#fa981c"/><path d="M1363 1316H1372.7L1369.7 1323.2L1372.7 1330.4H1363L1366 1323.2Z" fill="#fa981c"/><path d="M1377.2 1307.8H1386.9L1383.9 1315L1386.9 1322.2H1377.2L1380.2 1315Z" fill="#fa981c"/><path d="M1391.3 1296.5H1401.1L1398.1 1303.7L1401.1 1310.9H1391.3L1394.4 1303.7Z" fill="#fa981c"/><path d="M1405.5 1290.7H1415.3L1412.2 1297.9L1415.3 1305.1H1405.5L1408.6 1297.9Z" fill="#fa981c"/><path d="M1419.7 1282.5H1429.5L1426.4 1289.7L1429.5 1296.9H1419.7L1422.8 1289.7Z" fill="#fa981c"/><path d="M1433.9 1277H1443.7L1440.6 1284.2L1443.7 1291.4H1433.9L1437 1284.2Z" fill="#fa981c"/><path d="M1448.1 1271.2H1457.9L1454.8 1278.4L1457.9 1285.6H1448.1L1451.2 1278.4Z" fill="#fa981c"/><path d="M1462.3 1269.6H1472.1L1469 1276.8L1472.1 1284H1462.3L1465.4 1276.8Z" fill="#fa981c"/><path d="M1476.5 1268.2H1486.2L1483.2 1275.4L1486.2 1282.6H1476.5L1479.5 1275.4Z" fill="#fa981c"/><path d="M1490.7 1263.8H1500.4L1497.4 1271L1500.4 1278.2H1490.7L1493.7 1271Z" fill="#fa981c"/><path d="M1504.9 1261.4H1514.6L1511.6 1268.6L1514.6 1275.8H1504.9L1507.9 1268.6Z" fill="#fa981c"/><path d="M1519.1 1260.5H1528.8L1525.8 1267.6L1528.8 1274.8H1519.1L1522.1 1267.6Z" fill="#fa981c"/><path d="M1533.2 1259.5H1543L1540 1266.7L1543 1273.9H1533.2L1536.3 1266.7Z" fill="#fa981c"/><path d="M1547.4 1259.1H1557.2L1554.1 1266.3L1557.2 1273.5H1547.4L1550.5 1266.3Z" fill="#fa981c"/><path d="M1561.6 1258.5H1571.4L1568.3 1265.7L1571.4 1272.9H1561.6L1564.7 1265.7Z" fill="#fa981c"/><path d="M1575.8 1258.1H1585.6L1582.5 1265.3L1585.6 1272.5H1575.8L1578.9 1265.3Z" fill="#fa981c"/><path d="M1590 1257.5H1599.8L1596.7 1264.7L1599.8 1271.9H1590L1593.1 1264.7Z" fill="#fa981c"/><path d="M1604.2 1256.9H1614L1610.9 1264.1L1614 1271.3H1604.2L1607.2 1264.1Z" fill="#fa981c"/><path d="M1618.4 1256.6H1628.2L1625.1 1263.8L1628.2 1270.9H1618.4L1621.4 1263.8Z" fill="#fa981c"/></g>
</g>
<text x="1184.5" y="1216.3" class="ti" font-size="18.6">(i)Email-Eu-core</text>
<path d="M1495.2 1486.5L1503.8 1477.9L1512.4 1486.5L1503.8 1495.1Z" fill="none" stroke="#3c55b6" stroke-width="2.3"/>
<text x="1514.4" y="1491.8" class="lgb" font-size="15.5">BC</text>
<path d="M1496.5 1510.4L1503.8 1496.8L1511.1 1510.4Z" fill="#1d6079"/>
<text x="1514.4" y="1510.3" class="lgb" font-size="15.5">CR</text>
<path d="M1501.2 1518.1L1510.5 1523.5L1501.2 1528.9Z" fill="none" stroke="#f32a35" stroke-width="3.2" stroke-linejoin="miter" stroke-miterlimit="10"/>
<text x="1514.4" y="1528.8" class="lgb" font-size="15.5">DC</text>
<circle cx="1503.8" cy="1542" r="7.5" fill="#7c2a8a"/>
<text x="1514.4" y="1547.3" class="lgb" font-size="15.5">EC</text>
<circle cx="1503.8" cy="1560.5" r="6.4" fill="none" stroke="#353535" stroke-width="2.3"/>
<text x="1514.4" y="1565.8" class="lgb" font-size="15.5">FA</text>
<path d="M1508.7 1571.4L1495.3 1579L1508.7 1586.6Z" fill="#129a4b"/>
<text x="1514.4" y="1584.3" class="lgb" font-size="15.5">LR</text>
<path d="M1498.9 1590.3H1508.7L1505.6 1597.5L1508.7 1604.7H1498.9L1502 1597.5Z" fill="#fa981c"/>
<text x="1514.4" y="1602.8" class="lgb" font-size="15.5">PR</text>
<text x="1391.3" y="1741.5" text-anchor="middle" class="ti" font-size="18">Time</text>
</svg>
</body>
</html>
